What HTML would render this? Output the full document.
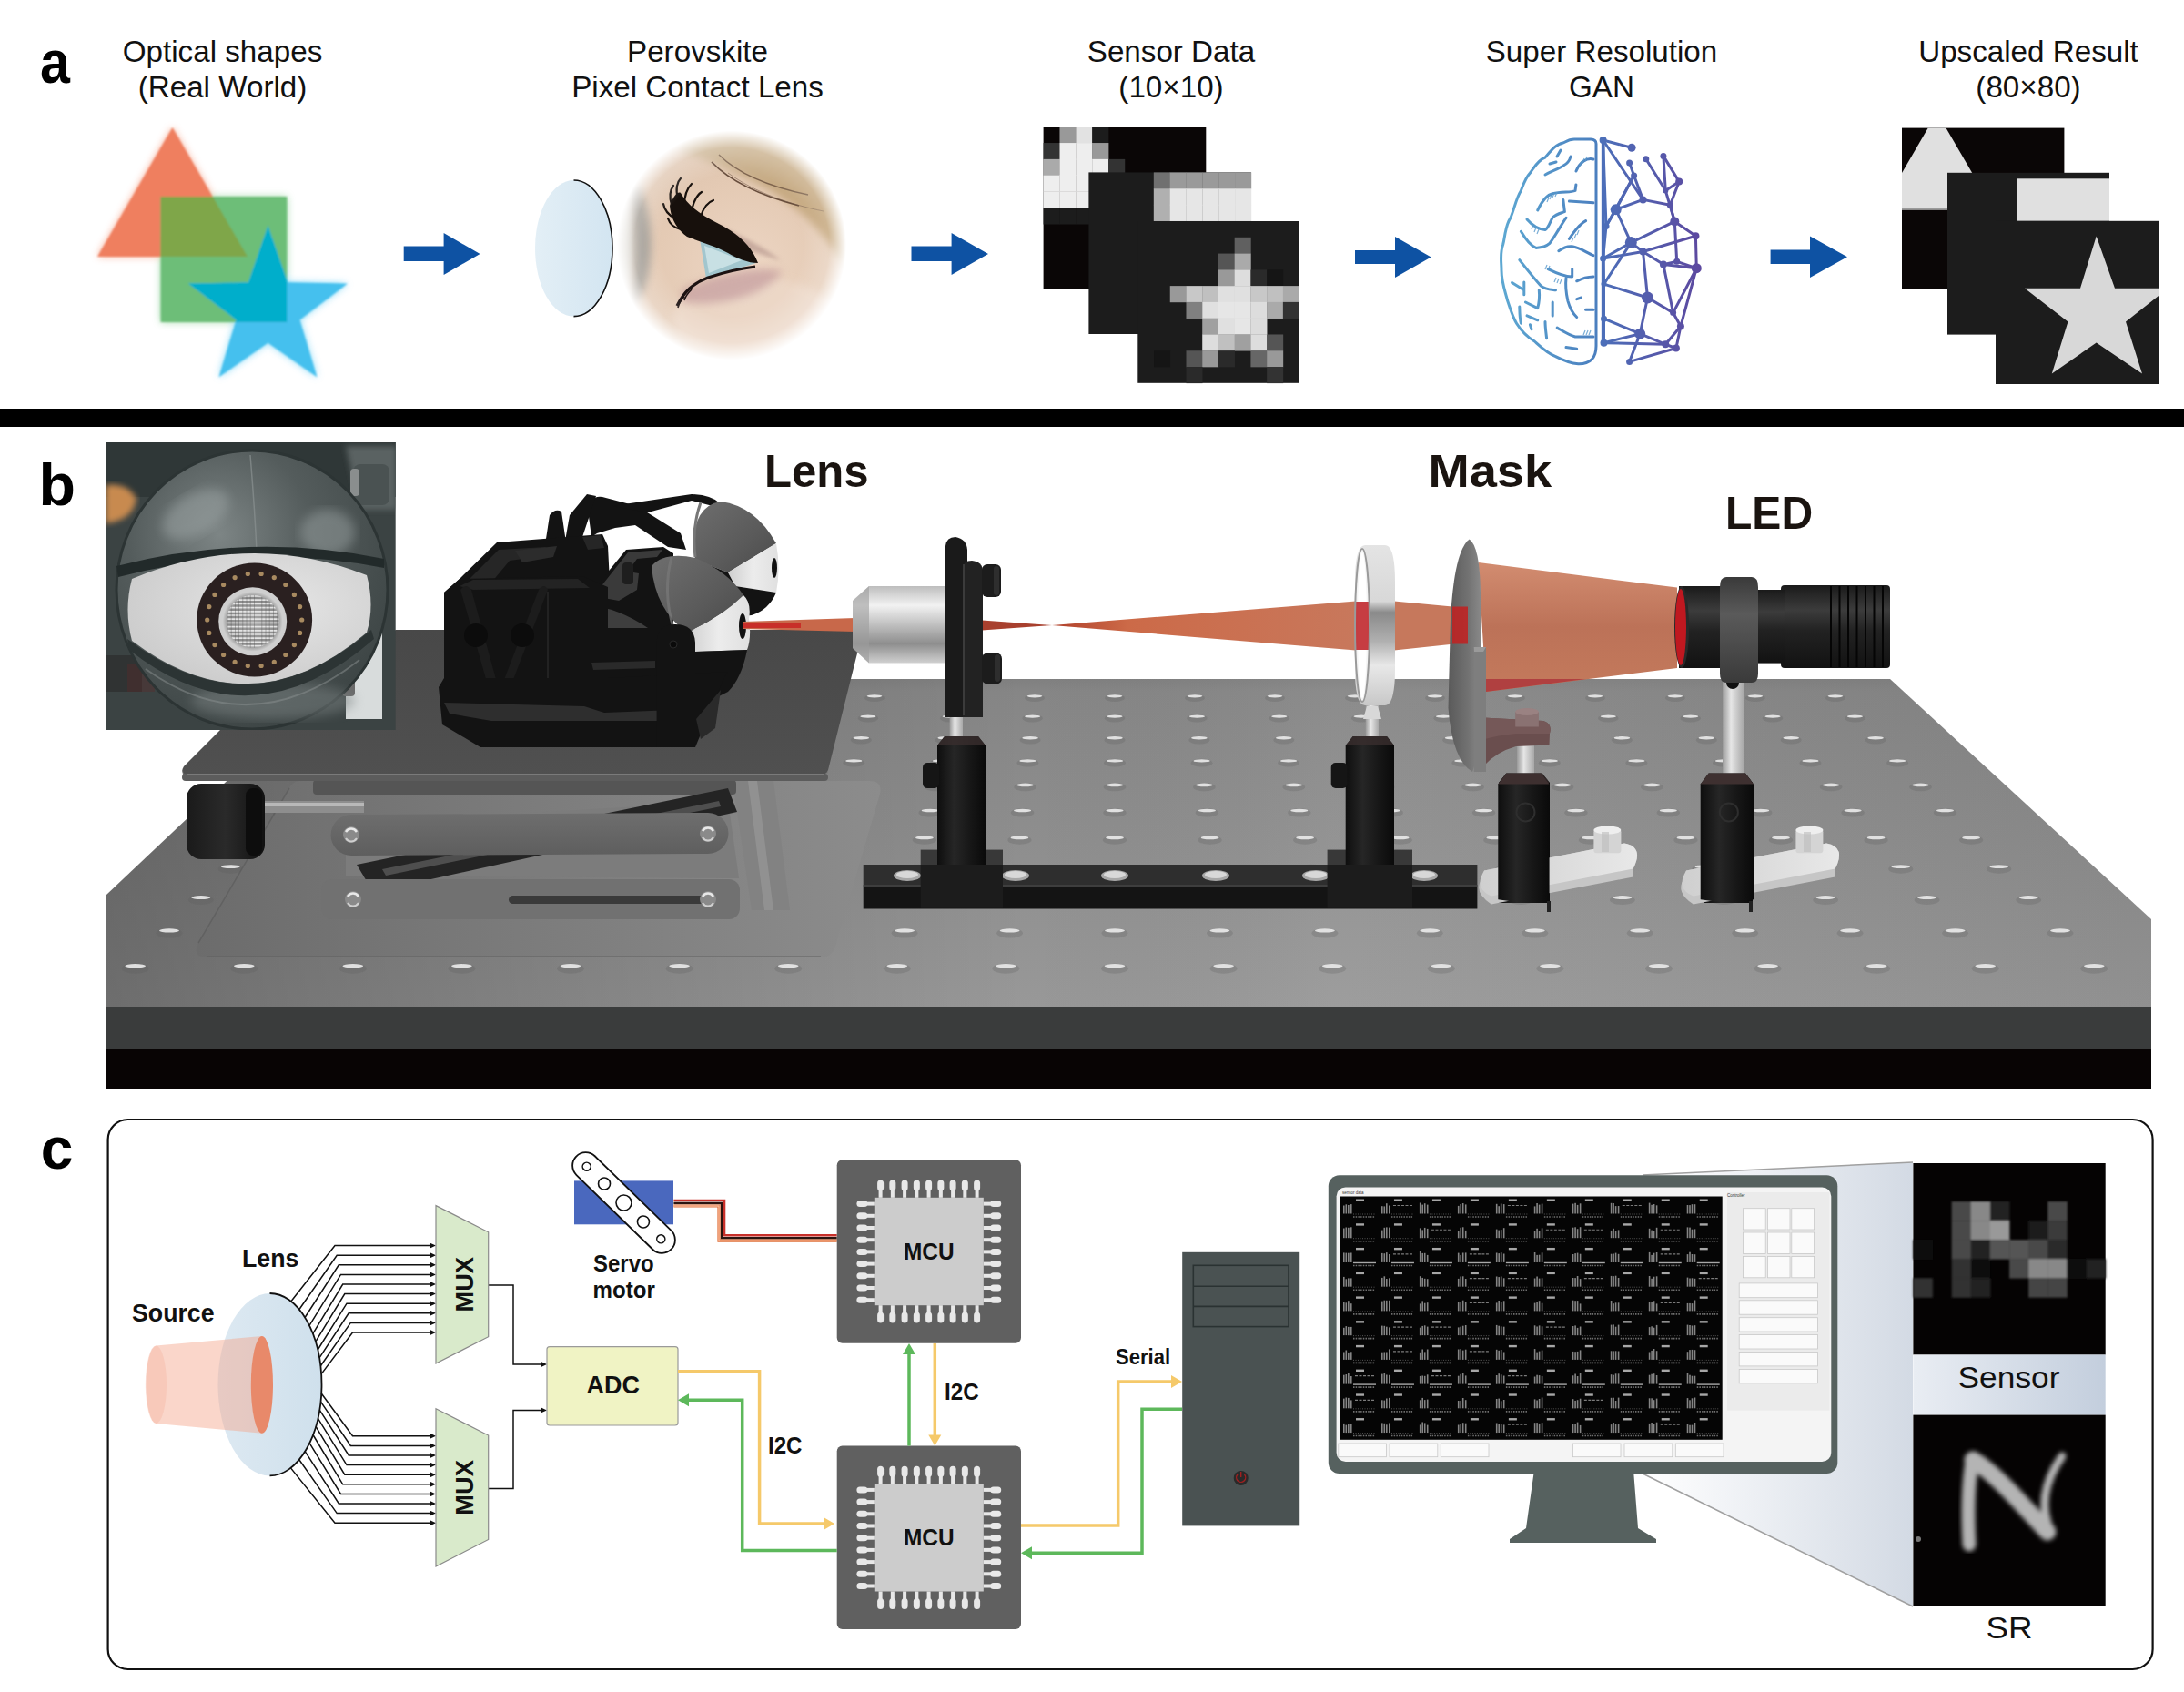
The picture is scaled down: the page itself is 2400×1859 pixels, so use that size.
<!DOCTYPE html>
<html><head><meta charset="utf-8"><title>Figure</title>
<style>
html,body{margin:0;padding:0;background:#ffffff;}
body{width:2400px;height:1859px;overflow:hidden;}
svg{display:block;}
text{font-family:"Liberation Sans",sans-serif;}
</style></head><body>
<svg width="2400" height="1859" viewBox="0 0 2400 1859">
<rect x="0" y="0" width="2400" height="1859" fill="#ffffff"/>
<text x="44" y="90.8" font-size="66.5" font-weight="bold" transform="translate(44,0) scale(0.89,1) translate(-44,0)" fill="#000">a</text>
<text x="244.5" y="67.8" font-size="33.2" text-anchor="middle" fill="#111">Optical shapes</text>
<text x="244.5" y="106.9" font-size="33.2" text-anchor="middle" fill="#111">(Real World)</text>
<text x="766.5" y="67.8" font-size="33.2" text-anchor="middle" fill="#111">Perovskite</text>
<text x="766.5" y="106.9" font-size="33.2" text-anchor="middle" fill="#111">Pixel Contact Lens</text>
<text x="1287" y="67.8" font-size="33.2" text-anchor="middle" fill="#111">Sensor Data</text>
<text x="1287" y="106.9" font-size="33.2" text-anchor="middle" fill="#111">(10×10)</text>
<text x="1760" y="67.8" font-size="33.2" text-anchor="middle" fill="#111">Super Resolution</text>
<text x="1760" y="106.9" font-size="33.2" text-anchor="middle" fill="#111">GAN</text>
<text x="2229" y="67.8" font-size="33.2" text-anchor="middle" fill="#111">Upscaled Result</text>
<text x="2229" y="106.9" font-size="33.2" text-anchor="middle" fill="#111">(80×80)</text>
<polygon points="443.7,270.6 487.6,270.6 487.6,256 527.5,279.0 487.6,302 487.6,287 443.7,287" fill="#0E52A3"/>
<polygon points="1001.5,270.6 1045.6,270.6 1045.6,256 1086,279.0 1045.6,302 1045.6,287 1001.5,287" fill="#0E52A3"/>
<polygon points="1489,275 1533,275 1533,260 1572.6,282.5 1533,305 1533,290 1489,290" fill="#0E52A3"/>
<polygon points="1945.6,274.5 1989,274.5 1989,259.6 2030,282.3 1989,305 1989,290 1945.6,290" fill="#0E52A3"/>
<defs><filter id="soft" x="-20%" y="-20%" width="140%" height="140%"><feGaussianBlur stdDeviation="4"/></filter><filter id="soft2" x="-20%" y="-20%" width="140%" height="140%"><feGaussianBlur stdDeviation="0.9"/></filter></defs>
<defs><clipPath id="sqclip"><rect x="176.6" y="216" width="138.8" height="138"/></clipPath></defs>
<g filter="url(#soft)" opacity="0.7">
<polygon points="189.5,140 107,282 272,282" fill="#F49070"/>
<rect x="176.6" y="216" width="138.8" height="138" fill="#80CC8A"/>
<polygon points="294.5,248.0 316.1,310.2 382.0,311.6 329.5,351.4 348.6,414.4 294.5,376.8 240.4,414.4 259.5,351.4 207.0,311.6 272.9,310.2" fill="#60CCF4"/>
</g>
<g filter="url(#soft2)">
<polygon points="189.5,140 107,282 272,282" fill="#EF7F5F"/>
<rect x="176.6" y="216" width="138.8" height="138" fill="#6DBE78"/>
<polygon points="176.6,216 233.7,216 272,282 176.6,282" fill="#7FA64A"/>
<polygon points="294.5,248.0 316.1,310.2 382.0,311.6 329.5,351.4 348.6,414.4 294.5,376.8 240.4,414.4 259.5,351.4 207.0,311.6 272.9,310.2" fill="#45C0EE"/>
<g clip-path="url(#sqclip)"><polygon points="294.5,248.0 316.1,310.2 382.0,311.6 329.5,351.4 348.6,414.4 294.5,376.8 240.4,414.4 259.5,351.4 207.0,311.6 272.9,310.2" fill="#00AECB"/></g>
</g>
<defs><linearGradient id="lensg" x1="0" x2="1"><stop offset="0" stop-color="#E3EFF6"/><stop offset="1" stop-color="#D3E5F1"/></linearGradient></defs>
<ellipse cx="630.5" cy="272.8" rx="42.5" ry="74.8" fill="url(#lensg)"/>
<path d="M630.5,198 A42.5,74.8 0 0 1 630.5,347.6" fill="none" stroke="#111" stroke-width="1.6"/>
<defs>
<radialGradient id="eyefade" cx="0.5" cy="0.5" r="0.5"><stop offset="0.62" stop-color="#fff" stop-opacity="1"/><stop offset="0.85" stop-color="#fff" stop-opacity="0.75"/><stop offset="1" stop-color="#fff" stop-opacity="0"/></radialGradient>
<mask id="eyemask"><circle cx="804" cy="269.5" r="126" fill="url(#eyefade)"/></mask>
<radialGradient id="skin" cx="0.55" cy="0.6" r="0.6"><stop offset="0" stop-color="#EDD6C4"/><stop offset="0.6" stop-color="#E4CAB4"/><stop offset="1" stop-color="#DCC2AC"/></radialGradient>
<linearGradient id="hair" x1="0" y1="0" x2="1" y2="1"><stop offset="0" stop-color="#CDB89A"/><stop offset="1" stop-color="#B9935E"/></linearGradient>
<filter id="blur2" x="-50%" y="-50%" width="200%" height="200%"><feGaussianBlur stdDeviation="2"/></filter>
<filter id="blur5" x="-60%" y="-60%" width="220%" height="220%"><feGaussianBlur stdDeviation="5"/></filter>
</defs>
<g mask="url(#eyemask)">
<rect x="670" y="140" width="270" height="260" fill="url(#skin)"/>
<ellipse cx="830" cy="350" rx="90" ry="45" fill="#EEDACB" opacity="0.7" filter="url(#blur5)"/>
<path d="M670,180 C690,200 700,240 698,275 C696,305 688,330 670,350 Z" fill="#D8D4CC" filter="url(#blur5)"/>
<path d="M700,200 C716,232 718,270 712,302 C708,320 700,334 690,342 C698,300 700,250 688,206 Z" fill="#96938C" opacity="0.9" filter="url(#blur5)"/>
<path d="M740,140 L940,140 L940,310 C920,275 892,238 855,214 C822,194 790,180 748,166 Z" fill="url(#hair)" filter="url(#blur5)"/>
<path d="M782,178 C805,202 840,216 878,226" fill="none" stroke="#4a3020" stroke-width="1.8" opacity="0.8"/>
<path d="M790,170 C812,192 845,205 888,214" fill="none" stroke="#5a4030" stroke-width="1.4" opacity="0.7"/>
<path d="M800,190 C830,212 870,225 905,232" fill="none" stroke="#6a5040" stroke-width="1" opacity="0.5"/>
<path d="M750,318 C790,300 830,292 860,298 C840,325 790,338 750,332 Z" fill="#B88A92" opacity="0.55" filter="url(#blur5)"/>
<path d="M755,236 C795,248 835,268 858,286 C835,280 790,262 758,250 Z" fill="#B09088" opacity="0.6" filter="url(#blur2)"/>
<polygon points="769,262 831,289 776,306" fill="#A2C6CE"/>
<polygon points="774,270 815,286 779,300" fill="#C8E0E4"/>
<path d="M736,226 C740,215 745,210 748,212 C756,226 770,236 790,246 C810,256 826,270 833,289 C822,289 810,284 800,278 C786,270 770,266 755,260 C744,252 737,240 736,226 Z" fill="#17100c"/>
<path d="M738,225 C735,215 737,208 740,204" fill="none" stroke="#17100c" stroke-width="2.2" stroke-linecap="round"/>
<path d="M745,218 C742,208 744,200 748,196" fill="none" stroke="#17100c" stroke-width="2.2" stroke-linecap="round"/>
<path d="M752,226 C752,214 756,206 760,202" fill="none" stroke="#17100c" stroke-width="2.2" stroke-linecap="round"/>
<path d="M760,232 C762,222 766,214 771,211" fill="none" stroke="#17100c" stroke-width="2.2" stroke-linecap="round"/>
<path d="M770,238 C773,228 778,222 784,220" fill="none" stroke="#17100c" stroke-width="2.2" stroke-linecap="round"/>
<path d="M742,240 C734,236 730,230 729,224" fill="none" stroke="#17100c" stroke-width="2.2" stroke-linecap="round"/>
<path d="M748,252 C740,250 736,246 734,240" fill="none" stroke="#17100c" stroke-width="2.2" stroke-linecap="round"/>
<path d="M744,336 C752,320 762,311 778,305 C796,299 814,295 830,293" fill="none" stroke="#1c1212" stroke-width="3.2"/>
<path d="M752,326 C748,330 746,334 745,338 M760,318 C756,322 753,326 752,330" fill="none" stroke="#1c1212" stroke-width="1.6"/>
</g>
<rect x="1146.6" y="139.2" width="178.70" height="178.40" fill="#0a0606"/>
<rect x="1164.47" y="139.20" width="18.17" height="18.14" fill="#999"/>
<rect x="1182.34" y="139.20" width="18.17" height="18.14" fill="#e2e2e2"/>
<rect x="1200.21" y="139.20" width="18.17" height="18.14" fill="#1c1c1c"/>
<rect x="1146.60" y="157.04" width="18.17" height="18.14" fill="#333"/>
<rect x="1164.47" y="157.04" width="18.17" height="18.14" fill="#eee"/>
<rect x="1182.34" y="157.04" width="18.17" height="18.14" fill="#eee"/>
<rect x="1200.21" y="157.04" width="18.17" height="18.14" fill="#999"/>
<rect x="1146.60" y="174.88" width="18.17" height="18.14" fill="#aaa"/>
<rect x="1164.47" y="174.88" width="18.17" height="18.14" fill="#eee"/>
<rect x="1182.34" y="174.88" width="18.17" height="18.14" fill="#eee"/>
<rect x="1200.21" y="174.88" width="18.17" height="18.14" fill="#eee"/>
<rect x="1218.08" y="174.88" width="18.17" height="18.14" fill="#333"/>
<rect x="1146.60" y="192.72" width="18.17" height="18.14" fill="#eee"/>
<rect x="1164.47" y="192.72" width="18.17" height="18.14" fill="#eee"/>
<rect x="1182.34" y="192.72" width="18.17" height="18.14" fill="#eee"/>
<rect x="1146.60" y="210.56" width="18.17" height="18.14" fill="#eee"/>
<rect x="1164.47" y="210.56" width="18.17" height="18.14" fill="#eee"/>
<rect x="1182.34" y="210.56" width="18.17" height="18.14" fill="#eee"/>
<rect x="1146.60" y="228.40" width="18.17" height="18.14" fill="#1c1c1c"/>
<rect x="1164.47" y="228.40" width="18.17" height="18.14" fill="#1c1c1c"/>
<rect x="1182.34" y="228.40" width="18.17" height="18.14" fill="#1c1c1c"/>
<rect x="1196.4" y="189.4" width="178.50" height="177.60" fill="#1c1c1c"/>
<rect x="1267.80" y="189.40" width="18.15" height="18.06" fill="#707070"/>
<rect x="1285.65" y="189.40" width="18.15" height="18.06" fill="#9a9a9a"/>
<rect x="1303.50" y="189.40" width="18.15" height="18.06" fill="#9a9a9a"/>
<rect x="1321.35" y="189.40" width="18.15" height="18.06" fill="#9a9a9a"/>
<rect x="1339.20" y="189.40" width="18.15" height="18.06" fill="#9a9a9a"/>
<rect x="1357.05" y="189.40" width="18.15" height="18.06" fill="#9a9a9a"/>
<rect x="1267.80" y="207.16" width="18.15" height="18.06" fill="#b0b0b0"/>
<rect x="1267.80" y="224.92" width="18.15" height="18.06" fill="#b0b0b0"/>
<rect x="1285.65" y="207.16" width="18.15" height="18.06" fill="#e6e6e6"/>
<rect x="1303.50" y="207.16" width="18.15" height="18.06" fill="#e6e6e6"/>
<rect x="1321.35" y="207.16" width="18.15" height="18.06" fill="#e6e6e6"/>
<rect x="1339.20" y="207.16" width="18.15" height="18.06" fill="#e6e6e6"/>
<rect x="1357.05" y="207.16" width="18.15" height="18.06" fill="#e6e6e6"/>
<rect x="1285.65" y="224.92" width="18.15" height="18.06" fill="#e6e6e6"/>
<rect x="1303.50" y="224.92" width="18.15" height="18.06" fill="#e6e6e6"/>
<rect x="1321.35" y="224.92" width="18.15" height="18.06" fill="#e6e6e6"/>
<rect x="1339.20" y="224.92" width="18.15" height="18.06" fill="#e6e6e6"/>
<rect x="1357.05" y="224.92" width="18.15" height="18.06" fill="#e6e6e6"/>
<rect x="1250.3" y="243" width="177.30" height="177.80" fill="#1c1c1c"/>
<rect x="1356.68" y="260.78" width="18.03" height="18.08" fill="#606060"/>
<rect x="1338.95" y="278.56" width="18.03" height="18.08" fill="#555"/>
<rect x="1356.68" y="278.56" width="18.03" height="18.08" fill="#aaa"/>
<rect x="1338.95" y="296.34" width="18.03" height="18.08" fill="#999"/>
<rect x="1356.68" y="296.34" width="18.03" height="18.08" fill="#ddd"/>
<rect x="1374.41" y="296.34" width="18.03" height="18.08" fill="#2a2a2a"/>
<rect x="1392.14" y="296.34" width="18.03" height="18.08" fill="#151515"/>
<rect x="1285.76" y="314.12" width="18.03" height="18.08" fill="#999"/>
<rect x="1303.49" y="314.12" width="18.03" height="18.08" fill="#c8c8c8"/>
<rect x="1321.22" y="314.12" width="18.03" height="18.08" fill="#c0c0c0"/>
<rect x="1338.95" y="314.12" width="18.03" height="18.08" fill="#e0e0e0"/>
<rect x="1356.68" y="314.12" width="18.03" height="18.08" fill="#e0e0e0"/>
<rect x="1374.41" y="314.12" width="18.03" height="18.08" fill="#c8c8c8"/>
<rect x="1392.14" y="314.12" width="18.03" height="18.08" fill="#c0c0c0"/>
<rect x="1409.87" y="314.12" width="18.03" height="18.08" fill="#aaa"/>
<rect x="1303.49" y="331.90" width="18.03" height="18.08" fill="#808080"/>
<rect x="1321.22" y="331.90" width="18.03" height="18.08" fill="#e0e0e0"/>
<rect x="1338.95" y="331.90" width="18.03" height="18.08" fill="#e6e6e6"/>
<rect x="1356.68" y="331.90" width="18.03" height="18.08" fill="#e6e6e6"/>
<rect x="1374.41" y="331.90" width="18.03" height="18.08" fill="#ddd"/>
<rect x="1392.14" y="331.90" width="18.03" height="18.08" fill="#aaa"/>
<rect x="1409.87" y="331.90" width="18.03" height="18.08" fill="#333"/>
<rect x="1321.22" y="349.68" width="18.03" height="18.08" fill="#a0a0a0"/>
<rect x="1338.95" y="349.68" width="18.03" height="18.08" fill="#e0e0e0"/>
<rect x="1356.68" y="349.68" width="18.03" height="18.08" fill="#e6e6e6"/>
<rect x="1374.41" y="349.68" width="18.03" height="18.08" fill="#dcdcdc"/>
<rect x="1321.22" y="367.46" width="18.03" height="18.08" fill="#ddd"/>
<rect x="1338.95" y="367.46" width="18.03" height="18.08" fill="#c0c0c0"/>
<rect x="1356.68" y="367.46" width="18.03" height="18.08" fill="#a0a0a0"/>
<rect x="1374.41" y="367.46" width="18.03" height="18.08" fill="#ddd"/>
<rect x="1392.14" y="367.46" width="18.03" height="18.08" fill="#555"/>
<rect x="1268.03" y="385.24" width="18.03" height="18.08" fill="#151515"/>
<rect x="1303.49" y="385.24" width="18.03" height="18.08" fill="#555"/>
<rect x="1321.22" y="385.24" width="18.03" height="18.08" fill="#999"/>
<rect x="1338.95" y="385.24" width="18.03" height="18.08" fill="#2a2a2a"/>
<rect x="1374.41" y="385.24" width="18.03" height="18.08" fill="#666"/>
<rect x="1392.14" y="385.24" width="18.03" height="18.08" fill="#999"/>
<rect x="1303.49" y="403.02" width="18.03" height="18.08" fill="#2a2a2a"/>
<rect x="1392.14" y="403.02" width="18.03" height="18.08" fill="#333"/>
<defs><clipPath id="up1"><rect x="2090" y="140.6" width="178.4" height="177"/></clipPath><clipPath id="up3"><rect x="2193" y="242.8" width="179" height="179.2"/></clipPath></defs>
<rect x="2090" y="140.6" width="178.4" height="177" fill="#0a0606"/>
<g clip-path="url(#up1)"><polygon points="2118.8,140.6 2138.4,140.6 2189.6,228.4 2090,228.4 2090,190" fill="#e0e0e0"/><rect x="2090" y="228.4" width="60" height="2.5" fill="#9a9a9a"/></g>
<rect x="2140" y="189.8" width="178" height="177.8" fill="#1c1c1c"/>
<rect x="2216" y="196.3" width="102" height="46.5" fill="#e0e0e0"/>
<rect x="2193" y="242.8" width="179" height="179.2" fill="#1c1c1c"/>
<g clip-path="url(#up3)"><polygon points="2303.7,259.6 2324,316.7 2382.4,316.7 2336,353.5 2354,410.5 2303.7,376.6 2254.8,410.5 2272.5,353.5 2225,316.7 2286,316.7" fill="#d8d8d8"/></g>
<defs><linearGradient id="brainL" x1="1650" x2="1760" y1="0" y2="0" gradientUnits="userSpaceOnUse"><stop offset="0" stop-color="#5DA8D2"/><stop offset="1" stop-color="#4A7DBE"/></linearGradient><linearGradient id="brainR" x1="1760" x2="1870" y1="0" y2="0" gradientUnits="userSpaceOnUse"><stop offset="0" stop-color="#4C6FB9"/><stop offset="1" stop-color="#5D489F"/></linearGradient></defs>
<g fill="none" stroke="url(#brainL)" stroke-width="3" stroke-linecap="round" stroke-linejoin="round">
<path d="M1754,158 Q1754,153 1748,153 L1730,153 C1724,153 1720,156 1717.8,157 C1710,158 1704,166 1698,173 C1690,176 1686,184 1681.4,190 C1676,196 1674,203 1671.4,209.5 C1666,218 1664,230 1659.9,239.3 C1654,248 1654,260 1651.6,269 C1648,278 1650,288 1650,297.2 C1650,310 1654,320 1656.6,330.3 C1660,340 1662,348 1666.5,355.2 C1672,364 1678,370 1686.3,375 C1694,382 1700,388 1709.5,391.6 C1718,396 1726,399 1734.3,399.8 C1742,400 1746,398 1749.2,394.9 Q1754,390 1754,380 Z"/>
<path d="M1732,188 C1736,178 1744,173 1751,175"/>
<path d="M1703,180 L1710,178"/>
<path d="M1711,172 L1715,165"/>
<path d="M1698,192 C1705,188 1712,186 1718,182 C1722,180 1725,176 1726,172"/>
<path d="M1689.7,231 C1694,222 1700,214 1706.2,212.8 C1716,210 1726,212 1731,209.5 L1731.9,202.9"/>
<path d="M1678,241 C1684,248 1692,252 1698,252.5 C1702,250 1704,242 1706,239.3 C1710,235 1716,234 1719.4,232.7 L1717.8,219.4"/>
<path d="M1724.4,221 L1751,222.8"/>
<path d="M1671.4,254.2 C1676,262 1682,270 1688,272.4 C1694,272 1700,270 1702.9,267.4 C1710,258 1716,246 1721,239.3"/>
<path d="M1724.4,262.5 C1730,254 1736,246 1742.6,242.6"/>
<path d="M1712.8,275.7 C1718,272 1722,270 1727.7,270.8 C1736,272 1744,278 1751,280.7"/>
<path d="M1669.8,285.6 C1678,296 1686,306 1693,313.8 C1698,318 1704,318 1709.5,318.7"/>
<path d="M1701.2,295.6 C1710,300 1720,304 1727.7,303.9 L1727.7,295.6"/>
<path d="M1721,305.5 C1720,314 1721,322 1722.8,330.3 C1725,338 1728,344 1732.7,348.5"/>
<path d="M1732.7,308.8 C1738,306 1746,304 1751,303.9"/>
<path d="M1661.5,310.5 L1674.8,318.7 M1674.8,310 L1674.8,323.7"/>
<path d="M1691.3,318.7 C1692,326 1691,334 1689.7,338.6 L1676.4,332"/>
<path d="M1669.8,337 C1670,344 1670,350 1671.4,355.2"/>
<path d="M1706.2,332 L1706.2,346.9"/>
<path d="M1732.7,328.7 L1737.6,327"/>
<path d="M1742.6,340.3 L1751,340.3"/>
<path d="M1678,346.9 L1689.7,351.8"/>
<path d="M1698,353.5 C1698,360 1699,366 1699.6,371.7"/>
<path d="M1711.2,360.1 C1718,364 1724,368 1731,370 L1751,370"/>
<path d="M1681.4,356.8 L1683,361.8"/>
<path d="M1721,381.6 L1732.7,383.3"/>
</g>
<g stroke="#5A9ACB" stroke-width="1.2" opacity="0.8">
<line x1="1700" y1="222" x2="1702" y2="217"/>
<line x1="1703" y1="219" x2="1705" y2="214"/>
<line x1="1706" y1="217" x2="1708" y2="212"/>
<line x1="1709" y1="216" x2="1711" y2="211"/>
<line x1="1736" y1="182" x2="1738" y2="177"/>
<line x1="1739" y1="179" x2="1741" y2="174"/>
<line x1="1742" y1="177" x2="1744" y2="172"/>
<line x1="1683" y1="252" x2="1685" y2="247"/>
<line x1="1686" y1="255" x2="1688" y2="250"/>
<line x1="1689" y1="257" x2="1691" y2="252"/>
<line x1="1727" y1="266" x2="1729" y2="261"/>
<line x1="1730" y1="262" x2="1732" y2="257"/>
<line x1="1733" y1="258" x2="1735" y2="253"/>
<line x1="1708" y1="310" x2="1710" y2="305"/>
<line x1="1711" y1="311" x2="1713" y2="306"/>
<line x1="1714" y1="312" x2="1716" y2="307"/>
<line x1="1740" y1="368" x2="1742" y2="363"/>
<line x1="1743" y1="368" x2="1745" y2="363"/>
<line x1="1746" y1="368" x2="1748" y2="363"/>
<line x1="1698" y1="296" x2="1700" y2="291"/>
<line x1="1701" y1="297" x2="1703" y2="292"/>
</g>
<g stroke="url(#brainR)" stroke-width="3" stroke-linecap="round">
<line x1="1761.6" y1="154" x2="1761.6" y2="378" stroke-width="3.5"/>
<line x1="1761.6" y1="154" x2="1793.1" y2="162.3"/>
<line x1="1761.6" y1="154" x2="1805.5" y2="219.4"/>
<line x1="1761.6" y1="154" x2="1765" y2="248.4"/>
<line x1="1790.6" y1="178.9" x2="1795.6" y2="193"/>
<line x1="1808.8" y1="174.8" x2="1830.3" y2="209.5"/>
<line x1="1827.9" y1="171.4" x2="1830.3" y2="209.5"/>
<line x1="1827.9" y1="171.4" x2="1845.2" y2="199.6"/>
<line x1="1795.6" y1="193" x2="1805.5" y2="219.4"/>
<line x1="1805.5" y1="219.4" x2="1835.3" y2="225.2"/>
<line x1="1830.3" y1="209.5" x2="1845.2" y2="199.6"/>
<line x1="1845.2" y1="199.6" x2="1835.3" y2="225.2"/>
<line x1="1835.3" y1="225.2" x2="1840.3" y2="243.4"/>
<line x1="1775.7" y1="230.2" x2="1795.6" y2="193"/>
<line x1="1775.7" y1="230.2" x2="1805.5" y2="219.4"/>
<line x1="1775.7" y1="230.2" x2="1792.3" y2="266.6"/>
<line x1="1765" y1="248.4" x2="1775.7" y2="230.2"/>
<line x1="1840.3" y1="243.4" x2="1863.4" y2="259.2"/>
<line x1="1840.3" y1="243.4" x2="1792.3" y2="266.6"/>
<line x1="1792.3" y1="266.6" x2="1805.5" y2="276.5"/>
<line x1="1805.5" y1="276.5" x2="1827.9" y2="290.6"/>
<line x1="1827.9" y1="290.6" x2="1864.3" y2="294.7"/>
<line x1="1863.4" y1="259.2" x2="1864.3" y2="294.7"/>
<line x1="1863.4" y1="259.2" x2="1805.5" y2="276.5"/>
<line x1="1761.6" y1="284" x2="1792.3" y2="266.6"/>
<line x1="1761.6" y1="284" x2="1805.5" y2="276.5"/>
<line x1="1842.7" y1="287.3" x2="1864.3" y2="294.7"/>
<line x1="1842.7" y1="287.3" x2="1827.9" y2="290.6"/>
<line x1="1792.3" y1="266.6" x2="1762.5" y2="312.1"/>
<line x1="1805.5" y1="276.5" x2="1810.5" y2="327"/>
<line x1="1762.5" y1="312.1" x2="1810.5" y2="327"/>
<line x1="1810.5" y1="327" x2="1838.6" y2="343.6"/>
<line x1="1838.6" y1="343.6" x2="1846.9" y2="358.5"/>
<line x1="1846.9" y1="358.5" x2="1864.3" y2="294.7"/>
<line x1="1827.9" y1="290.6" x2="1838.6" y2="343.6"/>
<line x1="1762.5" y1="312.1" x2="1762.5" y2="350.2"/>
<line x1="1762.5" y1="350.2" x2="1802.2" y2="366.7"/>
<line x1="1810.5" y1="327" x2="1802.2" y2="366.7"/>
<line x1="1802.2" y1="366.7" x2="1830.3" y2="378.3"/>
<line x1="1846.9" y1="358.5" x2="1830.3" y2="378.3"/>
<line x1="1762.5" y1="376.7" x2="1802.2" y2="366.7"/>
<line x1="1762.5" y1="376.7" x2="1830.3" y2="378.3"/>
<line x1="1830.3" y1="378.3" x2="1841.9" y2="382.5"/>
<line x1="1841.9" y1="382.5" x2="1846.9" y2="358.5"/>
<line x1="1802.2" y1="366.7" x2="1790.6" y2="397.4"/>
<line x1="1790.6" y1="397.4" x2="1841.9" y2="382.5"/>
<line x1="1765" y1="248.4" x2="1761.6" y2="284"/>
<line x1="1761.6" y1="284" x2="1762.5" y2="312.1"/>
<line x1="1840.3" y1="243.4" x2="1842.7" y2="287.3"/>
<line x1="1762.5" y1="350.2" x2="1762.5" y2="376.7"/>
<line x1="1830.3" y1="209.5" x2="1840.3" y2="243.4"/>
<line x1="1761.6" y1="154" x2="1762.5" y2="376.7"/>
<line x1="1795.6" y1="193" x2="1765" y2="248.4"/>
<line x1="1864.3" y1="294.7" x2="1838.6" y2="343.6"/>
</g><g fill="url(#brainR)">
<circle cx="1761.6" cy="154" r="4"/>
<circle cx="1793.1" cy="162.3" r="4.5"/>
<circle cx="1790.6" cy="178.9" r="3.5"/>
<circle cx="1808.8" cy="174.8" r="3.5"/>
<circle cx="1827.9" cy="171.4" r="3.5"/>
<circle cx="1845.2" cy="199.6" r="4"/>
<circle cx="1795.6" cy="193" r="3.5"/>
<circle cx="1830.3" cy="209.5" r="3"/>
<circle cx="1805.5" cy="219.4" r="4"/>
<circle cx="1835.3" cy="225.2" r="3.5"/>
<circle cx="1775.7" cy="230.2" r="6"/>
<circle cx="1840.3" cy="243.4" r="5"/>
<circle cx="1863.4" cy="259.2" r="4"/>
<circle cx="1765" cy="248.4" r="3.5"/>
<circle cx="1792.3" cy="266.6" r="6.5"/>
<circle cx="1805.5" cy="276.5" r="4"/>
<circle cx="1761.6" cy="284" r="3.5"/>
<circle cx="1827.9" cy="290.6" r="4"/>
<circle cx="1842.7" cy="287.3" r="3.5"/>
<circle cx="1864.3" cy="294.7" r="5.5"/>
<circle cx="1762.5" cy="312.1" r="3"/>
<circle cx="1810.5" cy="327" r="6.5"/>
<circle cx="1838.6" cy="343.6" r="3.5"/>
<circle cx="1846.9" cy="358.5" r="4"/>
<circle cx="1762.5" cy="350.2" r="3.5"/>
<circle cx="1802.2" cy="366.7" r="6"/>
<circle cx="1762.5" cy="376.7" r="4"/>
<circle cx="1830.3" cy="378.3" r="4"/>
<circle cx="1841.9" cy="382.5" r="4"/>
<circle cx="1790.6" cy="397.4" r="3.5"/>
</g>
<rect x="0" y="449" width="2400" height="20" fill="#000"/>

<defs>
<linearGradient id="tsurf" x1="0" y1="746" x2="0" y2="1106" gradientUnits="userSpaceOnUse">
<stop offset="0" stop-color="#808080"/><stop offset="0.04" stop-color="#868686"/><stop offset="0.5" stop-color="#8e8e8e"/><stop offset="1" stop-color="#989898"/></linearGradient>
<linearGradient id="tsurfx" x1="116" y1="0" x2="2364" y2="0" gradientUnits="userSpaceOnUse">
<stop offset="0" stop-color="#000" stop-opacity="0.28"/><stop offset="0.2" stop-color="#000" stop-opacity="0.15"/><stop offset="0.45" stop-color="#000" stop-opacity="0.0"/><stop offset="0.6" stop-color="#fff" stop-opacity="0.05"/><stop offset="1" stop-color="#000" stop-opacity="0.05"/></linearGradient>
</defs>
<polygon points="368,746 2077,746 2364,1010 2364,1106 116,1106 116,984" fill="url(#tsurf)"/>
<polygon points="368,746 2077,746 2364,1010 2364,1106 116,1106 116,984" fill="url(#tsurfx)"/>
<rect x="116" y="1106" width="2248" height="47" fill="#3a3c3c"/>
<rect x="116" y="1153" width="2248" height="43" fill="#080404"/>
<g>
<ellipse cx="433.1" cy="766.9" rx="11.0" ry="4.0" fill="#5a5a5a" opacity="0.25"/>
<ellipse cx="433.1" cy="764.8" rx="8.4" ry="1.6" fill="#e6e6e6" opacity="0.95"/>
<ellipse cx="521.1" cy="766.9" rx="11.0" ry="4.0" fill="#5a5a5a" opacity="0.25"/>
<ellipse cx="521.1" cy="764.8" rx="8.4" ry="1.6" fill="#e6e6e6" opacity="0.95"/>
<ellipse cx="609.1" cy="766.9" rx="11.0" ry="4.0" fill="#5a5a5a" opacity="0.25"/>
<ellipse cx="609.1" cy="764.8" rx="8.4" ry="1.6" fill="#e6e6e6" opacity="0.95"/>
<ellipse cx="697.0" cy="766.9" rx="11.0" ry="4.0" fill="#5a5a5a" opacity="0.25"/>
<ellipse cx="697.0" cy="764.8" rx="8.4" ry="1.6" fill="#e6e6e6" opacity="0.95"/>
<ellipse cx="785.0" cy="766.9" rx="11.0" ry="4.0" fill="#5a5a5a" opacity="0.25"/>
<ellipse cx="785.0" cy="764.8" rx="8.4" ry="1.6" fill="#e6e6e6" opacity="0.95"/>
<ellipse cx="873.0" cy="766.9" rx="11.0" ry="4.0" fill="#5a5a5a" opacity="0.25"/>
<ellipse cx="873.0" cy="764.8" rx="8.4" ry="1.6" fill="#e6e6e6" opacity="0.95"/>
<ellipse cx="961.0" cy="766.9" rx="11.0" ry="4.0" fill="#5a5a5a" opacity="0.25"/>
<ellipse cx="961.0" cy="764.8" rx="8.4" ry="1.6" fill="#e6e6e6" opacity="0.95"/>
<ellipse cx="1049.0" cy="766.9" rx="11.0" ry="4.0" fill="#5a5a5a" opacity="0.25"/>
<ellipse cx="1049.0" cy="764.8" rx="8.4" ry="1.6" fill="#e6e6e6" opacity="0.95"/>
<ellipse cx="1137.0" cy="766.9" rx="11.0" ry="4.0" fill="#5a5a5a" opacity="0.25"/>
<ellipse cx="1137.0" cy="764.8" rx="8.4" ry="1.6" fill="#e6e6e6" opacity="0.95"/>
<ellipse cx="1225.0" cy="766.9" rx="11.0" ry="4.0" fill="#5a5a5a" opacity="0.25"/>
<ellipse cx="1225.0" cy="764.8" rx="8.4" ry="1.6" fill="#e6e6e6" opacity="0.95"/>
<ellipse cx="1313.0" cy="766.9" rx="11.0" ry="4.0" fill="#5a5a5a" opacity="0.25"/>
<ellipse cx="1313.0" cy="764.8" rx="8.4" ry="1.6" fill="#e6e6e6" opacity="0.95"/>
<ellipse cx="1401.0" cy="766.9" rx="11.0" ry="4.0" fill="#5a5a5a" opacity="0.25"/>
<ellipse cx="1401.0" cy="764.8" rx="8.4" ry="1.6" fill="#e6e6e6" opacity="0.95"/>
<ellipse cx="1489.0" cy="766.9" rx="11.0" ry="4.0" fill="#5a5a5a" opacity="0.25"/>
<ellipse cx="1489.0" cy="764.8" rx="8.4" ry="1.6" fill="#e6e6e6" opacity="0.95"/>
<ellipse cx="1577.0" cy="766.9" rx="11.0" ry="4.0" fill="#5a5a5a" opacity="0.25"/>
<ellipse cx="1577.0" cy="764.8" rx="8.4" ry="1.6" fill="#e6e6e6" opacity="0.95"/>
<ellipse cx="1665.0" cy="766.9" rx="11.0" ry="4.0" fill="#5a5a5a" opacity="0.25"/>
<ellipse cx="1665.0" cy="764.8" rx="8.4" ry="1.6" fill="#e6e6e6" opacity="0.95"/>
<ellipse cx="1753.0" cy="766.9" rx="11.0" ry="4.0" fill="#5a5a5a" opacity="0.25"/>
<ellipse cx="1753.0" cy="764.8" rx="8.4" ry="1.6" fill="#e6e6e6" opacity="0.95"/>
<ellipse cx="1840.9" cy="766.9" rx="11.0" ry="4.0" fill="#5a5a5a" opacity="0.25"/>
<ellipse cx="1840.9" cy="764.8" rx="8.4" ry="1.6" fill="#e6e6e6" opacity="0.95"/>
<ellipse cx="1928.9" cy="766.9" rx="11.0" ry="4.0" fill="#5a5a5a" opacity="0.25"/>
<ellipse cx="1928.9" cy="764.8" rx="8.4" ry="1.6" fill="#e6e6e6" opacity="0.95"/>
<ellipse cx="2016.9" cy="766.9" rx="11.0" ry="4.0" fill="#5a5a5a" opacity="0.25"/>
<ellipse cx="2016.9" cy="764.8" rx="8.4" ry="1.6" fill="#e6e6e6" opacity="0.95"/>
<ellipse cx="411.6" cy="789.3" rx="11.3" ry="4.2" fill="#5a5a5a" opacity="0.25"/>
<ellipse cx="411.6" cy="787.2" rx="8.6" ry="1.6" fill="#e6e6e6" opacity="0.95"/>
<ellipse cx="502.0" cy="789.3" rx="11.3" ry="4.2" fill="#5a5a5a" opacity="0.25"/>
<ellipse cx="502.0" cy="787.2" rx="8.6" ry="1.6" fill="#e6e6e6" opacity="0.95"/>
<ellipse cx="592.3" cy="789.3" rx="11.3" ry="4.2" fill="#5a5a5a" opacity="0.25"/>
<ellipse cx="592.3" cy="787.2" rx="8.6" ry="1.6" fill="#e6e6e6" opacity="0.95"/>
<ellipse cx="682.7" cy="789.3" rx="11.3" ry="4.2" fill="#5a5a5a" opacity="0.25"/>
<ellipse cx="682.7" cy="787.2" rx="8.6" ry="1.6" fill="#e6e6e6" opacity="0.95"/>
<ellipse cx="773.1" cy="789.3" rx="11.3" ry="4.2" fill="#5a5a5a" opacity="0.25"/>
<ellipse cx="773.1" cy="787.2" rx="8.6" ry="1.6" fill="#e6e6e6" opacity="0.95"/>
<ellipse cx="863.5" cy="789.3" rx="11.3" ry="4.2" fill="#5a5a5a" opacity="0.25"/>
<ellipse cx="863.5" cy="787.2" rx="8.6" ry="1.6" fill="#e6e6e6" opacity="0.95"/>
<ellipse cx="953.9" cy="789.3" rx="11.3" ry="4.2" fill="#5a5a5a" opacity="0.25"/>
<ellipse cx="953.9" cy="787.2" rx="8.6" ry="1.6" fill="#e6e6e6" opacity="0.95"/>
<ellipse cx="1044.2" cy="789.3" rx="11.3" ry="4.2" fill="#5a5a5a" opacity="0.25"/>
<ellipse cx="1044.2" cy="787.2" rx="8.6" ry="1.6" fill="#e6e6e6" opacity="0.95"/>
<ellipse cx="1134.6" cy="789.3" rx="11.3" ry="4.2" fill="#5a5a5a" opacity="0.25"/>
<ellipse cx="1134.6" cy="787.2" rx="8.6" ry="1.6" fill="#e6e6e6" opacity="0.95"/>
<ellipse cx="1225.0" cy="789.3" rx="11.3" ry="4.2" fill="#5a5a5a" opacity="0.25"/>
<ellipse cx="1225.0" cy="787.2" rx="8.6" ry="1.6" fill="#e6e6e6" opacity="0.95"/>
<ellipse cx="1315.4" cy="789.3" rx="11.3" ry="4.2" fill="#5a5a5a" opacity="0.25"/>
<ellipse cx="1315.4" cy="787.2" rx="8.6" ry="1.6" fill="#e6e6e6" opacity="0.95"/>
<ellipse cx="1405.8" cy="789.3" rx="11.3" ry="4.2" fill="#5a5a5a" opacity="0.25"/>
<ellipse cx="1405.8" cy="787.2" rx="8.6" ry="1.6" fill="#e6e6e6" opacity="0.95"/>
<ellipse cx="1496.1" cy="789.3" rx="11.3" ry="4.2" fill="#5a5a5a" opacity="0.25"/>
<ellipse cx="1496.1" cy="787.2" rx="8.6" ry="1.6" fill="#e6e6e6" opacity="0.95"/>
<ellipse cx="1586.5" cy="789.3" rx="11.3" ry="4.2" fill="#5a5a5a" opacity="0.25"/>
<ellipse cx="1586.5" cy="787.2" rx="8.6" ry="1.6" fill="#e6e6e6" opacity="0.95"/>
<ellipse cx="1676.9" cy="789.3" rx="11.3" ry="4.2" fill="#5a5a5a" opacity="0.25"/>
<ellipse cx="1676.9" cy="787.2" rx="8.6" ry="1.6" fill="#e6e6e6" opacity="0.95"/>
<ellipse cx="1767.3" cy="789.3" rx="11.3" ry="4.2" fill="#5a5a5a" opacity="0.25"/>
<ellipse cx="1767.3" cy="787.2" rx="8.6" ry="1.6" fill="#e6e6e6" opacity="0.95"/>
<ellipse cx="1857.7" cy="789.3" rx="11.3" ry="4.2" fill="#5a5a5a" opacity="0.25"/>
<ellipse cx="1857.7" cy="787.2" rx="8.6" ry="1.6" fill="#e6e6e6" opacity="0.95"/>
<ellipse cx="1948.0" cy="789.3" rx="11.3" ry="4.2" fill="#5a5a5a" opacity="0.25"/>
<ellipse cx="1948.0" cy="787.2" rx="8.6" ry="1.6" fill="#e6e6e6" opacity="0.95"/>
<ellipse cx="2038.4" cy="789.3" rx="11.3" ry="4.2" fill="#5a5a5a" opacity="0.25"/>
<ellipse cx="2038.4" cy="787.2" rx="8.6" ry="1.6" fill="#e6e6e6" opacity="0.95"/>
<ellipse cx="388.9" cy="813.1" rx="11.6" ry="4.3" fill="#5a5a5a" opacity="0.25"/>
<ellipse cx="388.9" cy="810.8" rx="8.8" ry="1.7" fill="#e6e6e6" opacity="0.95"/>
<ellipse cx="481.8" cy="813.1" rx="11.6" ry="4.3" fill="#5a5a5a" opacity="0.25"/>
<ellipse cx="481.8" cy="810.8" rx="8.8" ry="1.7" fill="#e6e6e6" opacity="0.95"/>
<ellipse cx="574.7" cy="813.1" rx="11.6" ry="4.3" fill="#5a5a5a" opacity="0.25"/>
<ellipse cx="574.7" cy="810.8" rx="8.8" ry="1.7" fill="#e6e6e6" opacity="0.95"/>
<ellipse cx="667.6" cy="813.1" rx="11.6" ry="4.3" fill="#5a5a5a" opacity="0.25"/>
<ellipse cx="667.6" cy="810.8" rx="8.8" ry="1.7" fill="#e6e6e6" opacity="0.95"/>
<ellipse cx="760.5" cy="813.1" rx="11.6" ry="4.3" fill="#5a5a5a" opacity="0.25"/>
<ellipse cx="760.5" cy="810.8" rx="8.8" ry="1.7" fill="#e6e6e6" opacity="0.95"/>
<ellipse cx="853.4" cy="813.1" rx="11.6" ry="4.3" fill="#5a5a5a" opacity="0.25"/>
<ellipse cx="853.4" cy="810.8" rx="8.8" ry="1.7" fill="#e6e6e6" opacity="0.95"/>
<ellipse cx="946.3" cy="813.1" rx="11.6" ry="4.3" fill="#5a5a5a" opacity="0.25"/>
<ellipse cx="946.3" cy="810.8" rx="8.8" ry="1.7" fill="#e6e6e6" opacity="0.95"/>
<ellipse cx="1039.2" cy="813.1" rx="11.6" ry="4.3" fill="#5a5a5a" opacity="0.25"/>
<ellipse cx="1039.2" cy="810.8" rx="8.8" ry="1.7" fill="#e6e6e6" opacity="0.95"/>
<ellipse cx="1132.1" cy="813.1" rx="11.6" ry="4.3" fill="#5a5a5a" opacity="0.25"/>
<ellipse cx="1132.1" cy="810.8" rx="8.8" ry="1.7" fill="#e6e6e6" opacity="0.95"/>
<ellipse cx="1225.0" cy="813.1" rx="11.6" ry="4.3" fill="#5a5a5a" opacity="0.25"/>
<ellipse cx="1225.0" cy="810.8" rx="8.8" ry="1.7" fill="#e6e6e6" opacity="0.95"/>
<ellipse cx="1317.9" cy="813.1" rx="11.6" ry="4.3" fill="#5a5a5a" opacity="0.25"/>
<ellipse cx="1317.9" cy="810.8" rx="8.8" ry="1.7" fill="#e6e6e6" opacity="0.95"/>
<ellipse cx="1410.8" cy="813.1" rx="11.6" ry="4.3" fill="#5a5a5a" opacity="0.25"/>
<ellipse cx="1410.8" cy="810.8" rx="8.8" ry="1.7" fill="#e6e6e6" opacity="0.95"/>
<ellipse cx="1503.7" cy="813.1" rx="11.6" ry="4.3" fill="#5a5a5a" opacity="0.25"/>
<ellipse cx="1503.7" cy="810.8" rx="8.8" ry="1.7" fill="#e6e6e6" opacity="0.95"/>
<ellipse cx="1596.6" cy="813.1" rx="11.6" ry="4.3" fill="#5a5a5a" opacity="0.25"/>
<ellipse cx="1596.6" cy="810.8" rx="8.8" ry="1.7" fill="#e6e6e6" opacity="0.95"/>
<ellipse cx="1689.5" cy="813.1" rx="11.6" ry="4.3" fill="#5a5a5a" opacity="0.25"/>
<ellipse cx="1689.5" cy="810.8" rx="8.8" ry="1.7" fill="#e6e6e6" opacity="0.95"/>
<ellipse cx="1782.4" cy="813.1" rx="11.6" ry="4.3" fill="#5a5a5a" opacity="0.25"/>
<ellipse cx="1782.4" cy="810.8" rx="8.8" ry="1.7" fill="#e6e6e6" opacity="0.95"/>
<ellipse cx="1875.3" cy="813.1" rx="11.6" ry="4.3" fill="#5a5a5a" opacity="0.25"/>
<ellipse cx="1875.3" cy="810.8" rx="8.8" ry="1.7" fill="#e6e6e6" opacity="0.95"/>
<ellipse cx="1968.2" cy="813.1" rx="11.6" ry="4.3" fill="#5a5a5a" opacity="0.25"/>
<ellipse cx="1968.2" cy="810.8" rx="8.8" ry="1.7" fill="#e6e6e6" opacity="0.95"/>
<ellipse cx="2061.1" cy="813.1" rx="11.6" ry="4.3" fill="#5a5a5a" opacity="0.25"/>
<ellipse cx="2061.1" cy="810.8" rx="8.8" ry="1.7" fill="#e6e6e6" opacity="0.95"/>
<ellipse cx="364.9" cy="838.2" rx="11.9" ry="4.4" fill="#5a5a5a" opacity="0.25"/>
<ellipse cx="364.9" cy="835.9" rx="9.1" ry="1.7" fill="#e6e6e6" opacity="0.95"/>
<ellipse cx="460.5" cy="838.2" rx="11.9" ry="4.4" fill="#5a5a5a" opacity="0.25"/>
<ellipse cx="460.5" cy="835.9" rx="9.1" ry="1.7" fill="#e6e6e6" opacity="0.95"/>
<ellipse cx="556.0" cy="838.2" rx="11.9" ry="4.4" fill="#5a5a5a" opacity="0.25"/>
<ellipse cx="556.0" cy="835.9" rx="9.1" ry="1.7" fill="#e6e6e6" opacity="0.95"/>
<ellipse cx="651.6" cy="838.2" rx="11.9" ry="4.4" fill="#5a5a5a" opacity="0.25"/>
<ellipse cx="651.6" cy="835.9" rx="9.1" ry="1.7" fill="#e6e6e6" opacity="0.95"/>
<ellipse cx="747.2" cy="838.2" rx="11.9" ry="4.4" fill="#5a5a5a" opacity="0.25"/>
<ellipse cx="747.2" cy="835.9" rx="9.1" ry="1.7" fill="#e6e6e6" opacity="0.95"/>
<ellipse cx="842.7" cy="838.2" rx="11.9" ry="4.4" fill="#5a5a5a" opacity="0.25"/>
<ellipse cx="842.7" cy="835.9" rx="9.1" ry="1.7" fill="#e6e6e6" opacity="0.95"/>
<ellipse cx="938.3" cy="838.2" rx="11.9" ry="4.4" fill="#5a5a5a" opacity="0.25"/>
<ellipse cx="938.3" cy="835.9" rx="9.1" ry="1.7" fill="#e6e6e6" opacity="0.95"/>
<ellipse cx="1033.9" cy="838.2" rx="11.9" ry="4.4" fill="#5a5a5a" opacity="0.25"/>
<ellipse cx="1033.9" cy="835.9" rx="9.1" ry="1.7" fill="#e6e6e6" opacity="0.95"/>
<ellipse cx="1129.4" cy="838.2" rx="11.9" ry="4.4" fill="#5a5a5a" opacity="0.25"/>
<ellipse cx="1129.4" cy="835.9" rx="9.1" ry="1.7" fill="#e6e6e6" opacity="0.95"/>
<ellipse cx="1225.0" cy="838.2" rx="11.9" ry="4.4" fill="#5a5a5a" opacity="0.25"/>
<ellipse cx="1225.0" cy="835.9" rx="9.1" ry="1.7" fill="#e6e6e6" opacity="0.95"/>
<ellipse cx="1320.6" cy="838.2" rx="11.9" ry="4.4" fill="#5a5a5a" opacity="0.25"/>
<ellipse cx="1320.6" cy="835.9" rx="9.1" ry="1.7" fill="#e6e6e6" opacity="0.95"/>
<ellipse cx="1416.1" cy="838.2" rx="11.9" ry="4.4" fill="#5a5a5a" opacity="0.25"/>
<ellipse cx="1416.1" cy="835.9" rx="9.1" ry="1.7" fill="#e6e6e6" opacity="0.95"/>
<ellipse cx="1511.7" cy="838.2" rx="11.9" ry="4.4" fill="#5a5a5a" opacity="0.25"/>
<ellipse cx="1511.7" cy="835.9" rx="9.1" ry="1.7" fill="#e6e6e6" opacity="0.95"/>
<ellipse cx="1607.3" cy="838.2" rx="11.9" ry="4.4" fill="#5a5a5a" opacity="0.25"/>
<ellipse cx="1607.3" cy="835.9" rx="9.1" ry="1.7" fill="#e6e6e6" opacity="0.95"/>
<ellipse cx="1702.8" cy="838.2" rx="11.9" ry="4.4" fill="#5a5a5a" opacity="0.25"/>
<ellipse cx="1702.8" cy="835.9" rx="9.1" ry="1.7" fill="#e6e6e6" opacity="0.95"/>
<ellipse cx="1798.4" cy="838.2" rx="11.9" ry="4.4" fill="#5a5a5a" opacity="0.25"/>
<ellipse cx="1798.4" cy="835.9" rx="9.1" ry="1.7" fill="#e6e6e6" opacity="0.95"/>
<ellipse cx="1894.0" cy="838.2" rx="11.9" ry="4.4" fill="#5a5a5a" opacity="0.25"/>
<ellipse cx="1894.0" cy="835.9" rx="9.1" ry="1.7" fill="#e6e6e6" opacity="0.95"/>
<ellipse cx="1989.5" cy="838.2" rx="11.9" ry="4.4" fill="#5a5a5a" opacity="0.25"/>
<ellipse cx="1989.5" cy="835.9" rx="9.1" ry="1.7" fill="#e6e6e6" opacity="0.95"/>
<ellipse cx="2085.1" cy="838.2" rx="11.9" ry="4.4" fill="#5a5a5a" opacity="0.25"/>
<ellipse cx="2085.1" cy="835.9" rx="9.1" ry="1.7" fill="#e6e6e6" opacity="0.95"/>
<ellipse cx="339.5" cy="864.7" rx="12.3" ry="4.5" fill="#5a5a5a" opacity="0.25"/>
<ellipse cx="339.5" cy="862.4" rx="9.3" ry="1.8" fill="#e6e6e6" opacity="0.95"/>
<ellipse cx="437.9" cy="864.7" rx="12.3" ry="4.5" fill="#5a5a5a" opacity="0.25"/>
<ellipse cx="437.9" cy="862.4" rx="9.3" ry="1.8" fill="#e6e6e6" opacity="0.95"/>
<ellipse cx="536.3" cy="864.7" rx="12.3" ry="4.5" fill="#5a5a5a" opacity="0.25"/>
<ellipse cx="536.3" cy="862.4" rx="9.3" ry="1.8" fill="#e6e6e6" opacity="0.95"/>
<ellipse cx="634.6" cy="864.7" rx="12.3" ry="4.5" fill="#5a5a5a" opacity="0.25"/>
<ellipse cx="634.6" cy="862.4" rx="9.3" ry="1.8" fill="#e6e6e6" opacity="0.95"/>
<ellipse cx="733.0" cy="864.7" rx="12.3" ry="4.5" fill="#5a5a5a" opacity="0.25"/>
<ellipse cx="733.0" cy="862.4" rx="9.3" ry="1.8" fill="#e6e6e6" opacity="0.95"/>
<ellipse cx="831.4" cy="864.7" rx="12.3" ry="4.5" fill="#5a5a5a" opacity="0.25"/>
<ellipse cx="831.4" cy="862.4" rx="9.3" ry="1.8" fill="#e6e6e6" opacity="0.95"/>
<ellipse cx="929.8" cy="864.7" rx="12.3" ry="4.5" fill="#5a5a5a" opacity="0.25"/>
<ellipse cx="929.8" cy="862.4" rx="9.3" ry="1.8" fill="#e6e6e6" opacity="0.95"/>
<ellipse cx="1028.2" cy="864.7" rx="12.3" ry="4.5" fill="#5a5a5a" opacity="0.25"/>
<ellipse cx="1028.2" cy="862.4" rx="9.3" ry="1.8" fill="#e6e6e6" opacity="0.95"/>
<ellipse cx="1126.6" cy="864.7" rx="12.3" ry="4.5" fill="#5a5a5a" opacity="0.25"/>
<ellipse cx="1126.6" cy="862.4" rx="9.3" ry="1.8" fill="#e6e6e6" opacity="0.95"/>
<ellipse cx="1225.0" cy="864.7" rx="12.3" ry="4.5" fill="#5a5a5a" opacity="0.25"/>
<ellipse cx="1225.0" cy="862.4" rx="9.3" ry="1.8" fill="#e6e6e6" opacity="0.95"/>
<ellipse cx="1323.4" cy="864.7" rx="12.3" ry="4.5" fill="#5a5a5a" opacity="0.25"/>
<ellipse cx="1323.4" cy="862.4" rx="9.3" ry="1.8" fill="#e6e6e6" opacity="0.95"/>
<ellipse cx="1421.8" cy="864.7" rx="12.3" ry="4.5" fill="#5a5a5a" opacity="0.25"/>
<ellipse cx="1421.8" cy="862.4" rx="9.3" ry="1.8" fill="#e6e6e6" opacity="0.95"/>
<ellipse cx="1520.2" cy="864.7" rx="12.3" ry="4.5" fill="#5a5a5a" opacity="0.25"/>
<ellipse cx="1520.2" cy="862.4" rx="9.3" ry="1.8" fill="#e6e6e6" opacity="0.95"/>
<ellipse cx="1618.6" cy="864.7" rx="12.3" ry="4.5" fill="#5a5a5a" opacity="0.25"/>
<ellipse cx="1618.6" cy="862.4" rx="9.3" ry="1.8" fill="#e6e6e6" opacity="0.95"/>
<ellipse cx="1717.0" cy="864.7" rx="12.3" ry="4.5" fill="#5a5a5a" opacity="0.25"/>
<ellipse cx="1717.0" cy="862.4" rx="9.3" ry="1.8" fill="#e6e6e6" opacity="0.95"/>
<ellipse cx="1815.4" cy="864.7" rx="12.3" ry="4.5" fill="#5a5a5a" opacity="0.25"/>
<ellipse cx="1815.4" cy="862.4" rx="9.3" ry="1.8" fill="#e6e6e6" opacity="0.95"/>
<ellipse cx="1913.7" cy="864.7" rx="12.3" ry="4.5" fill="#5a5a5a" opacity="0.25"/>
<ellipse cx="1913.7" cy="862.4" rx="9.3" ry="1.8" fill="#e6e6e6" opacity="0.95"/>
<ellipse cx="2012.1" cy="864.7" rx="12.3" ry="4.5" fill="#5a5a5a" opacity="0.25"/>
<ellipse cx="2012.1" cy="862.4" rx="9.3" ry="1.8" fill="#e6e6e6" opacity="0.95"/>
<ellipse cx="2110.5" cy="864.7" rx="12.3" ry="4.5" fill="#5a5a5a" opacity="0.25"/>
<ellipse cx="2110.5" cy="862.4" rx="9.3" ry="1.8" fill="#e6e6e6" opacity="0.95"/>
<ellipse cx="312.5" cy="892.9" rx="12.7" ry="4.7" fill="#5a5a5a" opacity="0.25"/>
<ellipse cx="312.5" cy="890.5" rx="9.6" ry="1.8" fill="#e6e6e6" opacity="0.95"/>
<ellipse cx="413.9" cy="892.9" rx="12.7" ry="4.7" fill="#5a5a5a" opacity="0.25"/>
<ellipse cx="413.9" cy="890.5" rx="9.6" ry="1.8" fill="#e6e6e6" opacity="0.95"/>
<ellipse cx="515.3" cy="892.9" rx="12.7" ry="4.7" fill="#5a5a5a" opacity="0.25"/>
<ellipse cx="515.3" cy="890.5" rx="9.6" ry="1.8" fill="#e6e6e6" opacity="0.95"/>
<ellipse cx="616.7" cy="892.9" rx="12.7" ry="4.7" fill="#5a5a5a" opacity="0.25"/>
<ellipse cx="616.7" cy="890.5" rx="9.6" ry="1.8" fill="#e6e6e6" opacity="0.95"/>
<ellipse cx="718.1" cy="892.9" rx="12.7" ry="4.7" fill="#5a5a5a" opacity="0.25"/>
<ellipse cx="718.1" cy="890.5" rx="9.6" ry="1.8" fill="#e6e6e6" opacity="0.95"/>
<ellipse cx="819.4" cy="892.9" rx="12.7" ry="4.7" fill="#5a5a5a" opacity="0.25"/>
<ellipse cx="819.4" cy="890.5" rx="9.6" ry="1.8" fill="#e6e6e6" opacity="0.95"/>
<ellipse cx="920.8" cy="892.9" rx="12.7" ry="4.7" fill="#5a5a5a" opacity="0.25"/>
<ellipse cx="920.8" cy="890.5" rx="9.6" ry="1.8" fill="#e6e6e6" opacity="0.95"/>
<ellipse cx="1022.2" cy="892.9" rx="12.7" ry="4.7" fill="#5a5a5a" opacity="0.25"/>
<ellipse cx="1022.2" cy="890.5" rx="9.6" ry="1.8" fill="#e6e6e6" opacity="0.95"/>
<ellipse cx="1123.6" cy="892.9" rx="12.7" ry="4.7" fill="#5a5a5a" opacity="0.25"/>
<ellipse cx="1123.6" cy="890.5" rx="9.6" ry="1.8" fill="#e6e6e6" opacity="0.95"/>
<ellipse cx="1225.0" cy="892.9" rx="12.7" ry="4.7" fill="#5a5a5a" opacity="0.25"/>
<ellipse cx="1225.0" cy="890.5" rx="9.6" ry="1.8" fill="#e6e6e6" opacity="0.95"/>
<ellipse cx="1326.4" cy="892.9" rx="12.7" ry="4.7" fill="#5a5a5a" opacity="0.25"/>
<ellipse cx="1326.4" cy="890.5" rx="9.6" ry="1.8" fill="#e6e6e6" opacity="0.95"/>
<ellipse cx="1427.8" cy="892.9" rx="12.7" ry="4.7" fill="#5a5a5a" opacity="0.25"/>
<ellipse cx="1427.8" cy="890.5" rx="9.6" ry="1.8" fill="#e6e6e6" opacity="0.95"/>
<ellipse cx="1529.2" cy="892.9" rx="12.7" ry="4.7" fill="#5a5a5a" opacity="0.25"/>
<ellipse cx="1529.2" cy="890.5" rx="9.6" ry="1.8" fill="#e6e6e6" opacity="0.95"/>
<ellipse cx="1630.6" cy="892.9" rx="12.7" ry="4.7" fill="#5a5a5a" opacity="0.25"/>
<ellipse cx="1630.6" cy="890.5" rx="9.6" ry="1.8" fill="#e6e6e6" opacity="0.95"/>
<ellipse cx="1731.9" cy="892.9" rx="12.7" ry="4.7" fill="#5a5a5a" opacity="0.25"/>
<ellipse cx="1731.9" cy="890.5" rx="9.6" ry="1.8" fill="#e6e6e6" opacity="0.95"/>
<ellipse cx="1833.3" cy="892.9" rx="12.7" ry="4.7" fill="#5a5a5a" opacity="0.25"/>
<ellipse cx="1833.3" cy="890.5" rx="9.6" ry="1.8" fill="#e6e6e6" opacity="0.95"/>
<ellipse cx="1934.7" cy="892.9" rx="12.7" ry="4.7" fill="#5a5a5a" opacity="0.25"/>
<ellipse cx="1934.7" cy="890.5" rx="9.6" ry="1.8" fill="#e6e6e6" opacity="0.95"/>
<ellipse cx="2036.1" cy="892.9" rx="12.7" ry="4.7" fill="#5a5a5a" opacity="0.25"/>
<ellipse cx="2036.1" cy="890.5" rx="9.6" ry="1.8" fill="#e6e6e6" opacity="0.95"/>
<ellipse cx="2137.5" cy="892.9" rx="12.7" ry="4.7" fill="#5a5a5a" opacity="0.25"/>
<ellipse cx="2137.5" cy="890.5" rx="9.6" ry="1.8" fill="#e6e6e6" opacity="0.95"/>
<ellipse cx="283.9" cy="922.9" rx="13.1" ry="4.8" fill="#5a5a5a" opacity="0.25"/>
<ellipse cx="283.9" cy="920.4" rx="9.9" ry="1.9" fill="#e6e6e6" opacity="0.95"/>
<ellipse cx="388.4" cy="922.9" rx="13.1" ry="4.8" fill="#5a5a5a" opacity="0.25"/>
<ellipse cx="388.4" cy="920.4" rx="9.9" ry="1.9" fill="#e6e6e6" opacity="0.95"/>
<ellipse cx="493.0" cy="922.9" rx="13.1" ry="4.8" fill="#5a5a5a" opacity="0.25"/>
<ellipse cx="493.0" cy="920.4" rx="9.9" ry="1.9" fill="#e6e6e6" opacity="0.95"/>
<ellipse cx="597.6" cy="922.9" rx="13.1" ry="4.8" fill="#5a5a5a" opacity="0.25"/>
<ellipse cx="597.6" cy="920.4" rx="9.9" ry="1.9" fill="#e6e6e6" opacity="0.95"/>
<ellipse cx="702.1" cy="922.9" rx="13.1" ry="4.8" fill="#5a5a5a" opacity="0.25"/>
<ellipse cx="702.1" cy="920.4" rx="9.9" ry="1.9" fill="#e6e6e6" opacity="0.95"/>
<ellipse cx="806.7" cy="922.9" rx="13.1" ry="4.8" fill="#5a5a5a" opacity="0.25"/>
<ellipse cx="806.7" cy="920.4" rx="9.9" ry="1.9" fill="#e6e6e6" opacity="0.95"/>
<ellipse cx="911.3" cy="922.9" rx="13.1" ry="4.8" fill="#5a5a5a" opacity="0.25"/>
<ellipse cx="911.3" cy="920.4" rx="9.9" ry="1.9" fill="#e6e6e6" opacity="0.95"/>
<ellipse cx="1015.9" cy="922.9" rx="13.1" ry="4.8" fill="#5a5a5a" opacity="0.25"/>
<ellipse cx="1015.9" cy="920.4" rx="9.9" ry="1.9" fill="#e6e6e6" opacity="0.95"/>
<ellipse cx="1120.4" cy="922.9" rx="13.1" ry="4.8" fill="#5a5a5a" opacity="0.25"/>
<ellipse cx="1120.4" cy="920.4" rx="9.9" ry="1.9" fill="#e6e6e6" opacity="0.95"/>
<ellipse cx="1225.0" cy="922.9" rx="13.1" ry="4.8" fill="#5a5a5a" opacity="0.25"/>
<ellipse cx="1225.0" cy="920.4" rx="9.9" ry="1.9" fill="#e6e6e6" opacity="0.95"/>
<ellipse cx="1329.6" cy="922.9" rx="13.1" ry="4.8" fill="#5a5a5a" opacity="0.25"/>
<ellipse cx="1329.6" cy="920.4" rx="9.9" ry="1.9" fill="#e6e6e6" opacity="0.95"/>
<ellipse cx="1434.1" cy="922.9" rx="13.1" ry="4.8" fill="#5a5a5a" opacity="0.25"/>
<ellipse cx="1434.1" cy="920.4" rx="9.9" ry="1.9" fill="#e6e6e6" opacity="0.95"/>
<ellipse cx="1538.7" cy="922.9" rx="13.1" ry="4.8" fill="#5a5a5a" opacity="0.25"/>
<ellipse cx="1538.7" cy="920.4" rx="9.9" ry="1.9" fill="#e6e6e6" opacity="0.95"/>
<ellipse cx="1643.3" cy="922.9" rx="13.1" ry="4.8" fill="#5a5a5a" opacity="0.25"/>
<ellipse cx="1643.3" cy="920.4" rx="9.9" ry="1.9" fill="#e6e6e6" opacity="0.95"/>
<ellipse cx="1747.9" cy="922.9" rx="13.1" ry="4.8" fill="#5a5a5a" opacity="0.25"/>
<ellipse cx="1747.9" cy="920.4" rx="9.9" ry="1.9" fill="#e6e6e6" opacity="0.95"/>
<ellipse cx="1852.4" cy="922.9" rx="13.1" ry="4.8" fill="#5a5a5a" opacity="0.25"/>
<ellipse cx="1852.4" cy="920.4" rx="9.9" ry="1.9" fill="#e6e6e6" opacity="0.95"/>
<ellipse cx="1957.0" cy="922.9" rx="13.1" ry="4.8" fill="#5a5a5a" opacity="0.25"/>
<ellipse cx="1957.0" cy="920.4" rx="9.9" ry="1.9" fill="#e6e6e6" opacity="0.95"/>
<ellipse cx="2061.6" cy="922.9" rx="13.1" ry="4.8" fill="#5a5a5a" opacity="0.25"/>
<ellipse cx="2061.6" cy="920.4" rx="9.9" ry="1.9" fill="#e6e6e6" opacity="0.95"/>
<ellipse cx="2166.1" cy="922.9" rx="13.1" ry="4.8" fill="#5a5a5a" opacity="0.25"/>
<ellipse cx="2166.1" cy="920.4" rx="9.9" ry="1.9" fill="#e6e6e6" opacity="0.95"/>
<ellipse cx="253.3" cy="954.8" rx="13.5" ry="5.0" fill="#5a5a5a" opacity="0.25"/>
<ellipse cx="253.3" cy="952.2" rx="10.3" ry="1.9" fill="#e6e6e6" opacity="0.95"/>
<ellipse cx="361.3" cy="954.8" rx="13.5" ry="5.0" fill="#5a5a5a" opacity="0.25"/>
<ellipse cx="361.3" cy="952.2" rx="10.3" ry="1.9" fill="#e6e6e6" opacity="0.95"/>
<ellipse cx="469.3" cy="954.8" rx="13.5" ry="5.0" fill="#5a5a5a" opacity="0.25"/>
<ellipse cx="469.3" cy="952.2" rx="10.3" ry="1.9" fill="#e6e6e6" opacity="0.95"/>
<ellipse cx="577.2" cy="954.8" rx="13.5" ry="5.0" fill="#5a5a5a" opacity="0.25"/>
<ellipse cx="577.2" cy="952.2" rx="10.3" ry="1.9" fill="#e6e6e6" opacity="0.95"/>
<ellipse cx="685.2" cy="954.8" rx="13.5" ry="5.0" fill="#5a5a5a" opacity="0.25"/>
<ellipse cx="685.2" cy="952.2" rx="10.3" ry="1.9" fill="#e6e6e6" opacity="0.95"/>
<ellipse cx="793.2" cy="954.8" rx="13.5" ry="5.0" fill="#5a5a5a" opacity="0.25"/>
<ellipse cx="793.2" cy="952.2" rx="10.3" ry="1.9" fill="#e6e6e6" opacity="0.95"/>
<ellipse cx="901.1" cy="954.8" rx="13.5" ry="5.0" fill="#5a5a5a" opacity="0.25"/>
<ellipse cx="901.1" cy="952.2" rx="10.3" ry="1.9" fill="#e6e6e6" opacity="0.95"/>
<ellipse cx="1009.1" cy="954.8" rx="13.5" ry="5.0" fill="#5a5a5a" opacity="0.25"/>
<ellipse cx="1009.1" cy="952.2" rx="10.3" ry="1.9" fill="#e6e6e6" opacity="0.95"/>
<ellipse cx="1117.0" cy="954.8" rx="13.5" ry="5.0" fill="#5a5a5a" opacity="0.25"/>
<ellipse cx="1117.0" cy="952.2" rx="10.3" ry="1.9" fill="#e6e6e6" opacity="0.95"/>
<ellipse cx="1225.0" cy="954.8" rx="13.5" ry="5.0" fill="#5a5a5a" opacity="0.25"/>
<ellipse cx="1225.0" cy="952.2" rx="10.3" ry="1.9" fill="#e6e6e6" opacity="0.95"/>
<ellipse cx="1333.0" cy="954.8" rx="13.5" ry="5.0" fill="#5a5a5a" opacity="0.25"/>
<ellipse cx="1333.0" cy="952.2" rx="10.3" ry="1.9" fill="#e6e6e6" opacity="0.95"/>
<ellipse cx="1440.9" cy="954.8" rx="13.5" ry="5.0" fill="#5a5a5a" opacity="0.25"/>
<ellipse cx="1440.9" cy="952.2" rx="10.3" ry="1.9" fill="#e6e6e6" opacity="0.95"/>
<ellipse cx="1548.9" cy="954.8" rx="13.5" ry="5.0" fill="#5a5a5a" opacity="0.25"/>
<ellipse cx="1548.9" cy="952.2" rx="10.3" ry="1.9" fill="#e6e6e6" opacity="0.95"/>
<ellipse cx="1656.8" cy="954.8" rx="13.5" ry="5.0" fill="#5a5a5a" opacity="0.25"/>
<ellipse cx="1656.8" cy="952.2" rx="10.3" ry="1.9" fill="#e6e6e6" opacity="0.95"/>
<ellipse cx="1764.8" cy="954.8" rx="13.5" ry="5.0" fill="#5a5a5a" opacity="0.25"/>
<ellipse cx="1764.8" cy="952.2" rx="10.3" ry="1.9" fill="#e6e6e6" opacity="0.95"/>
<ellipse cx="1872.8" cy="954.8" rx="13.5" ry="5.0" fill="#5a5a5a" opacity="0.25"/>
<ellipse cx="1872.8" cy="952.2" rx="10.3" ry="1.9" fill="#e6e6e6" opacity="0.95"/>
<ellipse cx="1980.7" cy="954.8" rx="13.5" ry="5.0" fill="#5a5a5a" opacity="0.25"/>
<ellipse cx="1980.7" cy="952.2" rx="10.3" ry="1.9" fill="#e6e6e6" opacity="0.95"/>
<ellipse cx="2088.7" cy="954.8" rx="13.5" ry="5.0" fill="#5a5a5a" opacity="0.25"/>
<ellipse cx="2088.7" cy="952.2" rx="10.3" ry="1.9" fill="#e6e6e6" opacity="0.95"/>
<ellipse cx="2196.7" cy="954.8" rx="13.5" ry="5.0" fill="#5a5a5a" opacity="0.25"/>
<ellipse cx="2196.7" cy="952.2" rx="10.3" ry="1.9" fill="#e6e6e6" opacity="0.95"/>
<ellipse cx="220.8" cy="988.8" rx="13.9" ry="5.1" fill="#5a5a5a" opacity="0.25"/>
<ellipse cx="220.8" cy="986.1" rx="10.6" ry="2.0" fill="#e6e6e6" opacity="0.95"/>
<ellipse cx="332.4" cy="988.8" rx="13.9" ry="5.1" fill="#5a5a5a" opacity="0.25"/>
<ellipse cx="332.4" cy="986.1" rx="10.6" ry="2.0" fill="#e6e6e6" opacity="0.95"/>
<ellipse cx="443.9" cy="988.8" rx="13.9" ry="5.1" fill="#5a5a5a" opacity="0.25"/>
<ellipse cx="443.9" cy="986.1" rx="10.6" ry="2.0" fill="#e6e6e6" opacity="0.95"/>
<ellipse cx="555.5" cy="988.8" rx="13.9" ry="5.1" fill="#5a5a5a" opacity="0.25"/>
<ellipse cx="555.5" cy="986.1" rx="10.6" ry="2.0" fill="#e6e6e6" opacity="0.95"/>
<ellipse cx="667.1" cy="988.8" rx="13.9" ry="5.1" fill="#5a5a5a" opacity="0.25"/>
<ellipse cx="667.1" cy="986.1" rx="10.6" ry="2.0" fill="#e6e6e6" opacity="0.95"/>
<ellipse cx="778.7" cy="988.8" rx="13.9" ry="5.1" fill="#5a5a5a" opacity="0.25"/>
<ellipse cx="778.7" cy="986.1" rx="10.6" ry="2.0" fill="#e6e6e6" opacity="0.95"/>
<ellipse cx="890.3" cy="988.8" rx="13.9" ry="5.1" fill="#5a5a5a" opacity="0.25"/>
<ellipse cx="890.3" cy="986.1" rx="10.6" ry="2.0" fill="#e6e6e6" opacity="0.95"/>
<ellipse cx="1001.8" cy="988.8" rx="13.9" ry="5.1" fill="#5a5a5a" opacity="0.25"/>
<ellipse cx="1001.8" cy="986.1" rx="10.6" ry="2.0" fill="#e6e6e6" opacity="0.95"/>
<ellipse cx="1113.4" cy="988.8" rx="13.9" ry="5.1" fill="#5a5a5a" opacity="0.25"/>
<ellipse cx="1113.4" cy="986.1" rx="10.6" ry="2.0" fill="#e6e6e6" opacity="0.95"/>
<ellipse cx="1225.0" cy="988.8" rx="13.9" ry="5.1" fill="#5a5a5a" opacity="0.25"/>
<ellipse cx="1225.0" cy="986.1" rx="10.6" ry="2.0" fill="#e6e6e6" opacity="0.95"/>
<ellipse cx="1336.6" cy="988.8" rx="13.9" ry="5.1" fill="#5a5a5a" opacity="0.25"/>
<ellipse cx="1336.6" cy="986.1" rx="10.6" ry="2.0" fill="#e6e6e6" opacity="0.95"/>
<ellipse cx="1448.2" cy="988.8" rx="13.9" ry="5.1" fill="#5a5a5a" opacity="0.25"/>
<ellipse cx="1448.2" cy="986.1" rx="10.6" ry="2.0" fill="#e6e6e6" opacity="0.95"/>
<ellipse cx="1559.7" cy="988.8" rx="13.9" ry="5.1" fill="#5a5a5a" opacity="0.25"/>
<ellipse cx="1559.7" cy="986.1" rx="10.6" ry="2.0" fill="#e6e6e6" opacity="0.95"/>
<ellipse cx="1671.3" cy="988.8" rx="13.9" ry="5.1" fill="#5a5a5a" opacity="0.25"/>
<ellipse cx="1671.3" cy="986.1" rx="10.6" ry="2.0" fill="#e6e6e6" opacity="0.95"/>
<ellipse cx="1782.9" cy="988.8" rx="13.9" ry="5.1" fill="#5a5a5a" opacity="0.25"/>
<ellipse cx="1782.9" cy="986.1" rx="10.6" ry="2.0" fill="#e6e6e6" opacity="0.95"/>
<ellipse cx="1894.5" cy="988.8" rx="13.9" ry="5.1" fill="#5a5a5a" opacity="0.25"/>
<ellipse cx="1894.5" cy="986.1" rx="10.6" ry="2.0" fill="#e6e6e6" opacity="0.95"/>
<ellipse cx="2006.1" cy="988.8" rx="13.9" ry="5.1" fill="#5a5a5a" opacity="0.25"/>
<ellipse cx="2006.1" cy="986.1" rx="10.6" ry="2.0" fill="#e6e6e6" opacity="0.95"/>
<ellipse cx="2117.6" cy="988.8" rx="13.9" ry="5.1" fill="#5a5a5a" opacity="0.25"/>
<ellipse cx="2117.6" cy="986.1" rx="10.6" ry="2.0" fill="#e6e6e6" opacity="0.95"/>
<ellipse cx="2229.2" cy="988.8" rx="13.9" ry="5.1" fill="#5a5a5a" opacity="0.25"/>
<ellipse cx="2229.2" cy="986.1" rx="10.6" ry="2.0" fill="#e6e6e6" opacity="0.95"/>
<ellipse cx="186.0" cy="1025.2" rx="14.4" ry="5.3" fill="#5a5a5a" opacity="0.25"/>
<ellipse cx="186.0" cy="1022.4" rx="11.0" ry="2.1" fill="#e6e6e6" opacity="0.95"/>
<ellipse cx="301.4" cy="1025.2" rx="14.4" ry="5.3" fill="#5a5a5a" opacity="0.25"/>
<ellipse cx="301.4" cy="1022.4" rx="11.0" ry="2.1" fill="#e6e6e6" opacity="0.95"/>
<ellipse cx="416.9" cy="1025.2" rx="14.4" ry="5.3" fill="#5a5a5a" opacity="0.25"/>
<ellipse cx="416.9" cy="1022.4" rx="11.0" ry="2.1" fill="#e6e6e6" opacity="0.95"/>
<ellipse cx="532.3" cy="1025.2" rx="14.4" ry="5.3" fill="#5a5a5a" opacity="0.25"/>
<ellipse cx="532.3" cy="1022.4" rx="11.0" ry="2.1" fill="#e6e6e6" opacity="0.95"/>
<ellipse cx="647.8" cy="1025.2" rx="14.4" ry="5.3" fill="#5a5a5a" opacity="0.25"/>
<ellipse cx="647.8" cy="1022.4" rx="11.0" ry="2.1" fill="#e6e6e6" opacity="0.95"/>
<ellipse cx="763.2" cy="1025.2" rx="14.4" ry="5.3" fill="#5a5a5a" opacity="0.25"/>
<ellipse cx="763.2" cy="1022.4" rx="11.0" ry="2.1" fill="#e6e6e6" opacity="0.95"/>
<ellipse cx="878.7" cy="1025.2" rx="14.4" ry="5.3" fill="#5a5a5a" opacity="0.25"/>
<ellipse cx="878.7" cy="1022.4" rx="11.0" ry="2.1" fill="#e6e6e6" opacity="0.95"/>
<ellipse cx="994.1" cy="1025.2" rx="14.4" ry="5.3" fill="#5a5a5a" opacity="0.25"/>
<ellipse cx="994.1" cy="1022.4" rx="11.0" ry="2.1" fill="#e6e6e6" opacity="0.95"/>
<ellipse cx="1109.6" cy="1025.2" rx="14.4" ry="5.3" fill="#5a5a5a" opacity="0.25"/>
<ellipse cx="1109.6" cy="1022.4" rx="11.0" ry="2.1" fill="#e6e6e6" opacity="0.95"/>
<ellipse cx="1225.0" cy="1025.2" rx="14.4" ry="5.3" fill="#5a5a5a" opacity="0.25"/>
<ellipse cx="1225.0" cy="1022.4" rx="11.0" ry="2.1" fill="#e6e6e6" opacity="0.95"/>
<ellipse cx="1340.4" cy="1025.2" rx="14.4" ry="5.3" fill="#5a5a5a" opacity="0.25"/>
<ellipse cx="1340.4" cy="1022.4" rx="11.0" ry="2.1" fill="#e6e6e6" opacity="0.95"/>
<ellipse cx="1455.9" cy="1025.2" rx="14.4" ry="5.3" fill="#5a5a5a" opacity="0.25"/>
<ellipse cx="1455.9" cy="1022.4" rx="11.0" ry="2.1" fill="#e6e6e6" opacity="0.95"/>
<ellipse cx="1571.3" cy="1025.2" rx="14.4" ry="5.3" fill="#5a5a5a" opacity="0.25"/>
<ellipse cx="1571.3" cy="1022.4" rx="11.0" ry="2.1" fill="#e6e6e6" opacity="0.95"/>
<ellipse cx="1686.8" cy="1025.2" rx="14.4" ry="5.3" fill="#5a5a5a" opacity="0.25"/>
<ellipse cx="1686.8" cy="1022.4" rx="11.0" ry="2.1" fill="#e6e6e6" opacity="0.95"/>
<ellipse cx="1802.2" cy="1025.2" rx="14.4" ry="5.3" fill="#5a5a5a" opacity="0.25"/>
<ellipse cx="1802.2" cy="1022.4" rx="11.0" ry="2.1" fill="#e6e6e6" opacity="0.95"/>
<ellipse cx="1917.7" cy="1025.2" rx="14.4" ry="5.3" fill="#5a5a5a" opacity="0.25"/>
<ellipse cx="1917.7" cy="1022.4" rx="11.0" ry="2.1" fill="#e6e6e6" opacity="0.95"/>
<ellipse cx="2033.1" cy="1025.2" rx="14.4" ry="5.3" fill="#5a5a5a" opacity="0.25"/>
<ellipse cx="2033.1" cy="1022.4" rx="11.0" ry="2.1" fill="#e6e6e6" opacity="0.95"/>
<ellipse cx="2148.6" cy="1025.2" rx="14.4" ry="5.3" fill="#5a5a5a" opacity="0.25"/>
<ellipse cx="2148.6" cy="1022.4" rx="11.0" ry="2.1" fill="#e6e6e6" opacity="0.95"/>
<ellipse cx="2264.0" cy="1025.2" rx="14.4" ry="5.3" fill="#5a5a5a" opacity="0.25"/>
<ellipse cx="2264.0" cy="1022.4" rx="11.0" ry="2.1" fill="#e6e6e6" opacity="0.95"/>
<ellipse cx="148.7" cy="1064.2" rx="14.9" ry="5.5" fill="#5a5a5a" opacity="0.25"/>
<ellipse cx="148.7" cy="1061.3" rx="11.4" ry="2.2" fill="#e6e6e6" opacity="0.95"/>
<ellipse cx="268.3" cy="1064.2" rx="14.9" ry="5.5" fill="#5a5a5a" opacity="0.25"/>
<ellipse cx="268.3" cy="1061.3" rx="11.4" ry="2.2" fill="#e6e6e6" opacity="0.95"/>
<ellipse cx="387.8" cy="1064.2" rx="14.9" ry="5.5" fill="#5a5a5a" opacity="0.25"/>
<ellipse cx="387.8" cy="1061.3" rx="11.4" ry="2.2" fill="#e6e6e6" opacity="0.95"/>
<ellipse cx="507.4" cy="1064.2" rx="14.9" ry="5.5" fill="#5a5a5a" opacity="0.25"/>
<ellipse cx="507.4" cy="1061.3" rx="11.4" ry="2.2" fill="#e6e6e6" opacity="0.95"/>
<ellipse cx="627.0" cy="1064.2" rx="14.9" ry="5.5" fill="#5a5a5a" opacity="0.25"/>
<ellipse cx="627.0" cy="1061.3" rx="11.4" ry="2.2" fill="#e6e6e6" opacity="0.95"/>
<ellipse cx="746.6" cy="1064.2" rx="14.9" ry="5.5" fill="#5a5a5a" opacity="0.25"/>
<ellipse cx="746.6" cy="1061.3" rx="11.4" ry="2.2" fill="#e6e6e6" opacity="0.95"/>
<ellipse cx="866.2" cy="1064.2" rx="14.9" ry="5.5" fill="#5a5a5a" opacity="0.25"/>
<ellipse cx="866.2" cy="1061.3" rx="11.4" ry="2.2" fill="#e6e6e6" opacity="0.95"/>
<ellipse cx="985.8" cy="1064.2" rx="14.9" ry="5.5" fill="#5a5a5a" opacity="0.25"/>
<ellipse cx="985.8" cy="1061.3" rx="11.4" ry="2.2" fill="#e6e6e6" opacity="0.95"/>
<ellipse cx="1105.4" cy="1064.2" rx="14.9" ry="5.5" fill="#5a5a5a" opacity="0.25"/>
<ellipse cx="1105.4" cy="1061.3" rx="11.4" ry="2.2" fill="#e6e6e6" opacity="0.95"/>
<ellipse cx="1225.0" cy="1064.2" rx="14.9" ry="5.5" fill="#5a5a5a" opacity="0.25"/>
<ellipse cx="1225.0" cy="1061.3" rx="11.4" ry="2.2" fill="#e6e6e6" opacity="0.95"/>
<ellipse cx="1344.6" cy="1064.2" rx="14.9" ry="5.5" fill="#5a5a5a" opacity="0.25"/>
<ellipse cx="1344.6" cy="1061.3" rx="11.4" ry="2.2" fill="#e6e6e6" opacity="0.95"/>
<ellipse cx="1464.2" cy="1064.2" rx="14.9" ry="5.5" fill="#5a5a5a" opacity="0.25"/>
<ellipse cx="1464.2" cy="1061.3" rx="11.4" ry="2.2" fill="#e6e6e6" opacity="0.95"/>
<ellipse cx="1583.8" cy="1064.2" rx="14.9" ry="5.5" fill="#5a5a5a" opacity="0.25"/>
<ellipse cx="1583.8" cy="1061.3" rx="11.4" ry="2.2" fill="#e6e6e6" opacity="0.95"/>
<ellipse cx="1703.4" cy="1064.2" rx="14.9" ry="5.5" fill="#5a5a5a" opacity="0.25"/>
<ellipse cx="1703.4" cy="1061.3" rx="11.4" ry="2.2" fill="#e6e6e6" opacity="0.95"/>
<ellipse cx="1823.0" cy="1064.2" rx="14.9" ry="5.5" fill="#5a5a5a" opacity="0.25"/>
<ellipse cx="1823.0" cy="1061.3" rx="11.4" ry="2.2" fill="#e6e6e6" opacity="0.95"/>
<ellipse cx="1942.6" cy="1064.2" rx="14.9" ry="5.5" fill="#5a5a5a" opacity="0.25"/>
<ellipse cx="1942.6" cy="1061.3" rx="11.4" ry="2.2" fill="#e6e6e6" opacity="0.95"/>
<ellipse cx="2062.2" cy="1064.2" rx="14.9" ry="5.5" fill="#5a5a5a" opacity="0.25"/>
<ellipse cx="2062.2" cy="1061.3" rx="11.4" ry="2.2" fill="#e6e6e6" opacity="0.95"/>
<ellipse cx="2181.7" cy="1064.2" rx="14.9" ry="5.5" fill="#5a5a5a" opacity="0.25"/>
<ellipse cx="2181.7" cy="1061.3" rx="11.4" ry="2.2" fill="#e6e6e6" opacity="0.95"/>
<ellipse cx="2301.3" cy="1064.2" rx="14.9" ry="5.5" fill="#5a5a5a" opacity="0.25"/>
<ellipse cx="2301.3" cy="1061.3" rx="11.4" ry="2.2" fill="#e6e6e6" opacity="0.95"/>
</g>
<defs>
<linearGradient id="baseplate" x1="0" x2="1"><stop offset="0" stop-color="#6c6c6c"/><stop offset="1" stop-color="#8c8c8c"/></linearGradient>
<linearGradient id="plateTop" x1="0" y1="0" x2="0" y2="1"><stop offset="0" stop-color="#484848"/><stop offset="1" stop-color="#505050"/></linearGradient>
<linearGradient id="linkg" x1="0" y1="0" x2="0" y2="1"><stop offset="0" stop-color="#6e6e6e"/><stop offset="1" stop-color="#5e5e5e"/></linearGradient>
<linearGradient id="wheelg" x1="0" x2="1"><stop offset="0" stop-color="#1a1a1a"/><stop offset="0.5" stop-color="#2a2a2a"/><stop offset="1" stop-color="#111"/></linearGradient>
</defs>
<path d="M330,858 L955,858 Q970,858 967,872 L918,1040 Q914,1052 902,1052 L228,1052 Q210,1052 218,1036 L318,866 Q322,858 330,858 Z" fill="url(#baseplate)"/>
<path d="M228,1051 L902,1051" stroke="#5e5e5e" stroke-width="1.5" opacity="0.6"/><path d="M218,1036 L318,866" stroke="#555" stroke-width="1.5" opacity="0.5"/>

<polygon points="380,905 800,880 812,965 380,962" fill="#7c7c7c"/>
<polygon points="805,858 850,858 868,1000 826,1000" fill="#828282"/>
<polygon points="822,858 832,858 850,1000 840,1000" fill="#a0a0a0" opacity="0.5"/>
<rect x="344" y="857" width="465" height="16" rx="4" fill="#555"/>
<rect x="285" y="880" width="115" height="13" fill="#8e8e8e"/>
<rect x="285" y="882" width="115" height="4" fill="#b8b8b8"/>
<polygon points="392,950 800,866 810,892 410,980" fill="#242424"/>
<polygon points="420,955 790,880 792,886 424,962" fill="#6a6a6a" opacity="0.6"/>
<path d="M386,895 L778,893 A22,22 0 0 1 778,938 L386,940 A22.5,22.5 0 0 1 386,895 Z" fill="url(#linkg)"/>
<rect x="353" y="966" width="460" height="44" rx="12" fill="#717171"/>
<rect x="559" y="984" width="215" height="9" rx="4.5" fill="#3a3a3a"/>
<circle cx="386" cy="917" r="9" fill="#8a8a8a"/><path d="M380,914 A7,7 0 0 1 392,914" stroke="#e8e8e8" stroke-width="2.5" fill="none"/><path d="M380,921 A7,7 0 0 0 392,921" stroke="#d0d0d0" stroke-width="2" fill="none"/>
<circle cx="778" cy="916" r="9" fill="#8a8a8a"/><path d="M772,913 A7,7 0 0 1 784,913" stroke="#e8e8e8" stroke-width="2.5" fill="none"/><path d="M772,920 A7,7 0 0 0 784,920" stroke="#d0d0d0" stroke-width="2" fill="none"/>
<circle cx="388" cy="988" r="9" fill="#8a8a8a"/><path d="M382,985 A7,7 0 0 1 394,985" stroke="#e8e8e8" stroke-width="2.5" fill="none"/><path d="M382,992 A7,7 0 0 0 394,992" stroke="#d0d0d0" stroke-width="2" fill="none"/>
<circle cx="778" cy="988" r="9" fill="#8a8a8a"/><path d="M772,985 A7,7 0 0 1 784,985" stroke="#e8e8e8" stroke-width="2.5" fill="none"/><path d="M772,992 A7,7 0 0 0 784,992" stroke="#d0d0d0" stroke-width="2" fill="none"/>
<rect x="205" y="861" width="86" height="83" rx="16" fill="url(#wheelg)"/>
<rect x="270" y="866" width="18" height="74" rx="8" fill="#0d0d0d"/>
<path d="M435,692 L938,692 Q948,692 946,702 L910,846 Q908,852 898,852 L210,852 Q196,852 202,842 L300,744 L435,692 Z" fill="url(#plateTop)"/>
<path d="M202,842 Q197,858 212,858 L898,858 Q908,858 910,846 L908,852 Q906,852 898,852 L210,852 Q198,852 202,842 Z" fill="#6a6a6a"/>
<rect x="200" y="850" width="710" height="8" rx="4" fill="#5c5c5c"/>
<rect x="205" y="850" width="700" height="2" fill="#7a7a7a"/>
<defs>
<linearGradient id="domeg" x1="0" y1="0" x2="1" y2="1"><stop offset="0" stop-color="#6e6e6e"/><stop offset="0.6" stop-color="#5a5a5a"/><stop offset="1" stop-color="#4a4a4a"/></linearGradient>
<linearGradient id="whiteg" x1="0" y1="0" x2="1" y2="0"><stop offset="0" stop-color="#cfcfcf"/><stop offset="0.5" stop-color="#ececec"/><stop offset="1" stop-color="#e0e0e0"/></linearGradient>
</defs>
<path d="M650,590 L646,560 Q648,544 662,546 L700,556 L748,586 L754,604 L734,601 L698,577 L676,580 L656,586 Z" fill="#131313"/>
<path d="M672,556 L760,543 Q782,544 791,553 L787,557 L760,550 L712,563 Z" fill="#131313"/>
<path d="M626,566 L645,543 L655,545 L640,590 L620,600 Z" fill="#131313"/>
<path d="M600,592 L604,566 Q610,558 617,562 L622,596 Z" fill="#131313"/>
<path d="M762,600 Q762,556 792,551 Q830,556 853,597 L800,629 L764,615 Z" fill="url(#domeg)"/>
<path d="M800,629 L853,597 Q858,625 853,651 L808,644 Z" fill="url(#whiteg)"/>
<path d="M764,615 L800,629 L808,644 L853,651 Q845,670 826,676 Q790,680 770,660 Z" fill="#131313"/>
<ellipse cx="851" cy="624" rx="3" ry="11" fill="#111"/>
<path d="M770,552 Q760,580 764,612" stroke="#777" stroke-width="3" fill="none"/>
<polygon points="488,651 505,636 546,596 662,587 668,600 670,640 640,652" fill="#131313"/>
<polygon points="512,640 548,604 600,601 590,612 560,616 540,640" fill="#262626"/>
<polygon points="566,605 612,600 608,612 574,618" fill="#2c2c2c"/>
<polygon points="640,590 660,588 664,602 646,604" fill="#262626"/>
<polygon points="647,654 688,604 729,601 740,608 740,700 650,700" fill="#131313"/>
<polygon points="652,655 690,607 728,604 722,612 700,614 690,628 702,630 700,648 680,660" fill="#3a3a3a"/>
<path d="M644,664 Q680,668 712,690 L712,700 L644,700 Z" fill="#3e3e3e"/>
<rect x="684" y="618" width="12" height="24" rx="4" fill="#1e1e1e"/>
<polygon points="488,651 505,636 640,633 668,645 668,748 488,748" fill="#131313"/>
<polygon points="505,644 520,637 635,636 648,646 520,648" fill="#232323"/>
<path d="M506,648 Q512,640 518,648 L548,757 L538,760 Z" fill="#1c1c1c"/>
<path d="M592,648 Q598,640 602,648 L560,757 L550,757 Z" fill="#1c1c1c"/>
<circle cx="523" cy="698" r="13" fill="#0c0c0c"/><circle cx="574" cy="698" r="13" fill="#0c0c0c"/>
<line x1="602" y1="650" x2="602" y2="745" stroke="#222" stroke-width="2"/>
<rect x="660" y="690" width="70" height="70" fill="#131313"/>
<polygon points="650,728 720,726 720,734 652,736" fill="#2a2a2a"/>
<path d="M716,622 Q730,606 764,613 Q800,628 817,654 Q790,680 755,695 Q720,670 716,622 Z" fill="url(#domeg)"/>
<path d="M755,695 Q790,680 817,654 Q826,662 823,680 Q826,700 821,714 L764,716 Z" fill="url(#whiteg)"/>
<path d="M764,716 L821,714 Q815,745 800,760 L764,778 Z" fill="#131313"/>
<ellipse cx="816" cy="688" rx="4" ry="14" fill="#111"/>
<path d="M738,612 Q728,650 740,690" stroke="#777" stroke-width="3" fill="none" opacity="0.8"/>
<polygon points="482,755 488,745 668,745 800,738 796,744 764,821 528,821 486,796" fill="#131313"/>
<polygon points="488,772 642,776 664,783 740,780 740,792 540,792 494,784" fill="#2e2e2e"/>
<polygon points="765,790 792,758 786,800 770,812" fill="#2a2a2a"/>
<path d="M721.6,706 Q722,686 742,686 Q763,686 764,706 L764,821 L721.6,821 Z" fill="#131313"/>
<circle cx="740" cy="708" r="4" fill="#0a0a0a" stroke="#2a2a2a" stroke-width="1"/>
<defs>
<linearGradient id="silverV" x1="0" y1="0" x2="0" y2="1">
<stop offset="0" stop-color="#bdbdbd"/><stop offset="0.25" stop-color="#f2f2f2"/><stop offset="0.5" stop-color="#c0c0c0"/><stop offset="0.75" stop-color="#8e8e8e"/><stop offset="1" stop-color="#d0d0d0"/></linearGradient>
<linearGradient id="silverH" x1="0" y1="0" x2="1" y2="0">
<stop offset="0" stop-color="#9a9a9a"/><stop offset="0.4" stop-color="#e6e6e6"/><stop offset="1" stop-color="#a8a8a8"/></linearGradient>
<linearGradient id="ringg" x1="0" y1="0" x2="0" y2="1">
<stop offset="0" stop-color="#e4e4e4"/><stop offset="0.35" stop-color="#d8d8d8"/><stop offset="0.42" stop-color="#8a8a8a"/><stop offset="0.6" stop-color="#b0b0b0"/><stop offset="0.75" stop-color="#e8e8e8"/><stop offset="1" stop-color="#c8c8c8"/></linearGradient>
<linearGradient id="blackcyl" x1="0" y1="0" x2="1" y2="0">
<stop offset="0" stop-color="#0e0e0e"/><stop offset="0.35" stop-color="#262626"/><stop offset="0.7" stop-color="#161616"/><stop offset="1" stop-color="#0a0a0a"/></linearGradient>
<linearGradient id="ledbody" x1="0" y1="0" x2="0" y2="1">
<stop offset="0" stop-color="#1a1a1a"/><stop offset="0.3" stop-color="#3c3c3c"/><stop offset="0.55" stop-color="#222"/><stop offset="1" stop-color="#121212"/></linearGradient>
<linearGradient id="collarg" x1="0" y1="0" x2="0" y2="1">
<stop offset="0" stop-color="#3a3a3a"/><stop offset="0.35" stop-color="#5a5a5a"/><stop offset="1" stop-color="#3a3a3a"/></linearGradient>
<linearGradient id="beamg" x1="0" y1="0" x2="1" y2="0">
<stop offset="0" stop-color="#B0402A"/><stop offset="0.25" stop-color="#CC6A48"/><stop offset="1" stop-color="#C8785C"/></linearGradient>
<linearGradient id="beamD" x1="0" y1="0" x2="0" y2="1">
<stop offset="0" stop-color="#D28C70"/><stop offset="0.5" stop-color="#BC7258"/><stop offset="1" stop-color="#C47A5C"/></linearGradient>
<linearGradient id="clampg" x1="0" y1="0" x2="1" y2="0">
<stop offset="0" stop-color="#cfcfcf"/><stop offset="1" stop-color="#e8e8e8"/></linearGradient>
<linearGradient id="maskg" x1="0" y1="0" x2="1" y2="0">
<stop offset="0" stop-color="#5a5a5a"/><stop offset="0.6" stop-color="#727272"/><stop offset="1" stop-color="#8a8a8a"/></linearGradient>
</defs>
<polygon points="817,683 940,679 940,694 817,691" fill="#C8684A"/>
<polygon points="817,685 880,684 880,690 817,690" fill="#C82020" opacity="0.8"/>
<polygon points="955,644 1041,644 1041,728.5 955,728.5 937,712 937,660" fill="url(#silverV)"/>
<polygon points="937,660 955,644 955,728.5 937,712" fill="#9c9c9c" opacity="0.6"/>
<polygon points="1079,681.6 1156,687 1079,692.6" fill="#A8402E"/>
<polygon points="1156,687 1490,660.5 1490,714.6" fill="url(#beamg)"/>
<polygon points="1532,660.5 1596,666.5 1596,707.7 1532,714.6" fill="#C6785C"/>
<polygon points="1624.6,618 1843,645.6 1843,734 1633,760" fill="url(#beamD)"/>
<polygon points="1633,746 1743,746 1633,760" fill="#B04040"/>
<rect x="948.7" y="950" width="674.7" height="25" fill="#2e2e2e"/>
<rect x="948.7" y="975" width="674.7" height="23.5" fill="#141414"/>
<rect x="948.7" y="972" width="674.7" height="3" fill="#3e3e3e"/>
<ellipse cx="997" cy="962" rx="15" ry="6" fill="#a8a8a8"/><ellipse cx="997" cy="961" rx="12" ry="4" fill="#d8d8d8"/>
<ellipse cx="1116" cy="962" rx="15" ry="6" fill="#a8a8a8"/><ellipse cx="1116" cy="961" rx="12" ry="4" fill="#d8d8d8"/>
<ellipse cx="1225" cy="962" rx="15" ry="6" fill="#a8a8a8"/><ellipse cx="1225" cy="961" rx="12" ry="4" fill="#d8d8d8"/>
<ellipse cx="1336" cy="962" rx="15" ry="6" fill="#a8a8a8"/><ellipse cx="1336" cy="961" rx="12" ry="4" fill="#d8d8d8"/>
<ellipse cx="1446" cy="962" rx="15" ry="6" fill="#a8a8a8"/><ellipse cx="1446" cy="961" rx="12" ry="4" fill="#d8d8d8"/>
<ellipse cx="1565" cy="962" rx="15" ry="6" fill="#a8a8a8"/><ellipse cx="1565" cy="961" rx="12" ry="4" fill="#d8d8d8"/>
<rect x="1011.7" y="933.6" width="90.29999999999995" height="17" fill="#383838"/>
<rect x="1011.7" y="950" width="90.29999999999995" height="47.7" fill="#1c1c1c"/>
<rect x="1043.6" y="786" width="14.400000000000091" height="27" fill="url(#silverH)"/>
<path d="M1030,819 L1038,809 L1075,809 L1083,819 L1083,950 L1030,950 Z" fill="url(#blackcyl)"/>
<polygon points="1030,819 1038,809 1075,809 1083,819" fill="#3a2e2e" opacity="0.8"/>
<rect x="1014" y="838" width="18" height="28" rx="5" fill="#151515"/>
<rect x="1458.6" y="933.6" width="93.40000000000009" height="17" fill="#383838"/>
<rect x="1458.6" y="950" width="93.40000000000009" height="47.7" fill="#1c1c1c"/>
<rect x="1500.7" y="772" width="14.299999999999955" height="41" fill="url(#silverH)"/>
<path d="M1478.7,819 L1486.7,809 L1524,809 L1532,819 L1532,950 L1478.7,950 Z" fill="url(#blackcyl)"/>
<polygon points="1478.7,819 1486.7,809 1524,809 1532,819" fill="#3a2e2e" opacity="0.8"/>
<rect x="1462.7" y="838" width="18" height="28" rx="5" fill="#151515"/>
<polygon points="1498,790 1518,790 1514,776 1502,776" fill="#d8d8d8"/>
<path d="M1039,600 Q1040,590 1050,590 Q1062,592 1063,604 L1063,788 L1039,788 Z" fill="#1a1a1a"/>
<path d="M1058,625 Q1058,616 1068,616 Q1080,617 1080,628 L1080,788 L1058,788 Z" fill="#222"/>
<line x1="1059" y1="620" x2="1059" y2="786" stroke="#555" stroke-width="1"/>
<rect x="1079" y="620" width="21" height="36" rx="6" fill="#1c1c1c"/><rect x="1092" y="622" width="6" height="32" rx="3" fill="#2e2e2e"/>
<rect x="1079" y="717.5" width="22" height="34" rx="6" fill="#1c1c1c"/><rect x="1093" y="719" width="6" height="30" rx="3" fill="#2e2e2e"/>
<path d="M1500,599 L1522,599 Q1533,599 1533,640 L1533,735 Q1533,775 1522,775 L1500,775 Q1489,775 1489,735 L1489,640 Q1489,599 1500,599 Z" fill="url(#ringg)"/>
<ellipse cx="1497" cy="687" rx="8" ry="84" fill="#f4f4f4"/>
<ellipse cx="1497" cy="687" rx="5" ry="80" fill="#ffffff"/>
<path d="M1490,661 L1504,661 L1504,714 L1490,714 Z" fill="#C0282E" opacity="0.9"/>
<ellipse cx="1497" cy="687" rx="8" ry="84" fill="none" stroke="#9a9a9a" stroke-width="2"/>
<rect x="1667" y="806" width="19" height="48" fill="url(#silverH)"/>
<path d="M1647,860 L1655,850 L1695,850 L1703,860 L1703,992 L1647,992 Z" fill="url(#blackcyl)"/>
<polygon points="1647,860 1655,850 1695,850 1703,860" fill="#3a2e2e" opacity="0.8"/>
<path d="M1630,788.6 L1696,792 Q1706,795 1703,806 L1702.5,818.4 L1666,820 Q1645,826 1632,840 Z" fill="#6a4e4e"/>
<path d="M1630,788.6 L1696,792 Q1706,795 1703,806 L1666,806 Q1645,808 1632,812 Z" fill="#755858"/>
<rect x="1665.2" y="782" width="25.7" height="16.5" fill="#8a7272"/><ellipse cx="1678" cy="782" rx="12.8" ry="4" fill="#9a8282"/>
<path d="M1614.7,592.4 Q1626,600 1627,650 L1628,760 Q1626,830 1618,848 Q1596,835 1591.5,778 L1594,680 Q1598,605 1614.7,592.4 Z" fill="url(#maskg)"/>
<polygon points="1619.7,711 1633,711 1633,848 1619.7,848" fill="#7e7e7e"/><polygon points="1619.7,711 1633,711 1630,716 1620,716" fill="#9a9a9a"/>
<rect x="1596" y="666.5" width="17" height="41" fill="#BE2424" opacity="0.9"/>
<rect x="1893" y="748" width="23" height="106" fill="url(#silverH)"/>
<path d="M1873,860 L1881,850 L1918,850 L1926,860 L1926,992 L1873,992 Z" fill="url(#blackcyl)"/>
<polygon points="1873,860 1881,850 1918,850 1926,860" fill="#3a2e2e" opacity="0.8"/>
<circle cx="1904" cy="750" r="7" fill="#111"/>
<rect x="1957" y="643" width="120" height="91" rx="4" fill="url(#ledbody)"/>
<line x1="2012.0" y1="644" x2="2012.0" y2="733" stroke="#050505" stroke-width="2"/>
<line x1="2021.5" y1="644" x2="2021.5" y2="733" stroke="#050505" stroke-width="2"/>
<line x1="2031.0" y1="644" x2="2031.0" y2="733" stroke="#050505" stroke-width="2"/>
<line x1="2040.5" y1="644" x2="2040.5" y2="733" stroke="#050505" stroke-width="2"/>
<line x1="2050.0" y1="644" x2="2050.0" y2="733" stroke="#050505" stroke-width="2"/>
<line x1="2059.5" y1="644" x2="2059.5" y2="733" stroke="#050505" stroke-width="2"/>
<line x1="2069.0" y1="644" x2="2069.0" y2="733" stroke="#050505" stroke-width="2"/>
<rect x="1929" y="648" width="32" height="80.6" fill="url(#ledbody)"/>
<rect x="1845" y="644" width="52" height="90" fill="url(#ledbody)"/>
<path d="M1897,634 L1925,634 Q1932,634 1932,645 L1932,740 Q1932,750 1925,750 L1897,750 Q1890,750 1890,740 L1890,645 Q1890,634 1897,634 Z" fill="url(#collarg)"/>
<ellipse cx="1848" cy="689" rx="8" ry="45" fill="#2a2a2a"/>
<ellipse cx="1847" cy="689" rx="6" ry="42" fill="#C01820"/>
<path d="M1631,956.4 L1785,926.4 Q1807,930.4 1794.6,954.5 L1794.6,963.5 L1638.8,993.5 Q1619,980.4 1628,966.4 Z" fill="#c6c6c6"/>
<path d="M1631,956.4 L1785,926.4 Q1807,930.4 1794.6,954.5 L1638.8,984.5 Q1619,976.4 1631,956.4 Z" fill="url(#clampg)"/>
<rect x="1751.4" y="911.3" width="30" height="26" rx="3" fill="#d4d4d4"/><ellipse cx="1766.4" cy="912" rx="15" ry="4.5" fill="#eeeeee"/><rect x="1760" y="914" width="8" height="22" fill="#bcbcbc" opacity="0.6"/>
<rect x="1700" y="990" width="4" height="12" fill="#222"/>
<path d="M1853,956.4 L2007,926.4 Q2029,930.4 2016.6,954.5 L2016.6,963.5 L1860.8,993.5 Q1841,980.4 1850,966.4 Z" fill="#c6c6c6"/>
<path d="M1853,956.4 L2007,926.4 Q2029,930.4 2016.6,954.5 L1860.8,984.5 Q1841,976.4 1853,956.4 Z" fill="url(#clampg)"/>
<rect x="1973.4" y="911.3" width="30" height="26" rx="3" fill="#d4d4d4"/><ellipse cx="1988.4" cy="912" rx="15" ry="4.5" fill="#eeeeee"/><rect x="1982" y="914" width="8" height="22" fill="#bcbcbc" opacity="0.6"/>
<rect x="1922" y="990" width="4" height="12" fill="#222"/>
<path d="M1646.3,861.4 L1655.3,849.4 L1693.6,849.4 L1702.6,861.4 L1702.6,988.3 Q1674.4499999999998,993.3 1646.3,988.3 Z" fill="url(#blackcyl)"/>
<polygon points="1646.3,861.4 1655.3,849.4 1693.6,849.4 1702.6,861.4" fill="#3e3030"/>
<circle cx="1676.4499999999998" cy="892.4" r="10" fill="none" stroke="#2e2e2e" stroke-width="2"/>
<path d="M1868.7,861.4 L1877.7,849.4 L1918,849.4 L1927,861.4 L1927,988.3 Q1897.85,993.3 1868.7,988.3 Z" fill="url(#blackcyl)"/>
<polygon points="1868.7,861.4 1877.7,849.4 1918,849.4 1927,861.4" fill="#3e3030"/>
<circle cx="1899.85" cy="892.4" r="10" fill="none" stroke="#2e2e2e" stroke-width="2"/>
<defs>
<clipPath id="insetclip"><rect x="116.4" y="486" width="318.3" height="316"/></clipPath>
<radialGradient id="shellg" cx="0.38" cy="0.3" r="0.75"><stop offset="0" stop-color="#7d8585"/><stop offset="0.45" stop-color="#545c5c"/><stop offset="1" stop-color="#3c4444"/></radialGradient>
<radialGradient id="eyewhite" cx="0.6" cy="0.4" r="0.7"><stop offset="0" stop-color="#e6e6e6"/><stop offset="1" stop-color="#cacaca"/></radialGradient>
<radialGradient id="sensorg" cx="0.5" cy="0.5" r="0.5"><stop offset="0" stop-color="#a8a8a8"/><stop offset="0.8" stop-color="#8c8c8c"/><stop offset="1" stop-color="#d0d0d0"/></radialGradient>
<filter id="blur3"><feGaussianBlur stdDeviation="3"/></filter>
<filter id="blur6"><feGaussianBlur stdDeviation="6"/></filter>
</defs>
<g clip-path="url(#insetclip)">
<rect x="116" y="486" width="320" height="317" fill="#3b4343"/>
<rect x="116" y="486" width="320" height="60" fill="#2f3737"/>
<polygon points="380,490 436,490 436,560 395,560" fill="#5a6262" filter="url(#blur3)"/>
<rect x="388" y="510" width="40" height="45" rx="8" fill="#4a5252"/><rect x="385" y="515" width="10" height="30" rx="4" fill="#8a8e8e"/>
<path d="M116,533 Q140,530 150,548 Q146,572 116,575 Z" fill="#C88A50" filter="url(#blur3)"/>
<rect x="380" y="690" width="40" height="100" fill="#d8dcdc"/>
<rect x="376" y="745" width="14" height="20" rx="4" fill="#6a6a6a"/>
<rect x="116" y="720" width="40" height="40" fill="#2a2a2a" opacity="0.6"/>
<rect x="140" y="730" width="30" height="30" fill="#5a2a2a" opacity="0.4"/>
<ellipse cx="277" cy="648" rx="149" ry="153" fill="url(#shellg)"/>
<ellipse cx="277" cy="648" rx="149" ry="153" fill="none" stroke="#2c3434" stroke-width="3"/>
<ellipse cx="215" cy="565" rx="40" ry="22" fill="#9aa2a2" opacity="0.55" filter="url(#blur6)" transform="rotate(-30 215 565)"/>
<ellipse cx="360" cy="585" rx="30" ry="25" fill="#9aa2a2" opacity="0.5" filter="url(#blur6)"/>
<ellipse cx="300" cy="770" rx="90" ry="20" fill="#7a8282" opacity="0.5" filter="url(#blur6)"/>
<path d="M275,500 Q280,560 282,606" stroke="#8a9292" stroke-width="1.5" fill="none" opacity="0.7"/>
<path d="M128,622 Q276,584 422,614 L422,624 Q276,596 130,634 Z" fill="#222a2a"/>
<path d="M145,636 Q276,582 403,632 Q412,665 403,695 Q276,803 145,704 Q136,670 145,636 Z" fill="url(#eyewhite)"/>
<path d="M140,702 Q276,806 408,692 L411,702 Q276,820 142,714 Z" fill="#2c3434"/>
<path d="M160,735 Q276,818 395,725" stroke="#8a9090" stroke-width="2" fill="none" opacity="0.5"/>
<ellipse cx="279.7" cy="681" rx="63.4" ry="62.4" fill="#2a2020"/>
<circle cx="331.7" cy="681.0" r="2.6" fill="#a88a60"/>
<circle cx="329.6" cy="695.4" r="2.6" fill="#a88a60"/>
<circle cx="323.4" cy="708.6" r="2.6" fill="#a88a60"/>
<circle cx="313.8" cy="719.5" r="2.6" fill="#a88a60"/>
<circle cx="301.3" cy="727.4" r="2.6" fill="#a88a60"/>
<circle cx="287.1" cy="731.5" r="2.6" fill="#a88a60"/>
<circle cx="272.3" cy="731.5" r="2.6" fill="#a88a60"/>
<circle cx="258.1" cy="727.4" r="2.6" fill="#a88a60"/>
<circle cx="245.6" cy="719.5" r="2.6" fill="#a88a60"/>
<circle cx="236.0" cy="708.6" r="2.6" fill="#a88a60"/>
<circle cx="229.8" cy="695.4" r="2.6" fill="#a88a60"/>
<circle cx="227.7" cy="681.0" r="2.6" fill="#a88a60"/>
<circle cx="229.8" cy="666.6" r="2.6" fill="#a88a60"/>
<circle cx="236.0" cy="653.4" r="2.6" fill="#a88a60"/>
<circle cx="245.6" cy="642.5" r="2.6" fill="#a88a60"/>
<circle cx="258.1" cy="634.6" r="2.6" fill="#a88a60"/>
<circle cx="272.3" cy="630.5" r="2.6" fill="#a88a60"/>
<circle cx="287.1" cy="630.5" r="2.6" fill="#a88a60"/>
<circle cx="301.3" cy="634.6" r="2.6" fill="#a88a60"/>
<circle cx="313.8" cy="642.5" r="2.6" fill="#a88a60"/>
<circle cx="323.4" cy="653.4" r="2.6" fill="#a88a60"/>
<circle cx="329.6" cy="666.6" r="2.6" fill="#a88a60"/>
<circle cx="277.7" cy="682.8" r="37.5" fill="#cfcfcf"/>
<circle cx="277.7" cy="682.8" r="33" fill="url(#sensorg)"/>
<defs><clipPath id="sensclip"><circle cx="277.7" cy="682.8" r="29"/></clipPath></defs><g clip-path="url(#sensclip)">
<line x1="245" y1="655.0" x2="310" y2="655.0" stroke="#e4e4e4" stroke-width="1.7"/>
<line x1="245" y1="659.2" x2="310" y2="659.2" stroke="#e4e4e4" stroke-width="1.7"/>
<line x1="245" y1="663.4" x2="310" y2="663.4" stroke="#e4e4e4" stroke-width="1.7"/>
<line x1="245" y1="667.6" x2="310" y2="667.6" stroke="#e4e4e4" stroke-width="1.7"/>
<line x1="245" y1="671.8" x2="310" y2="671.8" stroke="#e4e4e4" stroke-width="1.7"/>
<line x1="245" y1="676.0" x2="310" y2="676.0" stroke="#e4e4e4" stroke-width="1.7"/>
<line x1="245" y1="680.2" x2="310" y2="680.2" stroke="#e4e4e4" stroke-width="1.7"/>
<line x1="245" y1="684.4" x2="310" y2="684.4" stroke="#e4e4e4" stroke-width="1.7"/>
<line x1="245" y1="688.6" x2="310" y2="688.6" stroke="#e4e4e4" stroke-width="1.7"/>
<line x1="245" y1="692.8" x2="310" y2="692.8" stroke="#e4e4e4" stroke-width="1.7"/>
<line x1="245" y1="697.0" x2="310" y2="697.0" stroke="#e4e4e4" stroke-width="1.7"/>
<line x1="245" y1="701.2" x2="310" y2="701.2" stroke="#e4e4e4" stroke-width="1.7"/>
<line x1="245" y1="705.4" x2="310" y2="705.4" stroke="#e4e4e4" stroke-width="1.7"/>
<line x1="245" y1="709.6" x2="310" y2="709.6" stroke="#e4e4e4" stroke-width="1.7"/>
<line x1="250.0" y1="650" x2="250.0" y2="715" stroke="#555" stroke-width="0.8" opacity="0.5"/>
<line x1="254.2" y1="650" x2="254.2" y2="715" stroke="#555" stroke-width="0.8" opacity="0.5"/>
<line x1="258.4" y1="650" x2="258.4" y2="715" stroke="#555" stroke-width="0.8" opacity="0.5"/>
<line x1="262.6" y1="650" x2="262.6" y2="715" stroke="#555" stroke-width="0.8" opacity="0.5"/>
<line x1="266.8" y1="650" x2="266.8" y2="715" stroke="#555" stroke-width="0.8" opacity="0.5"/>
<line x1="271.0" y1="650" x2="271.0" y2="715" stroke="#555" stroke-width="0.8" opacity="0.5"/>
<line x1="275.2" y1="650" x2="275.2" y2="715" stroke="#555" stroke-width="0.8" opacity="0.5"/>
<line x1="279.4" y1="650" x2="279.4" y2="715" stroke="#555" stroke-width="0.8" opacity="0.5"/>
<line x1="283.6" y1="650" x2="283.6" y2="715" stroke="#555" stroke-width="0.8" opacity="0.5"/>
<line x1="287.8" y1="650" x2="287.8" y2="715" stroke="#555" stroke-width="0.8" opacity="0.5"/>
<line x1="292.0" y1="650" x2="292.0" y2="715" stroke="#555" stroke-width="0.8" opacity="0.5"/>
<line x1="296.2" y1="650" x2="296.2" y2="715" stroke="#555" stroke-width="0.8" opacity="0.5"/>
<line x1="300.4" y1="650" x2="300.4" y2="715" stroke="#555" stroke-width="0.8" opacity="0.5"/>
<line x1="304.6" y1="650" x2="304.6" y2="715" stroke="#555" stroke-width="0.8" opacity="0.5"/>
</g>
</g>
<text x="42.5" y="555.3" font-size="65" font-weight="bold" fill="#000" transform="translate(42.5,0) scale(1.02,1) translate(-42.5,0)">b</text>
<text x="840" y="535" font-size="50" font-weight="bold" fill="#1a1410" textLength="114.5" lengthAdjust="spacingAndGlyphs">Lens</text>
<text x="1569.5" y="535" font-size="50" font-weight="bold" fill="#1a1410" textLength="135.70000000000005" lengthAdjust="spacingAndGlyphs">Mask</text>
<text x="1896" y="581" font-size="50" font-weight="bold" fill="#1a1410" textLength="96.09999999999991" lengthAdjust="spacingAndGlyphs">LED</text>
<text x="44.7" y="1283.5" font-size="64" font-weight="bold" fill="#000">c</text>
<rect x="118.6" y="1230" width="2247" height="604" rx="22" fill="none" stroke="#111" stroke-width="2.2"/>
<defs><linearGradient id="lensc" x1="0" x2="1"><stop offset="0" stop-color="#dde9f2"/><stop offset="1" stop-color="#cfe0ec"/></linearGradient></defs>
<ellipse cx="296.5" cy="1521.2" rx="57" ry="100.2" fill="url(#lensc)"/>
<path d="M296.5,1421 A57,100.2 0 0 1 296.5,1621.4" fill="none" stroke="#111" stroke-width="1.8"/>
<path d="M171.4,1478.5 L287.9,1468 L287.9,1574.7 L171.4,1564 A11.6,42.8 0 0 1 171.4,1478.5 Z" fill="#F4A58A" fill-opacity="0.45"/>
<ellipse cx="171.4" cy="1521.2" rx="11.6" ry="42.8" fill="#F4A58A" fill-opacity="0.25"/>
<ellipse cx="287.9" cy="1521.4" rx="12.1" ry="53.3" fill="#E8896A"/>
<g fill="none" stroke="#111" stroke-width="1.5">
<polyline points="319.9,1429.8 368.0,1368.6 473,1368.6"/>
<polyline points="328.8,1438.7 370.2,1379.2 473,1379.2"/>
<polyline points="335.1,1447.5 372.3,1389.8 473,1389.8"/>
<polyline points="340.0,1456.4 374.5,1400.4 473,1400.4"/>
<polyline points="343.8,1465.3 376.7,1411.0 473,1411.0"/>
<polyline points="346.8,1474.1 378.8,1421.6 473,1421.6"/>
<polyline points="349.2,1483.0 381.0,1432.2 473,1432.2"/>
<polyline points="351.0,1491.9 383.2,1442.8 473,1442.8"/>
<polyline points="352.3,1500.7 385.3,1453.4 473,1453.4"/>
<polyline points="353.1,1509.6 387.5,1464.0 473,1464.0"/>
<polyline points="353.2,1531.0 387.5,1577.8 473,1577.8"/>
<polyline points="352.5,1540.1 385.3,1588.4 473,1588.4"/>
<polyline points="351.2,1549.2 383.2,1599.0 473,1599.0"/>
<polyline points="349.4,1558.3 381.0,1609.6 473,1609.6"/>
<polyline points="347.1,1567.4 378.8,1620.2 473,1620.2"/>
<polyline points="344.0,1576.5 376.7,1630.8 473,1630.8"/>
<polyline points="340.2,1585.6 374.5,1641.4 473,1641.4"/>
<polyline points="335.2,1594.7 372.3,1652.0 473,1652.0"/>
<polyline points="328.8,1603.8 370.2,1662.6 473,1662.6"/>
<polyline points="319.5,1612.9 368.0,1673.2 473,1673.2"/>
<polyline points="536.7,1412 564,1412 564,1499 595,1499"/>
<polyline points="536.7,1635.4 564,1635.4 564,1549.4 595,1549.4"/>
</g>
<polygon points="472,1365.3999999999999 479,1368.6 472,1371.8" fill="#111"/>
<polygon points="472,1574.6 479,1577.8 472,1581.0" fill="#111"/>
<polygon points="472,1375.9999999999998 479,1379.1999999999998 472,1382.3999999999999" fill="#111"/>
<polygon points="472,1585.1999999999998 479,1588.3999999999999 472,1591.6" fill="#111"/>
<polygon points="472,1386.6 479,1389.8 472,1393.0" fill="#111"/>
<polygon points="472,1595.8 479,1599.0 472,1602.2" fill="#111"/>
<polygon points="472,1397.1999999999998 479,1400.3999999999999 472,1403.6" fill="#111"/>
<polygon points="472,1606.3999999999999 479,1609.6 472,1612.8" fill="#111"/>
<polygon points="472,1407.8 479,1411.0 472,1414.2" fill="#111"/>
<polygon points="472,1617.0 479,1620.2 472,1623.4" fill="#111"/>
<polygon points="472,1418.3999999999999 479,1421.6 472,1424.8" fill="#111"/>
<polygon points="472,1627.6 479,1630.8 472,1634.0" fill="#111"/>
<polygon points="472,1428.9999999999998 479,1432.1999999999998 472,1435.3999999999999" fill="#111"/>
<polygon points="472,1638.1999999999998 479,1641.3999999999999 472,1644.6" fill="#111"/>
<polygon points="472,1439.6 479,1442.8 472,1446.0" fill="#111"/>
<polygon points="472,1648.8 479,1652.0 472,1655.2" fill="#111"/>
<polygon points="472,1450.1999999999998 479,1453.3999999999999 472,1456.6" fill="#111"/>
<polygon points="472,1659.3999999999999 479,1662.6 472,1665.8" fill="#111"/>
<polygon points="472,1460.8 479,1464.0 472,1467.2" fill="#111"/>
<polygon points="472,1670.0 479,1673.2 472,1676.4" fill="#111"/>
<polygon points="594,1495.8 601,1499 594,1502.2" fill="#111"/>
<polygon points="594,1546.2 601,1549.4 594,1552.6000000000001" fill="#111"/>
<polygon points="479,1324.6 536.7,1353.8 536.7,1468.7 479,1498" fill="#D9EACB" stroke="#8a8a8a" stroke-width="1.2"/>
<polygon points="479,1547.8 536.7,1577 536.7,1691.5 479,1721" fill="#D9EACB" stroke="#8a8a8a" stroke-width="1.2"/>
<text x="0" y="0" font-size="27" font-weight="bold" text-anchor="middle" fill="#111" transform="translate(519.5,1411.3) rotate(-90)" textLength="60.5" lengthAdjust="spacingAndGlyphs">MUX</text>
<text x="0" y="0" font-size="27" font-weight="bold" text-anchor="middle" fill="#111" transform="translate(519.5,1634.4) rotate(-90)" textLength="60.5" lengthAdjust="spacingAndGlyphs">MUX</text>
<rect x="601" y="1479.6" width="144" height="86.4" rx="3" fill="#F0F3C4" stroke="#9a9a9a" stroke-width="1.2"/>
<text x="673.7" y="1531" font-size="27" font-weight="bold" text-anchor="middle" fill="#111" textLength="58.4" lengthAdjust="spacingAndGlyphs">ADC</text>
<text x="145" y="1452.4" font-size="28" font-weight="bold" fill="#111" textLength="90.6" lengthAdjust="spacingAndGlyphs">Source</text>
<text x="266" y="1391.6" font-size="28" font-weight="bold" fill="#111" textLength="62.30000000000001" lengthAdjust="spacingAndGlyphs">Lens</text>
<text x="652" y="1396.7" font-size="25" font-weight="bold" fill="#111" textLength="66.60000000000002" lengthAdjust="spacingAndGlyphs">Servo</text>
<text x="651.6" y="1426" font-size="25" font-weight="bold" fill="#111" textLength="68.19999999999993" lengthAdjust="spacingAndGlyphs">motor</text>
<text x="844" y="1596.6" font-size="25" font-weight="bold" fill="#111" textLength="37.39999999999998" lengthAdjust="spacingAndGlyphs">I2C</text>
<text x="1038" y="1538.2" font-size="25" font-weight="bold" fill="#111" textLength="37.59999999999991" lengthAdjust="spacingAndGlyphs">I2C</text>
<text x="1226" y="1498.7" font-size="23" font-weight="bold" fill="#111" textLength="60" lengthAdjust="spacingAndGlyphs">Serial</text>
<rect x="631" y="1297.4" width="109" height="47.9" fill="#4A68BE"/>
<g transform="translate(685.5,1321.5) rotate(44.3)">
<rect x="-73" y="-14.5" width="146" height="29" rx="14.5" fill="#fff" stroke="#111" stroke-width="1.8"/>
<circle cx="-57" cy="0" r="4.5" fill="#fff" stroke="#111" stroke-width="1.6"/>
<circle cx="-30" cy="0" r="6.5" fill="#fff" stroke="#111" stroke-width="1.6"/>
<circle cx="0" cy="0" r="8.5" fill="#fff" stroke="#111" stroke-width="1.6"/>
<circle cx="30" cy="0" r="6.5" fill="#fff" stroke="#111" stroke-width="1.6"/>
<circle cx="57" cy="0" r="4.5" fill="#fff" stroke="#111" stroke-width="1.6"/>
</g>
<polyline points="740.4,1319 796,1319 796,1357.2 919.7,1357.2" fill="none" stroke="#C8302A" stroke-width="2.6"/>
<polyline points="740.4,1322 793,1322 793,1360.2 919.7,1360.2" fill="none" stroke="#2a1410" stroke-width="2.4"/>
<polyline points="740.4,1325 790,1325 790,1363.2 919.7,1363.2" fill="none" stroke="#E0703A" stroke-width="3.2"/>
<polyline points="740.4,1325 790,1325 790,1363.2 919.7,1363.2" fill="none" stroke="#F8B898" stroke-width="1.4"/>
<rect x="919.7" y="1274.2" width="202.3" height="201.5" rx="6" fill="#606060"/>
<rect x="960.8" y="1315.8" width="120" height="118.4" fill="#cccccc"/>
<rect x="964.1" y="1296.3999999999999" width="7" height="12" rx="3.5" fill="#e8e8e8"/><rect x="965.6" y="1305.8" width="4" height="10" fill="#e8e8e8"/>
<rect x="964.1" y="1441.6000000000001" width="7" height="12" rx="3.5" fill="#e8e8e8"/><rect x="965.6" y="1434.2" width="4" height="10" fill="#e8e8e8"/>
<rect x="941.4" y="1319.1" width="12" height="7" rx="3.5" fill="#e8e8e8"/><rect x="950.8" y="1320.6" width="10" height="4" fill="#e8e8e8"/>
<rect x="1088.2" y="1319.1" width="12" height="7" rx="3.5" fill="#e8e8e8"/><rect x="1080.8" y="1320.6" width="10" height="4" fill="#e8e8e8"/>
<rect x="977.35" y="1296.3999999999999" width="7" height="12" rx="3.5" fill="#e8e8e8"/><rect x="978.85" y="1305.8" width="4" height="10" fill="#e8e8e8"/>
<rect x="977.35" y="1441.6000000000001" width="7" height="12" rx="3.5" fill="#e8e8e8"/><rect x="978.85" y="1434.2" width="4" height="10" fill="#e8e8e8"/>
<rect x="941.4" y="1332.3" width="12" height="7" rx="3.5" fill="#e8e8e8"/><rect x="950.8" y="1333.8" width="10" height="4" fill="#e8e8e8"/>
<rect x="1088.2" y="1332.3" width="12" height="7" rx="3.5" fill="#e8e8e8"/><rect x="1080.8" y="1333.8" width="10" height="4" fill="#e8e8e8"/>
<rect x="990.6" y="1296.3999999999999" width="7" height="12" rx="3.5" fill="#e8e8e8"/><rect x="992.1" y="1305.8" width="4" height="10" fill="#e8e8e8"/>
<rect x="990.6" y="1441.6000000000001" width="7" height="12" rx="3.5" fill="#e8e8e8"/><rect x="992.1" y="1434.2" width="4" height="10" fill="#e8e8e8"/>
<rect x="941.4" y="1345.5" width="12" height="7" rx="3.5" fill="#e8e8e8"/><rect x="950.8" y="1347.0" width="10" height="4" fill="#e8e8e8"/>
<rect x="1088.2" y="1345.5" width="12" height="7" rx="3.5" fill="#e8e8e8"/><rect x="1080.8" y="1347.0" width="10" height="4" fill="#e8e8e8"/>
<rect x="1003.85" y="1296.3999999999999" width="7" height="12" rx="3.5" fill="#e8e8e8"/><rect x="1005.35" y="1305.8" width="4" height="10" fill="#e8e8e8"/>
<rect x="1003.85" y="1441.6000000000001" width="7" height="12" rx="3.5" fill="#e8e8e8"/><rect x="1005.35" y="1434.2" width="4" height="10" fill="#e8e8e8"/>
<rect x="941.4" y="1358.6999999999998" width="12" height="7" rx="3.5" fill="#e8e8e8"/><rect x="950.8" y="1360.1999999999998" width="10" height="4" fill="#e8e8e8"/>
<rect x="1088.2" y="1358.6999999999998" width="12" height="7" rx="3.5" fill="#e8e8e8"/><rect x="1080.8" y="1360.1999999999998" width="10" height="4" fill="#e8e8e8"/>
<rect x="1017.1" y="1296.3999999999999" width="7" height="12" rx="3.5" fill="#e8e8e8"/><rect x="1018.6" y="1305.8" width="4" height="10" fill="#e8e8e8"/>
<rect x="1017.1" y="1441.6000000000001" width="7" height="12" rx="3.5" fill="#e8e8e8"/><rect x="1018.6" y="1434.2" width="4" height="10" fill="#e8e8e8"/>
<rect x="941.4" y="1371.8999999999999" width="12" height="7" rx="3.5" fill="#e8e8e8"/><rect x="950.8" y="1373.3999999999999" width="10" height="4" fill="#e8e8e8"/>
<rect x="1088.2" y="1371.8999999999999" width="12" height="7" rx="3.5" fill="#e8e8e8"/><rect x="1080.8" y="1373.3999999999999" width="10" height="4" fill="#e8e8e8"/>
<rect x="1030.35" y="1296.3999999999999" width="7" height="12" rx="3.5" fill="#e8e8e8"/><rect x="1031.85" y="1305.8" width="4" height="10" fill="#e8e8e8"/>
<rect x="1030.35" y="1441.6000000000001" width="7" height="12" rx="3.5" fill="#e8e8e8"/><rect x="1031.85" y="1434.2" width="4" height="10" fill="#e8e8e8"/>
<rect x="941.4" y="1385.1" width="12" height="7" rx="3.5" fill="#e8e8e8"/><rect x="950.8" y="1386.6" width="10" height="4" fill="#e8e8e8"/>
<rect x="1088.2" y="1385.1" width="12" height="7" rx="3.5" fill="#e8e8e8"/><rect x="1080.8" y="1386.6" width="10" height="4" fill="#e8e8e8"/>
<rect x="1043.6" y="1296.3999999999999" width="7" height="12" rx="3.5" fill="#e8e8e8"/><rect x="1045.1" y="1305.8" width="4" height="10" fill="#e8e8e8"/>
<rect x="1043.6" y="1441.6000000000001" width="7" height="12" rx="3.5" fill="#e8e8e8"/><rect x="1045.1" y="1434.2" width="4" height="10" fill="#e8e8e8"/>
<rect x="941.4" y="1398.3" width="12" height="7" rx="3.5" fill="#e8e8e8"/><rect x="950.8" y="1399.8" width="10" height="4" fill="#e8e8e8"/>
<rect x="1088.2" y="1398.3" width="12" height="7" rx="3.5" fill="#e8e8e8"/><rect x="1080.8" y="1399.8" width="10" height="4" fill="#e8e8e8"/>
<rect x="1056.85" y="1296.3999999999999" width="7" height="12" rx="3.5" fill="#e8e8e8"/><rect x="1058.35" y="1305.8" width="4" height="10" fill="#e8e8e8"/>
<rect x="1056.85" y="1441.6000000000001" width="7" height="12" rx="3.5" fill="#e8e8e8"/><rect x="1058.35" y="1434.2" width="4" height="10" fill="#e8e8e8"/>
<rect x="941.4" y="1411.5" width="12" height="7" rx="3.5" fill="#e8e8e8"/><rect x="950.8" y="1413.0" width="10" height="4" fill="#e8e8e8"/>
<rect x="1088.2" y="1411.5" width="12" height="7" rx="3.5" fill="#e8e8e8"/><rect x="1080.8" y="1413.0" width="10" height="4" fill="#e8e8e8"/>
<rect x="1070.1" y="1296.3999999999999" width="7" height="12" rx="3.5" fill="#e8e8e8"/><rect x="1071.6" y="1305.8" width="4" height="10" fill="#e8e8e8"/>
<rect x="1070.1" y="1441.6000000000001" width="7" height="12" rx="3.5" fill="#e8e8e8"/><rect x="1071.6" y="1434.2" width="4" height="10" fill="#e8e8e8"/>
<rect x="941.4" y="1424.6999999999998" width="12" height="7" rx="3.5" fill="#e8e8e8"/><rect x="950.8" y="1426.1999999999998" width="10" height="4" fill="#e8e8e8"/>
<rect x="1088.2" y="1424.6999999999998" width="12" height="7" rx="3.5" fill="#e8e8e8"/><rect x="1080.8" y="1426.1999999999998" width="10" height="4" fill="#e8e8e8"/>
<text x="1020.8" y="1383.8" font-size="25" font-weight="bold" text-anchor="middle" fill="#111" textLength="55.6" lengthAdjust="spacingAndGlyphs">MCU</text>
<rect x="919.7" y="1588.5" width="202.3" height="201.5" rx="6" fill="#606060"/>
<rect x="960.8" y="1630.1" width="120" height="118.4" fill="#cccccc"/>
<rect x="964.1" y="1610.6999999999998" width="7" height="12" rx="3.5" fill="#e8e8e8"/><rect x="965.6" y="1620.1" width="4" height="10" fill="#e8e8e8"/>
<rect x="964.1" y="1755.9" width="7" height="12" rx="3.5" fill="#e8e8e8"/><rect x="965.6" y="1748.5" width="4" height="10" fill="#e8e8e8"/>
<rect x="941.4" y="1633.3999999999999" width="12" height="7" rx="3.5" fill="#e8e8e8"/><rect x="950.8" y="1634.8999999999999" width="10" height="4" fill="#e8e8e8"/>
<rect x="1088.2" y="1633.3999999999999" width="12" height="7" rx="3.5" fill="#e8e8e8"/><rect x="1080.8" y="1634.8999999999999" width="10" height="4" fill="#e8e8e8"/>
<rect x="977.35" y="1610.6999999999998" width="7" height="12" rx="3.5" fill="#e8e8e8"/><rect x="978.85" y="1620.1" width="4" height="10" fill="#e8e8e8"/>
<rect x="977.35" y="1755.9" width="7" height="12" rx="3.5" fill="#e8e8e8"/><rect x="978.85" y="1748.5" width="4" height="10" fill="#e8e8e8"/>
<rect x="941.4" y="1646.6" width="12" height="7" rx="3.5" fill="#e8e8e8"/><rect x="950.8" y="1648.1" width="10" height="4" fill="#e8e8e8"/>
<rect x="1088.2" y="1646.6" width="12" height="7" rx="3.5" fill="#e8e8e8"/><rect x="1080.8" y="1648.1" width="10" height="4" fill="#e8e8e8"/>
<rect x="990.6" y="1610.6999999999998" width="7" height="12" rx="3.5" fill="#e8e8e8"/><rect x="992.1" y="1620.1" width="4" height="10" fill="#e8e8e8"/>
<rect x="990.6" y="1755.9" width="7" height="12" rx="3.5" fill="#e8e8e8"/><rect x="992.1" y="1748.5" width="4" height="10" fill="#e8e8e8"/>
<rect x="941.4" y="1659.8" width="12" height="7" rx="3.5" fill="#e8e8e8"/><rect x="950.8" y="1661.3" width="10" height="4" fill="#e8e8e8"/>
<rect x="1088.2" y="1659.8" width="12" height="7" rx="3.5" fill="#e8e8e8"/><rect x="1080.8" y="1661.3" width="10" height="4" fill="#e8e8e8"/>
<rect x="1003.85" y="1610.6999999999998" width="7" height="12" rx="3.5" fill="#e8e8e8"/><rect x="1005.35" y="1620.1" width="4" height="10" fill="#e8e8e8"/>
<rect x="1003.85" y="1755.9" width="7" height="12" rx="3.5" fill="#e8e8e8"/><rect x="1005.35" y="1748.5" width="4" height="10" fill="#e8e8e8"/>
<rect x="941.4" y="1672.9999999999998" width="12" height="7" rx="3.5" fill="#e8e8e8"/><rect x="950.8" y="1674.4999999999998" width="10" height="4" fill="#e8e8e8"/>
<rect x="1088.2" y="1672.9999999999998" width="12" height="7" rx="3.5" fill="#e8e8e8"/><rect x="1080.8" y="1674.4999999999998" width="10" height="4" fill="#e8e8e8"/>
<rect x="1017.1" y="1610.6999999999998" width="7" height="12" rx="3.5" fill="#e8e8e8"/><rect x="1018.6" y="1620.1" width="4" height="10" fill="#e8e8e8"/>
<rect x="1017.1" y="1755.9" width="7" height="12" rx="3.5" fill="#e8e8e8"/><rect x="1018.6" y="1748.5" width="4" height="10" fill="#e8e8e8"/>
<rect x="941.4" y="1686.1999999999998" width="12" height="7" rx="3.5" fill="#e8e8e8"/><rect x="950.8" y="1687.6999999999998" width="10" height="4" fill="#e8e8e8"/>
<rect x="1088.2" y="1686.1999999999998" width="12" height="7" rx="3.5" fill="#e8e8e8"/><rect x="1080.8" y="1687.6999999999998" width="10" height="4" fill="#e8e8e8"/>
<rect x="1030.35" y="1610.6999999999998" width="7" height="12" rx="3.5" fill="#e8e8e8"/><rect x="1031.85" y="1620.1" width="4" height="10" fill="#e8e8e8"/>
<rect x="1030.35" y="1755.9" width="7" height="12" rx="3.5" fill="#e8e8e8"/><rect x="1031.85" y="1748.5" width="4" height="10" fill="#e8e8e8"/>
<rect x="941.4" y="1699.3999999999999" width="12" height="7" rx="3.5" fill="#e8e8e8"/><rect x="950.8" y="1700.8999999999999" width="10" height="4" fill="#e8e8e8"/>
<rect x="1088.2" y="1699.3999999999999" width="12" height="7" rx="3.5" fill="#e8e8e8"/><rect x="1080.8" y="1700.8999999999999" width="10" height="4" fill="#e8e8e8"/>
<rect x="1043.6" y="1610.6999999999998" width="7" height="12" rx="3.5" fill="#e8e8e8"/><rect x="1045.1" y="1620.1" width="4" height="10" fill="#e8e8e8"/>
<rect x="1043.6" y="1755.9" width="7" height="12" rx="3.5" fill="#e8e8e8"/><rect x="1045.1" y="1748.5" width="4" height="10" fill="#e8e8e8"/>
<rect x="941.4" y="1712.6" width="12" height="7" rx="3.5" fill="#e8e8e8"/><rect x="950.8" y="1714.1" width="10" height="4" fill="#e8e8e8"/>
<rect x="1088.2" y="1712.6" width="12" height="7" rx="3.5" fill="#e8e8e8"/><rect x="1080.8" y="1714.1" width="10" height="4" fill="#e8e8e8"/>
<rect x="1056.85" y="1610.6999999999998" width="7" height="12" rx="3.5" fill="#e8e8e8"/><rect x="1058.35" y="1620.1" width="4" height="10" fill="#e8e8e8"/>
<rect x="1056.85" y="1755.9" width="7" height="12" rx="3.5" fill="#e8e8e8"/><rect x="1058.35" y="1748.5" width="4" height="10" fill="#e8e8e8"/>
<rect x="941.4" y="1725.8" width="12" height="7" rx="3.5" fill="#e8e8e8"/><rect x="950.8" y="1727.3" width="10" height="4" fill="#e8e8e8"/>
<rect x="1088.2" y="1725.8" width="12" height="7" rx="3.5" fill="#e8e8e8"/><rect x="1080.8" y="1727.3" width="10" height="4" fill="#e8e8e8"/>
<rect x="1070.1" y="1610.6999999999998" width="7" height="12" rx="3.5" fill="#e8e8e8"/><rect x="1071.6" y="1620.1" width="4" height="10" fill="#e8e8e8"/>
<rect x="1070.1" y="1755.9" width="7" height="12" rx="3.5" fill="#e8e8e8"/><rect x="1071.6" y="1748.5" width="4" height="10" fill="#e8e8e8"/>
<rect x="941.4" y="1738.9999999999998" width="12" height="7" rx="3.5" fill="#e8e8e8"/><rect x="950.8" y="1740.4999999999998" width="10" height="4" fill="#e8e8e8"/>
<rect x="1088.2" y="1738.9999999999998" width="12" height="7" rx="3.5" fill="#e8e8e8"/><rect x="1080.8" y="1740.4999999999998" width="10" height="4" fill="#e8e8e8"/>
<text x="1020.8" y="1698.1" font-size="25" font-weight="bold" text-anchor="middle" fill="#111" textLength="55.6" lengthAdjust="spacingAndGlyphs">MCU</text>
<g fill="none" stroke-width="3.5">
<polyline points="745,1506.7 834.6,1506.7 834.6,1674 906,1674" stroke="#F5C96A"/>
<polyline points="919.7,1703.4 815.7,1703.4 815.7,1538.2 756,1538.2" stroke="#5DB85B"/>
<polyline points="999,1588.5 999,1487" stroke="#5DB85B"/>
<polyline points="1027.3,1476 1027.3,1578" stroke="#F5C96A"/>
<polyline points="1122,1676 1228.7,1676 1228.7,1518 1288,1518" stroke="#F5C96A"/>
<polyline points="1299,1548.2 1255,1548.2 1255,1706.2 1133,1706.2" stroke="#5DB85B"/>
</g>
<polygon points="905,1667 917,1674 905,1681" fill="#F5C96A"/>
<polygon points="757,1531.2 745,1538.2 757,1545.2" fill="#5DB85B"/>
<polygon points="992,1488 999,1476 1006,1488" fill="#5DB85B"/>
<polygon points="1020.3,1576.5 1027.3,1588.5 1034.3,1576.5" fill="#F5C96A"/>
<polygon points="1287,1511 1299,1518 1287,1525" fill="#F5C96A"/>
<polygon points="1134,1699.2 1122,1706.2 1134,1713.2" fill="#5DB85B"/>
<rect x="1299.2" y="1375.8" width="129" height="300.6" fill="#4A5252"/>
<rect x="1311.3" y="1390.3" width="104.7" height="67.3" fill="none" stroke="#2a3232" stroke-width="1.6"/>
<line x1="1311.3" y1="1413.3" x2="1416" y2="1413.3" stroke="#2a3232" stroke-width="1.6"/><line x1="1311.3" y1="1435.4" x2="1416" y2="1435.4" stroke="#2a3232" stroke-width="1.6"/>
<circle cx="1363.7" cy="1624" r="8" fill="#2a2a2a"/><path d="M1360,1620 A5,5 0 1 0 1367.4,1620" fill="none" stroke="#a02020" stroke-width="1.4"/><line x1="1363.7" y1="1617" x2="1363.7" y2="1623" stroke="#a02020" stroke-width="1.4"/>
<defs><linearGradient id="conez" x1="1805" y1="0" x2="2102" y2="0" gradientUnits="userSpaceOnUse"><stop offset="0" stop-color="#ffffff"/><stop offset="1" stop-color="#d3dae4"/></linearGradient>
<linearGradient id="bandg" x1="0" x2="1"><stop offset="0" stop-color="#e9edf3"/><stop offset="1" stop-color="#c3cedd"/></linearGradient></defs>
<polygon points="1805,1291 2102,1277 2102,1765 1805,1619" fill="url(#conez)"/>
<line x1="1805" y1="1291" x2="2102" y2="1277" stroke="#a0a0a0" stroke-width="1.5"/><line x1="1805" y1="1619" x2="2102" y2="1765" stroke="#a0a0a0" stroke-width="1.5"/>
<polygon points="1686,1615 1795,1615 1800,1679 1820,1691 1820,1695 1659,1695 1659,1691 1677,1679" fill="#56615F"/>
<rect x="1459.8" y="1291.2" width="559.5" height="327.8" rx="12" fill="#56615F"/>
<rect x="1468.6" y="1304.4" width="543.7" height="301.6" rx="10" fill="#f4f4f4"/>
<rect x="1473" y="1314.5" width="419.7" height="267.3" fill="#050505"/>
<rect x="1898" y="1310" width="112.5" height="239.7" fill="#ebebeb"/>
<text x="1475" y="1311.5" font-size="4.5" fill="#333">sensor data</text><text x="1898" y="1315" font-size="4.5" fill="#333">Controller</text>
<rect x="1476.0" y="1324.5" width="1.6" height="9.0" fill="#b0b0b0" opacity="0.75"/>
<rect x="1478.5" y="1323.3" width="1.6" height="10.2" fill="#b0b0b0" opacity="0.75"/>
<rect x="1481.0" y="1324.0" width="1.6" height="9.5" fill="#b0b0b0" opacity="0.75"/>
<rect x="1484.0" y="1323.1" width="1.6" height="10.4" fill="#b0b0b0" opacity="0.75"/>
<rect x="1490.0" y="1317.5" width="9" height="2.4" fill="#d0d0d0" opacity="0.8"/>
<line x1="1487.0" y1="1337.0" x2="1511.0" y2="1337.0" stroke="#8a8a8a" stroke-width="1.6" stroke-dasharray="1.5,1.2" opacity="0.8"/>
<line x1="1487.0" y1="1334.0" x2="1512.0" y2="1334.0" stroke="#777" stroke-width="1" stroke-dasharray="1,1.5" opacity="0.7"/>
<rect x="1518.0" y="1325.2" width="1.6" height="8.3" fill="#b0b0b0" opacity="0.75"/>
<rect x="1520.5" y="1325.4" width="1.6" height="8.1" fill="#b0b0b0" opacity="0.75"/>
<rect x="1523.0" y="1322.2" width="1.6" height="11.3" fill="#b0b0b0" opacity="0.75"/>
<rect x="1526.0" y="1324.5" width="1.6" height="9.0" fill="#b0b0b0" opacity="0.75"/>
<rect x="1531.97" y="1317.5" width="9" height="2.4" fill="#d0d0d0" opacity="0.8"/>
<line x1="1528.97" y1="1337.0" x2="1552.97" y2="1337.0" stroke="#8a8a8a" stroke-width="1.6" stroke-dasharray="1.5,1.2" opacity="0.8"/>
<line x1="1528.97" y1="1334.0" x2="1553.97" y2="1334.0" stroke="#777" stroke-width="1" stroke-dasharray="1,1.5" opacity="0.7"/>
<line x1="1530.97" y1="1324.5" x2="1552.97" y2="1324.5" stroke="#999" stroke-width="1.2" stroke-dasharray="3,1.5" opacity="0.8"/>
<rect x="1559.9" y="1321.5" width="1.6" height="12.0" fill="#b0b0b0" opacity="0.75"/>
<rect x="1562.4" y="1323.6" width="1.6" height="9.9" fill="#b0b0b0" opacity="0.75"/>
<rect x="1564.9" y="1322.2" width="1.6" height="11.3" fill="#b0b0b0" opacity="0.75"/>
<rect x="1567.9" y="1323.6" width="1.6" height="9.9" fill="#b0b0b0" opacity="0.75"/>
<rect x="1573.94" y="1317.5" width="9" height="2.4" fill="#d0d0d0" opacity="0.8"/>
<line x1="1570.94" y1="1337.0" x2="1594.94" y2="1337.0" stroke="#8a8a8a" stroke-width="1.6" stroke-dasharray="1.5,1.2" opacity="0.8"/>
<line x1="1570.94" y1="1334.0" x2="1595.94" y2="1334.0" stroke="#777" stroke-width="1" stroke-dasharray="1,1.5" opacity="0.7"/>
<rect x="1601.9" y="1324.9" width="1.6" height="8.6" fill="#b0b0b0" opacity="0.75"/>
<rect x="1604.4" y="1323.0" width="1.6" height="10.5" fill="#b0b0b0" opacity="0.75"/>
<rect x="1606.9" y="1322.0" width="1.6" height="11.5" fill="#b0b0b0" opacity="0.75"/>
<rect x="1609.9" y="1323.4" width="1.6" height="10.1" fill="#b0b0b0" opacity="0.75"/>
<rect x="1615.91" y="1317.5" width="9" height="2.4" fill="#d0d0d0" opacity="0.8"/>
<line x1="1612.91" y1="1337.0" x2="1636.91" y2="1337.0" stroke="#8a8a8a" stroke-width="1.6" stroke-dasharray="1.5,1.2" opacity="0.8"/>
<line x1="1612.91" y1="1334.0" x2="1637.91" y2="1334.0" stroke="#777" stroke-width="1" stroke-dasharray="1,1.5" opacity="0.7"/>
<rect x="1643.9" y="1322.8" width="1.6" height="10.7" fill="#b0b0b0" opacity="0.75"/>
<rect x="1646.4" y="1325.2" width="1.6" height="8.3" fill="#b0b0b0" opacity="0.75"/>
<rect x="1648.9" y="1322.5" width="1.6" height="11.0" fill="#b0b0b0" opacity="0.75"/>
<rect x="1651.9" y="1323.1" width="1.6" height="10.4" fill="#b0b0b0" opacity="0.75"/>
<rect x="1657.88" y="1317.5" width="9" height="2.4" fill="#d0d0d0" opacity="0.8"/>
<line x1="1654.88" y1="1337.0" x2="1678.88" y2="1337.0" stroke="#8a8a8a" stroke-width="1.6" stroke-dasharray="1.5,1.2" opacity="0.8"/>
<line x1="1654.88" y1="1334.0" x2="1679.88" y2="1334.0" stroke="#777" stroke-width="1" stroke-dasharray="1,1.5" opacity="0.7"/>
<line x1="1656.88" y1="1324.5" x2="1678.88" y2="1324.5" stroke="#999" stroke-width="1.2" stroke-dasharray="3,1.5" opacity="0.8"/>
<rect x="1685.8" y="1325.4" width="1.6" height="8.1" fill="#b0b0b0" opacity="0.75"/>
<rect x="1688.3" y="1322.0" width="1.6" height="11.5" fill="#b0b0b0" opacity="0.75"/>
<rect x="1690.8" y="1323.6" width="1.6" height="9.9" fill="#b0b0b0" opacity="0.75"/>
<rect x="1693.8" y="1322.6" width="1.6" height="10.9" fill="#b0b0b0" opacity="0.75"/>
<rect x="1699.85" y="1317.5" width="9" height="2.4" fill="#d0d0d0" opacity="0.8"/>
<line x1="1696.85" y1="1337.0" x2="1720.85" y2="1337.0" stroke="#8a8a8a" stroke-width="1.6" stroke-dasharray="1.5,1.2" opacity="0.8"/>
<line x1="1696.85" y1="1334.0" x2="1721.85" y2="1334.0" stroke="#777" stroke-width="1" stroke-dasharray="1,1.5" opacity="0.7"/>
<rect x="1727.8" y="1322.6" width="1.6" height="10.9" fill="#b0b0b0" opacity="0.75"/>
<rect x="1730.3" y="1321.8" width="1.6" height="11.7" fill="#b0b0b0" opacity="0.75"/>
<rect x="1732.8" y="1323.9" width="1.6" height="9.6" fill="#b0b0b0" opacity="0.75"/>
<rect x="1735.8" y="1322.3" width="1.6" height="11.2" fill="#b0b0b0" opacity="0.75"/>
<rect x="1741.82" y="1317.5" width="9" height="2.4" fill="#d0d0d0" opacity="0.8"/>
<line x1="1738.82" y1="1337.0" x2="1762.82" y2="1337.0" stroke="#8a8a8a" stroke-width="1.6" stroke-dasharray="1.5,1.2" opacity="0.8"/>
<line x1="1738.82" y1="1334.0" x2="1763.82" y2="1334.0" stroke="#777" stroke-width="1" stroke-dasharray="1,1.5" opacity="0.7"/>
<rect x="1769.8" y="1321.8" width="1.6" height="11.7" fill="#b0b0b0" opacity="0.75"/>
<rect x="1772.3" y="1322.0" width="1.6" height="11.5" fill="#b0b0b0" opacity="0.75"/>
<rect x="1774.8" y="1325.1" width="1.6" height="8.4" fill="#b0b0b0" opacity="0.75"/>
<rect x="1777.8" y="1325.0" width="1.6" height="8.5" fill="#b0b0b0" opacity="0.75"/>
<rect x="1783.79" y="1317.5" width="9" height="2.4" fill="#d0d0d0" opacity="0.8"/>
<line x1="1780.79" y1="1337.0" x2="1804.79" y2="1337.0" stroke="#8a8a8a" stroke-width="1.6" stroke-dasharray="1.5,1.2" opacity="0.8"/>
<line x1="1780.79" y1="1334.0" x2="1805.79" y2="1334.0" stroke="#777" stroke-width="1" stroke-dasharray="1,1.5" opacity="0.7"/>
<line x1="1782.79" y1="1324.5" x2="1804.79" y2="1324.5" stroke="#999" stroke-width="1.2" stroke-dasharray="3,1.5" opacity="0.8"/>
<rect x="1811.8" y="1321.6" width="1.6" height="11.9" fill="#b0b0b0" opacity="0.75"/>
<rect x="1814.3" y="1323.8" width="1.6" height="9.7" fill="#b0b0b0" opacity="0.75"/>
<rect x="1816.8" y="1323.0" width="1.6" height="10.5" fill="#b0b0b0" opacity="0.75"/>
<rect x="1819.8" y="1324.3" width="1.6" height="9.2" fill="#b0b0b0" opacity="0.75"/>
<rect x="1825.76" y="1317.5" width="9" height="2.4" fill="#d0d0d0" opacity="0.8"/>
<line x1="1822.76" y1="1337.0" x2="1846.76" y2="1337.0" stroke="#8a8a8a" stroke-width="1.6" stroke-dasharray="1.5,1.2" opacity="0.8"/>
<line x1="1822.76" y1="1334.0" x2="1847.76" y2="1334.0" stroke="#777" stroke-width="1" stroke-dasharray="1,1.5" opacity="0.7"/>
<rect x="1853.7" y="1324.0" width="1.6" height="9.5" fill="#b0b0b0" opacity="0.75"/>
<rect x="1856.2" y="1324.1" width="1.6" height="9.4" fill="#b0b0b0" opacity="0.75"/>
<rect x="1858.7" y="1323.2" width="1.6" height="10.3" fill="#b0b0b0" opacity="0.75"/>
<rect x="1861.7" y="1323.2" width="1.6" height="10.3" fill="#b0b0b0" opacity="0.75"/>
<rect x="1867.73" y="1317.5" width="9" height="2.4" fill="#d0d0d0" opacity="0.8"/>
<line x1="1864.73" y1="1337.0" x2="1888.73" y2="1337.0" stroke="#8a8a8a" stroke-width="1.6" stroke-dasharray="1.5,1.2" opacity="0.8"/>
<line x1="1864.73" y1="1334.0" x2="1889.73" y2="1334.0" stroke="#777" stroke-width="1" stroke-dasharray="1,1.5" opacity="0.7"/>
<rect x="1476.0" y="1349.5" width="1.6" height="10.7" fill="#b0b0b0" opacity="0.75"/>
<rect x="1478.5" y="1348.5" width="1.6" height="11.7" fill="#b0b0b0" opacity="0.75"/>
<rect x="1481.0" y="1348.8" width="1.6" height="11.4" fill="#b0b0b0" opacity="0.75"/>
<rect x="1484.0" y="1348.3" width="1.6" height="12.0" fill="#b0b0b0" opacity="0.75"/>
<rect x="1490.0" y="1344.23" width="9" height="2.4" fill="#d0d0d0" opacity="0.8"/>
<line x1="1487.0" y1="1363.73" x2="1511.0" y2="1363.73" stroke="#8a8a8a" stroke-width="1.6" stroke-dasharray="1.5,1.2" opacity="0.8"/>
<line x1="1487.0" y1="1360.73" x2="1512.0" y2="1360.73" stroke="#777" stroke-width="1" stroke-dasharray="1,1.5" opacity="0.7"/>
<rect x="1518.0" y="1351.6" width="1.6" height="8.7" fill="#b0b0b0" opacity="0.75"/>
<rect x="1520.5" y="1348.8" width="1.6" height="11.4" fill="#b0b0b0" opacity="0.75"/>
<rect x="1523.0" y="1348.4" width="1.6" height="11.9" fill="#b0b0b0" opacity="0.75"/>
<rect x="1526.0" y="1348.6" width="1.6" height="11.6" fill="#b0b0b0" opacity="0.75"/>
<rect x="1531.97" y="1344.23" width="9" height="2.4" fill="#d0d0d0" opacity="0.8"/>
<line x1="1528.97" y1="1363.73" x2="1552.97" y2="1363.73" stroke="#8a8a8a" stroke-width="1.6" stroke-dasharray="1.5,1.2" opacity="0.8"/>
<line x1="1528.97" y1="1360.73" x2="1553.97" y2="1360.73" stroke="#777" stroke-width="1" stroke-dasharray="1,1.5" opacity="0.7"/>
<rect x="1559.9" y="1349.4" width="1.6" height="10.9" fill="#b0b0b0" opacity="0.75"/>
<rect x="1562.4" y="1351.4" width="1.6" height="8.8" fill="#b0b0b0" opacity="0.75"/>
<rect x="1564.9" y="1348.9" width="1.6" height="11.3" fill="#b0b0b0" opacity="0.75"/>
<rect x="1567.9" y="1349.9" width="1.6" height="10.3" fill="#b0b0b0" opacity="0.75"/>
<rect x="1573.94" y="1344.23" width="9" height="2.4" fill="#d0d0d0" opacity="0.8"/>
<line x1="1570.94" y1="1363.73" x2="1594.94" y2="1363.73" stroke="#8a8a8a" stroke-width="1.6" stroke-dasharray="1.5,1.2" opacity="0.8"/>
<line x1="1570.94" y1="1360.73" x2="1595.94" y2="1360.73" stroke="#777" stroke-width="1" stroke-dasharray="1,1.5" opacity="0.7"/>
<line x1="1572.94" y1="1351.23" x2="1594.94" y2="1351.23" stroke="#999" stroke-width="1.2" stroke-dasharray="3,1.5" opacity="0.8"/>
<rect x="1601.9" y="1352.0" width="1.6" height="8.3" fill="#b0b0b0" opacity="0.75"/>
<rect x="1604.4" y="1348.8" width="1.6" height="11.4" fill="#b0b0b0" opacity="0.75"/>
<rect x="1606.9" y="1348.3" width="1.6" height="12.0" fill="#b0b0b0" opacity="0.75"/>
<rect x="1609.9" y="1351.9" width="1.6" height="8.4" fill="#b0b0b0" opacity="0.75"/>
<rect x="1615.91" y="1344.23" width="9" height="2.4" fill="#d0d0d0" opacity="0.8"/>
<line x1="1612.91" y1="1363.73" x2="1636.91" y2="1363.73" stroke="#8a8a8a" stroke-width="1.6" stroke-dasharray="1.5,1.2" opacity="0.8"/>
<line x1="1612.91" y1="1360.73" x2="1637.91" y2="1360.73" stroke="#777" stroke-width="1" stroke-dasharray="1,1.5" opacity="0.7"/>
<rect x="1643.9" y="1350.6" width="1.6" height="9.6" fill="#b0b0b0" opacity="0.75"/>
<rect x="1646.4" y="1351.6" width="1.6" height="8.6" fill="#b0b0b0" opacity="0.75"/>
<rect x="1648.9" y="1351.1" width="1.6" height="9.2" fill="#b0b0b0" opacity="0.75"/>
<rect x="1651.9" y="1349.2" width="1.6" height="11.1" fill="#b0b0b0" opacity="0.75"/>
<rect x="1657.88" y="1344.23" width="9" height="2.4" fill="#d0d0d0" opacity="0.8"/>
<line x1="1654.88" y1="1363.73" x2="1678.88" y2="1363.73" stroke="#8a8a8a" stroke-width="1.6" stroke-dasharray="1.5,1.2" opacity="0.8"/>
<line x1="1654.88" y1="1360.73" x2="1679.88" y2="1360.73" stroke="#777" stroke-width="1" stroke-dasharray="1,1.5" opacity="0.7"/>
<rect x="1685.8" y="1352.1" width="1.6" height="8.2" fill="#b0b0b0" opacity="0.75"/>
<rect x="1688.3" y="1349.8" width="1.6" height="10.5" fill="#b0b0b0" opacity="0.75"/>
<rect x="1690.8" y="1352.1" width="1.6" height="8.2" fill="#b0b0b0" opacity="0.75"/>
<rect x="1693.8" y="1349.4" width="1.6" height="10.9" fill="#b0b0b0" opacity="0.75"/>
<rect x="1699.85" y="1344.23" width="9" height="2.4" fill="#d0d0d0" opacity="0.8"/>
<line x1="1696.85" y1="1363.73" x2="1720.85" y2="1363.73" stroke="#8a8a8a" stroke-width="1.6" stroke-dasharray="1.5,1.2" opacity="0.8"/>
<line x1="1696.85" y1="1360.73" x2="1721.85" y2="1360.73" stroke="#777" stroke-width="1" stroke-dasharray="1,1.5" opacity="0.7"/>
<line x1="1698.85" y1="1351.23" x2="1720.85" y2="1351.23" stroke="#999" stroke-width="1.2" stroke-dasharray="3,1.5" opacity="0.8"/>
<rect x="1727.8" y="1348.7" width="1.6" height="11.5" fill="#b0b0b0" opacity="0.75"/>
<rect x="1730.3" y="1348.3" width="1.6" height="11.9" fill="#b0b0b0" opacity="0.75"/>
<rect x="1732.8" y="1350.2" width="1.6" height="10.0" fill="#b0b0b0" opacity="0.75"/>
<rect x="1735.8" y="1348.2" width="1.6" height="12.0" fill="#b0b0b0" opacity="0.75"/>
<rect x="1741.82" y="1344.23" width="9" height="2.4" fill="#d0d0d0" opacity="0.8"/>
<line x1="1738.82" y1="1363.73" x2="1762.82" y2="1363.73" stroke="#8a8a8a" stroke-width="1.6" stroke-dasharray="1.5,1.2" opacity="0.8"/>
<line x1="1738.82" y1="1360.73" x2="1763.82" y2="1360.73" stroke="#777" stroke-width="1" stroke-dasharray="1,1.5" opacity="0.7"/>
<line x1="1740.82" y1="1351.23" x2="1762.82" y2="1351.23" stroke="#999" stroke-width="1.2" stroke-dasharray="3,1.5" opacity="0.8"/>
<rect x="1769.8" y="1351.9" width="1.6" height="8.3" fill="#b0b0b0" opacity="0.75"/>
<rect x="1772.3" y="1349.8" width="1.6" height="10.4" fill="#b0b0b0" opacity="0.75"/>
<rect x="1774.8" y="1352.1" width="1.6" height="8.1" fill="#b0b0b0" opacity="0.75"/>
<rect x="1777.8" y="1351.4" width="1.6" height="8.8" fill="#b0b0b0" opacity="0.75"/>
<rect x="1783.79" y="1344.23" width="9" height="2.4" fill="#d0d0d0" opacity="0.8"/>
<line x1="1780.79" y1="1363.73" x2="1804.79" y2="1363.73" stroke="#8a8a8a" stroke-width="1.6" stroke-dasharray="1.5,1.2" opacity="0.8"/>
<line x1="1780.79" y1="1360.73" x2="1805.79" y2="1360.73" stroke="#777" stroke-width="1" stroke-dasharray="1,1.5" opacity="0.7"/>
<rect x="1811.8" y="1349.8" width="1.6" height="10.4" fill="#b0b0b0" opacity="0.75"/>
<rect x="1814.3" y="1351.6" width="1.6" height="8.6" fill="#b0b0b0" opacity="0.75"/>
<rect x="1816.8" y="1352.1" width="1.6" height="8.2" fill="#b0b0b0" opacity="0.75"/>
<rect x="1819.8" y="1348.8" width="1.6" height="11.5" fill="#b0b0b0" opacity="0.75"/>
<rect x="1825.76" y="1344.23" width="9" height="2.4" fill="#d0d0d0" opacity="0.8"/>
<line x1="1822.76" y1="1363.73" x2="1846.76" y2="1363.73" stroke="#8a8a8a" stroke-width="1.6" stroke-dasharray="1.5,1.2" opacity="0.8"/>
<line x1="1822.76" y1="1360.73" x2="1847.76" y2="1360.73" stroke="#777" stroke-width="1" stroke-dasharray="1,1.5" opacity="0.7"/>
<line x1="1824.76" y1="1351.23" x2="1846.76" y2="1351.23" stroke="#999" stroke-width="1.2" stroke-dasharray="3,1.5" opacity="0.8"/>
<rect x="1853.7" y="1348.4" width="1.6" height="11.8" fill="#b0b0b0" opacity="0.75"/>
<rect x="1856.2" y="1348.6" width="1.6" height="11.6" fill="#b0b0b0" opacity="0.75"/>
<rect x="1858.7" y="1350.7" width="1.6" height="9.5" fill="#b0b0b0" opacity="0.75"/>
<rect x="1861.7" y="1350.4" width="1.6" height="9.8" fill="#b0b0b0" opacity="0.75"/>
<rect x="1867.73" y="1344.23" width="9" height="2.4" fill="#d0d0d0" opacity="0.8"/>
<line x1="1864.73" y1="1363.73" x2="1888.73" y2="1363.73" stroke="#8a8a8a" stroke-width="1.6" stroke-dasharray="1.5,1.2" opacity="0.8"/>
<line x1="1864.73" y1="1360.73" x2="1889.73" y2="1360.73" stroke="#777" stroke-width="1" stroke-dasharray="1,1.5" opacity="0.7"/>
<rect x="1476.0" y="1376.4" width="1.6" height="10.6" fill="#b0b0b0" opacity="0.75"/>
<rect x="1478.5" y="1376.6" width="1.6" height="10.4" fill="#b0b0b0" opacity="0.75"/>
<rect x="1481.0" y="1376.7" width="1.6" height="10.2" fill="#b0b0b0" opacity="0.75"/>
<rect x="1484.0" y="1376.5" width="1.6" height="10.5" fill="#b0b0b0" opacity="0.75"/>
<rect x="1490.0" y="1370.96" width="9" height="2.4" fill="#d0d0d0" opacity="0.8"/>
<line x1="1487.0" y1="1390.46" x2="1511.0" y2="1390.46" stroke="#8a8a8a" stroke-width="1.6" stroke-dasharray="1.5,1.2" opacity="0.8"/>
<line x1="1487.0" y1="1387.46" x2="1512.0" y2="1387.46" stroke="#a8a8a8" stroke-width="1.4"/>
<rect x="1518.0" y="1376.9" width="1.6" height="10.0" fill="#b0b0b0" opacity="0.75"/>
<rect x="1520.5" y="1377.2" width="1.6" height="9.7" fill="#b0b0b0" opacity="0.75"/>
<rect x="1523.0" y="1376.1" width="1.6" height="10.9" fill="#b0b0b0" opacity="0.75"/>
<rect x="1526.0" y="1378.0" width="1.6" height="9.0" fill="#b0b0b0" opacity="0.75"/>
<rect x="1531.97" y="1370.96" width="9" height="2.4" fill="#d0d0d0" opacity="0.8"/>
<line x1="1528.97" y1="1390.46" x2="1552.97" y2="1390.46" stroke="#8a8a8a" stroke-width="1.6" stroke-dasharray="1.5,1.2" opacity="0.8"/>
<line x1="1528.97" y1="1387.46" x2="1553.97" y2="1387.46" stroke="#a8a8a8" stroke-width="1.4"/>
<line x1="1530.97" y1="1377.96" x2="1552.97" y2="1377.96" stroke="#999" stroke-width="1.2" stroke-dasharray="3,1.5" opacity="0.8"/>
<rect x="1559.9" y="1375.0" width="1.6" height="11.9" fill="#b0b0b0" opacity="0.75"/>
<rect x="1562.4" y="1376.9" width="1.6" height="10.1" fill="#b0b0b0" opacity="0.75"/>
<rect x="1564.9" y="1376.8" width="1.6" height="10.2" fill="#b0b0b0" opacity="0.75"/>
<rect x="1567.9" y="1378.9" width="1.6" height="8.0" fill="#b0b0b0" opacity="0.75"/>
<rect x="1573.94" y="1370.96" width="9" height="2.4" fill="#d0d0d0" opacity="0.8"/>
<line x1="1570.94" y1="1390.46" x2="1594.94" y2="1390.46" stroke="#8a8a8a" stroke-width="1.6" stroke-dasharray="1.5,1.2" opacity="0.8"/>
<line x1="1570.94" y1="1387.46" x2="1595.94" y2="1387.46" stroke="#a8a8a8" stroke-width="1.4"/>
<rect x="1601.9" y="1376.6" width="1.6" height="10.3" fill="#b0b0b0" opacity="0.75"/>
<rect x="1604.4" y="1378.9" width="1.6" height="8.1" fill="#b0b0b0" opacity="0.75"/>
<rect x="1606.9" y="1376.5" width="1.6" height="10.5" fill="#b0b0b0" opacity="0.75"/>
<rect x="1609.9" y="1376.4" width="1.6" height="10.5" fill="#b0b0b0" opacity="0.75"/>
<rect x="1615.91" y="1370.96" width="9" height="2.4" fill="#d0d0d0" opacity="0.8"/>
<line x1="1612.91" y1="1390.46" x2="1636.91" y2="1390.46" stroke="#8a8a8a" stroke-width="1.6" stroke-dasharray="1.5,1.2" opacity="0.8"/>
<line x1="1612.91" y1="1387.46" x2="1637.91" y2="1387.46" stroke="#a8a8a8" stroke-width="1.4"/>
<line x1="1614.91" y1="1377.96" x2="1636.91" y2="1377.96" stroke="#999" stroke-width="1.2" stroke-dasharray="3,1.5" opacity="0.8"/>
<rect x="1643.9" y="1376.5" width="1.6" height="10.5" fill="#b0b0b0" opacity="0.75"/>
<rect x="1646.4" y="1377.1" width="1.6" height="9.9" fill="#b0b0b0" opacity="0.75"/>
<rect x="1648.9" y="1376.2" width="1.6" height="10.7" fill="#b0b0b0" opacity="0.75"/>
<rect x="1651.9" y="1377.5" width="1.6" height="9.4" fill="#b0b0b0" opacity="0.75"/>
<rect x="1657.88" y="1370.96" width="9" height="2.4" fill="#d0d0d0" opacity="0.8"/>
<line x1="1654.88" y1="1390.46" x2="1678.88" y2="1390.46" stroke="#8a8a8a" stroke-width="1.6" stroke-dasharray="1.5,1.2" opacity="0.8"/>
<line x1="1654.88" y1="1387.46" x2="1679.88" y2="1387.46" stroke="#a8a8a8" stroke-width="1.4"/>
<rect x="1685.8" y="1376.0" width="1.6" height="11.0" fill="#b0b0b0" opacity="0.75"/>
<rect x="1688.3" y="1378.9" width="1.6" height="8.1" fill="#b0b0b0" opacity="0.75"/>
<rect x="1690.8" y="1378.7" width="1.6" height="8.2" fill="#b0b0b0" opacity="0.75"/>
<rect x="1693.8" y="1376.3" width="1.6" height="10.7" fill="#b0b0b0" opacity="0.75"/>
<rect x="1699.85" y="1370.96" width="9" height="2.4" fill="#d0d0d0" opacity="0.8"/>
<line x1="1696.85" y1="1390.46" x2="1720.85" y2="1390.46" stroke="#8a8a8a" stroke-width="1.6" stroke-dasharray="1.5,1.2" opacity="0.8"/>
<line x1="1696.85" y1="1387.46" x2="1721.85" y2="1387.46" stroke="#a8a8a8" stroke-width="1.4"/>
<rect x="1727.8" y="1378.0" width="1.6" height="9.0" fill="#b0b0b0" opacity="0.75"/>
<rect x="1730.3" y="1377.1" width="1.6" height="9.8" fill="#b0b0b0" opacity="0.75"/>
<rect x="1732.8" y="1376.6" width="1.6" height="10.4" fill="#b0b0b0" opacity="0.75"/>
<rect x="1735.8" y="1377.7" width="1.6" height="9.3" fill="#b0b0b0" opacity="0.75"/>
<rect x="1741.82" y="1370.96" width="9" height="2.4" fill="#d0d0d0" opacity="0.8"/>
<line x1="1738.82" y1="1390.46" x2="1762.82" y2="1390.46" stroke="#8a8a8a" stroke-width="1.6" stroke-dasharray="1.5,1.2" opacity="0.8"/>
<line x1="1738.82" y1="1387.46" x2="1763.82" y2="1387.46" stroke="#a8a8a8" stroke-width="1.4"/>
<rect x="1769.8" y="1377.7" width="1.6" height="9.3" fill="#b0b0b0" opacity="0.75"/>
<rect x="1772.3" y="1377.5" width="1.6" height="9.5" fill="#b0b0b0" opacity="0.75"/>
<rect x="1774.8" y="1376.6" width="1.6" height="10.4" fill="#b0b0b0" opacity="0.75"/>
<rect x="1777.8" y="1377.8" width="1.6" height="9.2" fill="#b0b0b0" opacity="0.75"/>
<rect x="1783.79" y="1370.96" width="9" height="2.4" fill="#d0d0d0" opacity="0.8"/>
<line x1="1780.79" y1="1390.46" x2="1804.79" y2="1390.46" stroke="#8a8a8a" stroke-width="1.6" stroke-dasharray="1.5,1.2" opacity="0.8"/>
<line x1="1780.79" y1="1387.46" x2="1805.79" y2="1387.46" stroke="#a8a8a8" stroke-width="1.4"/>
<rect x="1811.8" y="1375.9" width="1.6" height="11.1" fill="#b0b0b0" opacity="0.75"/>
<rect x="1814.3" y="1378.9" width="1.6" height="8.1" fill="#b0b0b0" opacity="0.75"/>
<rect x="1816.8" y="1376.7" width="1.6" height="10.3" fill="#b0b0b0" opacity="0.75"/>
<rect x="1819.8" y="1376.0" width="1.6" height="10.9" fill="#b0b0b0" opacity="0.75"/>
<rect x="1825.76" y="1370.96" width="9" height="2.4" fill="#d0d0d0" opacity="0.8"/>
<line x1="1822.76" y1="1390.46" x2="1846.76" y2="1390.46" stroke="#8a8a8a" stroke-width="1.6" stroke-dasharray="1.5,1.2" opacity="0.8"/>
<line x1="1822.76" y1="1387.46" x2="1847.76" y2="1387.46" stroke="#a8a8a8" stroke-width="1.4"/>
<line x1="1824.76" y1="1377.96" x2="1846.76" y2="1377.96" stroke="#999" stroke-width="1.2" stroke-dasharray="3,1.5" opacity="0.8"/>
<rect x="1853.7" y="1378.1" width="1.6" height="8.9" fill="#b0b0b0" opacity="0.75"/>
<rect x="1856.2" y="1375.7" width="1.6" height="11.2" fill="#b0b0b0" opacity="0.75"/>
<rect x="1858.7" y="1378.0" width="1.6" height="9.0" fill="#b0b0b0" opacity="0.75"/>
<rect x="1861.7" y="1378.2" width="1.6" height="8.7" fill="#b0b0b0" opacity="0.75"/>
<rect x="1867.73" y="1370.96" width="9" height="2.4" fill="#d0d0d0" opacity="0.8"/>
<line x1="1864.73" y1="1390.46" x2="1888.73" y2="1390.46" stroke="#8a8a8a" stroke-width="1.6" stroke-dasharray="1.5,1.2" opacity="0.8"/>
<line x1="1864.73" y1="1387.46" x2="1889.73" y2="1387.46" stroke="#a8a8a8" stroke-width="1.4"/>
<rect x="1476.0" y="1402.9" width="1.6" height="10.8" fill="#b0b0b0" opacity="0.75"/>
<rect x="1478.5" y="1405.3" width="1.6" height="8.4" fill="#b0b0b0" opacity="0.75"/>
<rect x="1481.0" y="1404.4" width="1.6" height="9.3" fill="#b0b0b0" opacity="0.75"/>
<rect x="1484.0" y="1404.4" width="1.6" height="9.3" fill="#b0b0b0" opacity="0.75"/>
<rect x="1490.0" y="1397.69" width="9" height="2.4" fill="#d0d0d0" opacity="0.8"/>
<line x1="1487.0" y1="1417.19" x2="1511.0" y2="1417.19" stroke="#8a8a8a" stroke-width="1.6" stroke-dasharray="1.5,1.2" opacity="0.8"/>
<line x1="1487.0" y1="1414.19" x2="1512.0" y2="1414.19" stroke="#777" stroke-width="1" stroke-dasharray="1,1.5" opacity="0.7"/>
<rect x="1518.0" y="1403.9" width="1.6" height="9.8" fill="#b0b0b0" opacity="0.75"/>
<rect x="1520.5" y="1402.3" width="1.6" height="11.4" fill="#b0b0b0" opacity="0.75"/>
<rect x="1523.0" y="1405.0" width="1.6" height="8.7" fill="#b0b0b0" opacity="0.75"/>
<rect x="1526.0" y="1404.3" width="1.6" height="9.3" fill="#b0b0b0" opacity="0.75"/>
<rect x="1531.97" y="1397.69" width="9" height="2.4" fill="#d0d0d0" opacity="0.8"/>
<line x1="1528.97" y1="1417.19" x2="1552.97" y2="1417.19" stroke="#8a8a8a" stroke-width="1.6" stroke-dasharray="1.5,1.2" opacity="0.8"/>
<line x1="1528.97" y1="1414.19" x2="1553.97" y2="1414.19" stroke="#777" stroke-width="1" stroke-dasharray="1,1.5" opacity="0.7"/>
<rect x="1559.9" y="1402.2" width="1.6" height="11.5" fill="#b0b0b0" opacity="0.75"/>
<rect x="1562.4" y="1403.9" width="1.6" height="9.8" fill="#b0b0b0" opacity="0.75"/>
<rect x="1564.9" y="1404.8" width="1.6" height="8.9" fill="#b0b0b0" opacity="0.75"/>
<rect x="1567.9" y="1405.2" width="1.6" height="8.5" fill="#b0b0b0" opacity="0.75"/>
<rect x="1573.94" y="1397.69" width="9" height="2.4" fill="#d0d0d0" opacity="0.8"/>
<line x1="1570.94" y1="1417.19" x2="1594.94" y2="1417.19" stroke="#8a8a8a" stroke-width="1.6" stroke-dasharray="1.5,1.2" opacity="0.8"/>
<line x1="1570.94" y1="1414.19" x2="1595.94" y2="1414.19" stroke="#777" stroke-width="1" stroke-dasharray="1,1.5" opacity="0.7"/>
<rect x="1601.9" y="1404.9" width="1.6" height="8.8" fill="#b0b0b0" opacity="0.75"/>
<rect x="1604.4" y="1402.5" width="1.6" height="11.2" fill="#b0b0b0" opacity="0.75"/>
<rect x="1606.9" y="1402.3" width="1.6" height="11.4" fill="#b0b0b0" opacity="0.75"/>
<rect x="1609.9" y="1405.0" width="1.6" height="8.7" fill="#b0b0b0" opacity="0.75"/>
<rect x="1615.91" y="1397.69" width="9" height="2.4" fill="#d0d0d0" opacity="0.8"/>
<line x1="1612.91" y1="1417.19" x2="1636.91" y2="1417.19" stroke="#8a8a8a" stroke-width="1.6" stroke-dasharray="1.5,1.2" opacity="0.8"/>
<line x1="1612.91" y1="1414.19" x2="1637.91" y2="1414.19" stroke="#777" stroke-width="1" stroke-dasharray="1,1.5" opacity="0.7"/>
<line x1="1614.91" y1="1404.69" x2="1636.91" y2="1404.69" stroke="#999" stroke-width="1.2" stroke-dasharray="3,1.5" opacity="0.8"/>
<rect x="1643.9" y="1402.5" width="1.6" height="11.2" fill="#b0b0b0" opacity="0.75"/>
<rect x="1646.4" y="1403.1" width="1.6" height="10.6" fill="#b0b0b0" opacity="0.75"/>
<rect x="1648.9" y="1402.5" width="1.6" height="11.2" fill="#b0b0b0" opacity="0.75"/>
<rect x="1651.9" y="1404.3" width="1.6" height="9.4" fill="#b0b0b0" opacity="0.75"/>
<rect x="1657.88" y="1397.69" width="9" height="2.4" fill="#d0d0d0" opacity="0.8"/>
<line x1="1654.88" y1="1417.19" x2="1678.88" y2="1417.19" stroke="#8a8a8a" stroke-width="1.6" stroke-dasharray="1.5,1.2" opacity="0.8"/>
<line x1="1654.88" y1="1414.19" x2="1679.88" y2="1414.19" stroke="#777" stroke-width="1" stroke-dasharray="1,1.5" opacity="0.7"/>
<line x1="1656.88" y1="1404.69" x2="1678.88" y2="1404.69" stroke="#999" stroke-width="1.2" stroke-dasharray="3,1.5" opacity="0.8"/>
<rect x="1685.8" y="1404.5" width="1.6" height="9.2" fill="#b0b0b0" opacity="0.75"/>
<rect x="1688.3" y="1402.5" width="1.6" height="11.2" fill="#b0b0b0" opacity="0.75"/>
<rect x="1690.8" y="1404.6" width="1.6" height="9.1" fill="#b0b0b0" opacity="0.75"/>
<rect x="1693.8" y="1404.3" width="1.6" height="9.4" fill="#b0b0b0" opacity="0.75"/>
<rect x="1699.85" y="1397.69" width="9" height="2.4" fill="#d0d0d0" opacity="0.8"/>
<line x1="1696.85" y1="1417.19" x2="1720.85" y2="1417.19" stroke="#8a8a8a" stroke-width="1.6" stroke-dasharray="1.5,1.2" opacity="0.8"/>
<line x1="1696.85" y1="1414.19" x2="1721.85" y2="1414.19" stroke="#777" stroke-width="1" stroke-dasharray="1,1.5" opacity="0.7"/>
<rect x="1727.8" y="1404.0" width="1.6" height="9.7" fill="#b0b0b0" opacity="0.75"/>
<rect x="1730.3" y="1404.1" width="1.6" height="9.6" fill="#b0b0b0" opacity="0.75"/>
<rect x="1732.8" y="1402.0" width="1.6" height="11.7" fill="#b0b0b0" opacity="0.75"/>
<rect x="1735.8" y="1405.1" width="1.6" height="8.6" fill="#b0b0b0" opacity="0.75"/>
<rect x="1741.82" y="1397.69" width="9" height="2.4" fill="#d0d0d0" opacity="0.8"/>
<line x1="1738.82" y1="1417.19" x2="1762.82" y2="1417.19" stroke="#8a8a8a" stroke-width="1.6" stroke-dasharray="1.5,1.2" opacity="0.8"/>
<line x1="1738.82" y1="1414.19" x2="1763.82" y2="1414.19" stroke="#777" stroke-width="1" stroke-dasharray="1,1.5" opacity="0.7"/>
<line x1="1740.82" y1="1404.69" x2="1762.82" y2="1404.69" stroke="#999" stroke-width="1.2" stroke-dasharray="3,1.5" opacity="0.8"/>
<rect x="1769.8" y="1401.9" width="1.6" height="11.8" fill="#b0b0b0" opacity="0.75"/>
<rect x="1772.3" y="1402.2" width="1.6" height="11.5" fill="#b0b0b0" opacity="0.75"/>
<rect x="1774.8" y="1401.7" width="1.6" height="11.9" fill="#b0b0b0" opacity="0.75"/>
<rect x="1777.8" y="1404.0" width="1.6" height="9.7" fill="#b0b0b0" opacity="0.75"/>
<rect x="1783.79" y="1397.69" width="9" height="2.4" fill="#d0d0d0" opacity="0.8"/>
<line x1="1780.79" y1="1417.19" x2="1804.79" y2="1417.19" stroke="#8a8a8a" stroke-width="1.6" stroke-dasharray="1.5,1.2" opacity="0.8"/>
<line x1="1780.79" y1="1414.19" x2="1805.79" y2="1414.19" stroke="#777" stroke-width="1" stroke-dasharray="1,1.5" opacity="0.7"/>
<rect x="1811.8" y="1402.0" width="1.6" height="11.7" fill="#b0b0b0" opacity="0.75"/>
<rect x="1814.3" y="1404.8" width="1.6" height="8.9" fill="#b0b0b0" opacity="0.75"/>
<rect x="1816.8" y="1402.7" width="1.6" height="11.0" fill="#b0b0b0" opacity="0.75"/>
<rect x="1819.8" y="1402.3" width="1.6" height="11.3" fill="#b0b0b0" opacity="0.75"/>
<rect x="1825.76" y="1397.69" width="9" height="2.4" fill="#d0d0d0" opacity="0.8"/>
<line x1="1822.76" y1="1417.19" x2="1846.76" y2="1417.19" stroke="#8a8a8a" stroke-width="1.6" stroke-dasharray="1.5,1.2" opacity="0.8"/>
<line x1="1822.76" y1="1414.19" x2="1847.76" y2="1414.19" stroke="#777" stroke-width="1" stroke-dasharray="1,1.5" opacity="0.7"/>
<rect x="1853.7" y="1403.6" width="1.6" height="10.1" fill="#b0b0b0" opacity="0.75"/>
<rect x="1856.2" y="1404.5" width="1.6" height="9.2" fill="#b0b0b0" opacity="0.75"/>
<rect x="1858.7" y="1404.3" width="1.6" height="9.4" fill="#b0b0b0" opacity="0.75"/>
<rect x="1861.7" y="1404.8" width="1.6" height="8.9" fill="#b0b0b0" opacity="0.75"/>
<rect x="1867.73" y="1397.69" width="9" height="2.4" fill="#d0d0d0" opacity="0.8"/>
<line x1="1864.73" y1="1417.19" x2="1888.73" y2="1417.19" stroke="#8a8a8a" stroke-width="1.6" stroke-dasharray="1.5,1.2" opacity="0.8"/>
<line x1="1864.73" y1="1414.19" x2="1889.73" y2="1414.19" stroke="#777" stroke-width="1" stroke-dasharray="1,1.5" opacity="0.7"/>
<line x1="1866.73" y1="1404.69" x2="1888.73" y2="1404.69" stroke="#999" stroke-width="1.2" stroke-dasharray="3,1.5" opacity="0.8"/>
<rect x="1476.0" y="1430.1" width="1.6" height="10.4" fill="#b0b0b0" opacity="0.75"/>
<rect x="1478.5" y="1431.3" width="1.6" height="9.1" fill="#b0b0b0" opacity="0.75"/>
<rect x="1481.0" y="1429.2" width="1.6" height="11.2" fill="#b0b0b0" opacity="0.75"/>
<rect x="1484.0" y="1432.2" width="1.6" height="8.2" fill="#b0b0b0" opacity="0.75"/>
<rect x="1490.0" y="1424.42" width="9" height="2.4" fill="#d0d0d0" opacity="0.8"/>
<line x1="1487.0" y1="1443.92" x2="1511.0" y2="1443.92" stroke="#8a8a8a" stroke-width="1.6" stroke-dasharray="1.5,1.2" opacity="0.8"/>
<line x1="1487.0" y1="1440.92" x2="1512.0" y2="1440.92" stroke="#777" stroke-width="1" stroke-dasharray="1,1.5" opacity="0.7"/>
<rect x="1518.0" y="1429.6" width="1.6" height="10.8" fill="#b0b0b0" opacity="0.75"/>
<rect x="1520.5" y="1428.7" width="1.6" height="11.7" fill="#b0b0b0" opacity="0.75"/>
<rect x="1523.0" y="1428.8" width="1.6" height="11.6" fill="#b0b0b0" opacity="0.75"/>
<rect x="1526.0" y="1428.8" width="1.6" height="11.6" fill="#b0b0b0" opacity="0.75"/>
<rect x="1531.97" y="1424.42" width="9" height="2.4" fill="#d0d0d0" opacity="0.8"/>
<line x1="1528.97" y1="1443.92" x2="1552.97" y2="1443.92" stroke="#8a8a8a" stroke-width="1.6" stroke-dasharray="1.5,1.2" opacity="0.8"/>
<line x1="1528.97" y1="1440.92" x2="1553.97" y2="1440.92" stroke="#777" stroke-width="1" stroke-dasharray="1,1.5" opacity="0.7"/>
<rect x="1559.9" y="1432.4" width="1.6" height="8.1" fill="#b0b0b0" opacity="0.75"/>
<rect x="1562.4" y="1429.4" width="1.6" height="11.0" fill="#b0b0b0" opacity="0.75"/>
<rect x="1564.9" y="1431.7" width="1.6" height="8.7" fill="#b0b0b0" opacity="0.75"/>
<rect x="1567.9" y="1431.2" width="1.6" height="9.2" fill="#b0b0b0" opacity="0.75"/>
<rect x="1573.94" y="1424.42" width="9" height="2.4" fill="#d0d0d0" opacity="0.8"/>
<line x1="1570.94" y1="1443.92" x2="1594.94" y2="1443.92" stroke="#8a8a8a" stroke-width="1.6" stroke-dasharray="1.5,1.2" opacity="0.8"/>
<line x1="1570.94" y1="1440.92" x2="1595.94" y2="1440.92" stroke="#777" stroke-width="1" stroke-dasharray="1,1.5" opacity="0.7"/>
<rect x="1601.9" y="1430.3" width="1.6" height="10.1" fill="#b0b0b0" opacity="0.75"/>
<rect x="1604.4" y="1430.8" width="1.6" height="9.7" fill="#b0b0b0" opacity="0.75"/>
<rect x="1606.9" y="1428.7" width="1.6" height="11.8" fill="#b0b0b0" opacity="0.75"/>
<rect x="1609.9" y="1430.0" width="1.6" height="10.4" fill="#b0b0b0" opacity="0.75"/>
<rect x="1615.91" y="1424.42" width="9" height="2.4" fill="#d0d0d0" opacity="0.8"/>
<line x1="1612.91" y1="1443.92" x2="1636.91" y2="1443.92" stroke="#8a8a8a" stroke-width="1.6" stroke-dasharray="1.5,1.2" opacity="0.8"/>
<line x1="1612.91" y1="1440.92" x2="1637.91" y2="1440.92" stroke="#777" stroke-width="1" stroke-dasharray="1,1.5" opacity="0.7"/>
<line x1="1614.91" y1="1431.42" x2="1636.91" y2="1431.42" stroke="#999" stroke-width="1.2" stroke-dasharray="3,1.5" opacity="0.8"/>
<rect x="1643.9" y="1431.4" width="1.6" height="9.0" fill="#b0b0b0" opacity="0.75"/>
<rect x="1646.4" y="1429.0" width="1.6" height="11.4" fill="#b0b0b0" opacity="0.75"/>
<rect x="1648.9" y="1430.5" width="1.6" height="9.9" fill="#b0b0b0" opacity="0.75"/>
<rect x="1651.9" y="1429.3" width="1.6" height="11.1" fill="#b0b0b0" opacity="0.75"/>
<rect x="1657.88" y="1424.42" width="9" height="2.4" fill="#d0d0d0" opacity="0.8"/>
<line x1="1654.88" y1="1443.92" x2="1678.88" y2="1443.92" stroke="#8a8a8a" stroke-width="1.6" stroke-dasharray="1.5,1.2" opacity="0.8"/>
<line x1="1654.88" y1="1440.92" x2="1679.88" y2="1440.92" stroke="#777" stroke-width="1" stroke-dasharray="1,1.5" opacity="0.7"/>
<rect x="1685.8" y="1431.6" width="1.6" height="8.8" fill="#b0b0b0" opacity="0.75"/>
<rect x="1688.3" y="1430.3" width="1.6" height="10.1" fill="#b0b0b0" opacity="0.75"/>
<rect x="1690.8" y="1429.2" width="1.6" height="11.3" fill="#b0b0b0" opacity="0.75"/>
<rect x="1693.8" y="1431.7" width="1.6" height="8.7" fill="#b0b0b0" opacity="0.75"/>
<rect x="1699.85" y="1424.42" width="9" height="2.4" fill="#d0d0d0" opacity="0.8"/>
<line x1="1696.85" y1="1443.92" x2="1720.85" y2="1443.92" stroke="#8a8a8a" stroke-width="1.6" stroke-dasharray="1.5,1.2" opacity="0.8"/>
<line x1="1696.85" y1="1440.92" x2="1721.85" y2="1440.92" stroke="#777" stroke-width="1" stroke-dasharray="1,1.5" opacity="0.7"/>
<rect x="1727.8" y="1428.7" width="1.6" height="11.7" fill="#b0b0b0" opacity="0.75"/>
<rect x="1730.3" y="1429.2" width="1.6" height="11.2" fill="#b0b0b0" opacity="0.75"/>
<rect x="1732.8" y="1429.1" width="1.6" height="11.3" fill="#b0b0b0" opacity="0.75"/>
<rect x="1735.8" y="1432.4" width="1.6" height="8.0" fill="#b0b0b0" opacity="0.75"/>
<rect x="1741.82" y="1424.42" width="9" height="2.4" fill="#d0d0d0" opacity="0.8"/>
<line x1="1738.82" y1="1443.92" x2="1762.82" y2="1443.92" stroke="#8a8a8a" stroke-width="1.6" stroke-dasharray="1.5,1.2" opacity="0.8"/>
<line x1="1738.82" y1="1440.92" x2="1763.82" y2="1440.92" stroke="#777" stroke-width="1" stroke-dasharray="1,1.5" opacity="0.7"/>
<rect x="1769.8" y="1429.0" width="1.6" height="11.5" fill="#b0b0b0" opacity="0.75"/>
<rect x="1772.3" y="1432.2" width="1.6" height="8.2" fill="#b0b0b0" opacity="0.75"/>
<rect x="1774.8" y="1431.3" width="1.6" height="9.1" fill="#b0b0b0" opacity="0.75"/>
<rect x="1777.8" y="1431.3" width="1.6" height="9.1" fill="#b0b0b0" opacity="0.75"/>
<rect x="1783.79" y="1424.42" width="9" height="2.4" fill="#d0d0d0" opacity="0.8"/>
<line x1="1780.79" y1="1443.92" x2="1804.79" y2="1443.92" stroke="#8a8a8a" stroke-width="1.6" stroke-dasharray="1.5,1.2" opacity="0.8"/>
<line x1="1780.79" y1="1440.92" x2="1805.79" y2="1440.92" stroke="#777" stroke-width="1" stroke-dasharray="1,1.5" opacity="0.7"/>
<rect x="1811.8" y="1430.7" width="1.6" height="9.7" fill="#b0b0b0" opacity="0.75"/>
<rect x="1814.3" y="1430.5" width="1.6" height="9.9" fill="#b0b0b0" opacity="0.75"/>
<rect x="1816.8" y="1429.3" width="1.6" height="11.1" fill="#b0b0b0" opacity="0.75"/>
<rect x="1819.8" y="1432.4" width="1.6" height="8.0" fill="#b0b0b0" opacity="0.75"/>
<rect x="1825.76" y="1424.42" width="9" height="2.4" fill="#d0d0d0" opacity="0.8"/>
<line x1="1822.76" y1="1443.92" x2="1846.76" y2="1443.92" stroke="#8a8a8a" stroke-width="1.6" stroke-dasharray="1.5,1.2" opacity="0.8"/>
<line x1="1822.76" y1="1440.92" x2="1847.76" y2="1440.92" stroke="#777" stroke-width="1" stroke-dasharray="1,1.5" opacity="0.7"/>
<line x1="1824.76" y1="1431.42" x2="1846.76" y2="1431.42" stroke="#999" stroke-width="1.2" stroke-dasharray="3,1.5" opacity="0.8"/>
<rect x="1853.7" y="1431.9" width="1.6" height="8.5" fill="#b0b0b0" opacity="0.75"/>
<rect x="1856.2" y="1431.9" width="1.6" height="8.5" fill="#b0b0b0" opacity="0.75"/>
<rect x="1858.7" y="1432.1" width="1.6" height="8.3" fill="#b0b0b0" opacity="0.75"/>
<rect x="1861.7" y="1428.5" width="1.6" height="11.9" fill="#b0b0b0" opacity="0.75"/>
<rect x="1867.73" y="1424.42" width="9" height="2.4" fill="#d0d0d0" opacity="0.8"/>
<line x1="1864.73" y1="1443.92" x2="1888.73" y2="1443.92" stroke="#8a8a8a" stroke-width="1.6" stroke-dasharray="1.5,1.2" opacity="0.8"/>
<line x1="1864.73" y1="1440.92" x2="1889.73" y2="1440.92" stroke="#777" stroke-width="1" stroke-dasharray="1,1.5" opacity="0.7"/>
<rect x="1476.0" y="1458.8" width="1.6" height="8.3" fill="#b0b0b0" opacity="0.75"/>
<rect x="1478.5" y="1457.1" width="1.6" height="10.0" fill="#b0b0b0" opacity="0.75"/>
<rect x="1481.0" y="1457.9" width="1.6" height="9.3" fill="#b0b0b0" opacity="0.75"/>
<rect x="1484.0" y="1457.9" width="1.6" height="9.3" fill="#b0b0b0" opacity="0.75"/>
<rect x="1490.0" y="1451.15" width="9" height="2.4" fill="#d0d0d0" opacity="0.8"/>
<line x1="1487.0" y1="1470.65" x2="1511.0" y2="1470.65" stroke="#8a8a8a" stroke-width="1.6" stroke-dasharray="1.5,1.2" opacity="0.8"/>
<line x1="1487.0" y1="1467.65" x2="1512.0" y2="1467.65" stroke="#777" stroke-width="1" stroke-dasharray="1,1.5" opacity="0.7"/>
<rect x="1518.0" y="1456.6" width="1.6" height="10.6" fill="#b0b0b0" opacity="0.75"/>
<rect x="1520.5" y="1456.8" width="1.6" height="10.3" fill="#b0b0b0" opacity="0.75"/>
<rect x="1523.0" y="1457.7" width="1.6" height="9.4" fill="#b0b0b0" opacity="0.75"/>
<rect x="1526.0" y="1458.4" width="1.6" height="8.8" fill="#b0b0b0" opacity="0.75"/>
<rect x="1531.97" y="1451.15" width="9" height="2.4" fill="#d0d0d0" opacity="0.8"/>
<line x1="1528.97" y1="1470.65" x2="1552.97" y2="1470.65" stroke="#8a8a8a" stroke-width="1.6" stroke-dasharray="1.5,1.2" opacity="0.8"/>
<line x1="1528.97" y1="1467.65" x2="1553.97" y2="1467.65" stroke="#777" stroke-width="1" stroke-dasharray="1,1.5" opacity="0.7"/>
<line x1="1530.97" y1="1458.15" x2="1552.97" y2="1458.15" stroke="#999" stroke-width="1.2" stroke-dasharray="3,1.5" opacity="0.8"/>
<rect x="1559.9" y="1458.7" width="1.6" height="8.5" fill="#b0b0b0" opacity="0.75"/>
<rect x="1562.4" y="1456.9" width="1.6" height="10.2" fill="#b0b0b0" opacity="0.75"/>
<rect x="1564.9" y="1456.3" width="1.6" height="10.9" fill="#b0b0b0" opacity="0.75"/>
<rect x="1567.9" y="1457.6" width="1.6" height="9.5" fill="#b0b0b0" opacity="0.75"/>
<rect x="1573.94" y="1451.15" width="9" height="2.4" fill="#d0d0d0" opacity="0.8"/>
<line x1="1570.94" y1="1470.65" x2="1594.94" y2="1470.65" stroke="#8a8a8a" stroke-width="1.6" stroke-dasharray="1.5,1.2" opacity="0.8"/>
<line x1="1570.94" y1="1467.65" x2="1595.94" y2="1467.65" stroke="#777" stroke-width="1" stroke-dasharray="1,1.5" opacity="0.7"/>
<line x1="1572.94" y1="1458.15" x2="1594.94" y2="1458.15" stroke="#999" stroke-width="1.2" stroke-dasharray="3,1.5" opacity="0.8"/>
<rect x="1601.9" y="1458.4" width="1.6" height="8.7" fill="#b0b0b0" opacity="0.75"/>
<rect x="1604.4" y="1457.7" width="1.6" height="9.5" fill="#b0b0b0" opacity="0.75"/>
<rect x="1606.9" y="1456.7" width="1.6" height="10.4" fill="#b0b0b0" opacity="0.75"/>
<rect x="1609.9" y="1456.0" width="1.6" height="11.1" fill="#b0b0b0" opacity="0.75"/>
<rect x="1615.91" y="1451.15" width="9" height="2.4" fill="#d0d0d0" opacity="0.8"/>
<line x1="1612.91" y1="1470.65" x2="1636.91" y2="1470.65" stroke="#8a8a8a" stroke-width="1.6" stroke-dasharray="1.5,1.2" opacity="0.8"/>
<line x1="1612.91" y1="1467.65" x2="1637.91" y2="1467.65" stroke="#777" stroke-width="1" stroke-dasharray="1,1.5" opacity="0.7"/>
<rect x="1643.9" y="1455.9" width="1.6" height="11.2" fill="#b0b0b0" opacity="0.75"/>
<rect x="1646.4" y="1456.7" width="1.6" height="10.5" fill="#b0b0b0" opacity="0.75"/>
<rect x="1648.9" y="1457.4" width="1.6" height="9.7" fill="#b0b0b0" opacity="0.75"/>
<rect x="1651.9" y="1457.7" width="1.6" height="9.5" fill="#b0b0b0" opacity="0.75"/>
<rect x="1657.88" y="1451.15" width="9" height="2.4" fill="#d0d0d0" opacity="0.8"/>
<line x1="1654.88" y1="1470.65" x2="1678.88" y2="1470.65" stroke="#8a8a8a" stroke-width="1.6" stroke-dasharray="1.5,1.2" opacity="0.8"/>
<line x1="1654.88" y1="1467.65" x2="1679.88" y2="1467.65" stroke="#777" stroke-width="1" stroke-dasharray="1,1.5" opacity="0.7"/>
<rect x="1685.8" y="1456.3" width="1.6" height="10.8" fill="#b0b0b0" opacity="0.75"/>
<rect x="1688.3" y="1457.5" width="1.6" height="9.7" fill="#b0b0b0" opacity="0.75"/>
<rect x="1690.8" y="1456.4" width="1.6" height="10.8" fill="#b0b0b0" opacity="0.75"/>
<rect x="1693.8" y="1457.3" width="1.6" height="9.8" fill="#b0b0b0" opacity="0.75"/>
<rect x="1699.85" y="1451.15" width="9" height="2.4" fill="#d0d0d0" opacity="0.8"/>
<line x1="1696.85" y1="1470.65" x2="1720.85" y2="1470.65" stroke="#8a8a8a" stroke-width="1.6" stroke-dasharray="1.5,1.2" opacity="0.8"/>
<line x1="1696.85" y1="1467.65" x2="1721.85" y2="1467.65" stroke="#777" stroke-width="1" stroke-dasharray="1,1.5" opacity="0.7"/>
<line x1="1698.85" y1="1458.15" x2="1720.85" y2="1458.15" stroke="#999" stroke-width="1.2" stroke-dasharray="3,1.5" opacity="0.8"/>
<rect x="1727.8" y="1457.0" width="1.6" height="10.1" fill="#b0b0b0" opacity="0.75"/>
<rect x="1730.3" y="1456.4" width="1.6" height="10.8" fill="#b0b0b0" opacity="0.75"/>
<rect x="1732.8" y="1458.9" width="1.6" height="8.3" fill="#b0b0b0" opacity="0.75"/>
<rect x="1735.8" y="1457.5" width="1.6" height="9.7" fill="#b0b0b0" opacity="0.75"/>
<rect x="1741.82" y="1451.15" width="9" height="2.4" fill="#d0d0d0" opacity="0.8"/>
<line x1="1738.82" y1="1470.65" x2="1762.82" y2="1470.65" stroke="#8a8a8a" stroke-width="1.6" stroke-dasharray="1.5,1.2" opacity="0.8"/>
<line x1="1738.82" y1="1467.65" x2="1763.82" y2="1467.65" stroke="#777" stroke-width="1" stroke-dasharray="1,1.5" opacity="0.7"/>
<rect x="1769.8" y="1455.6" width="1.6" height="11.5" fill="#b0b0b0" opacity="0.75"/>
<rect x="1772.3" y="1455.4" width="1.6" height="11.7" fill="#b0b0b0" opacity="0.75"/>
<rect x="1774.8" y="1457.7" width="1.6" height="9.5" fill="#b0b0b0" opacity="0.75"/>
<rect x="1777.8" y="1455.6" width="1.6" height="11.6" fill="#b0b0b0" opacity="0.75"/>
<rect x="1783.79" y="1451.15" width="9" height="2.4" fill="#d0d0d0" opacity="0.8"/>
<line x1="1780.79" y1="1470.65" x2="1804.79" y2="1470.65" stroke="#8a8a8a" stroke-width="1.6" stroke-dasharray="1.5,1.2" opacity="0.8"/>
<line x1="1780.79" y1="1467.65" x2="1805.79" y2="1467.65" stroke="#777" stroke-width="1" stroke-dasharray="1,1.5" opacity="0.7"/>
<rect x="1811.8" y="1458.1" width="1.6" height="9.0" fill="#b0b0b0" opacity="0.75"/>
<rect x="1814.3" y="1457.3" width="1.6" height="9.9" fill="#b0b0b0" opacity="0.75"/>
<rect x="1816.8" y="1458.7" width="1.6" height="8.5" fill="#b0b0b0" opacity="0.75"/>
<rect x="1819.8" y="1455.9" width="1.6" height="11.3" fill="#b0b0b0" opacity="0.75"/>
<rect x="1825.76" y="1451.15" width="9" height="2.4" fill="#d0d0d0" opacity="0.8"/>
<line x1="1822.76" y1="1470.65" x2="1846.76" y2="1470.65" stroke="#8a8a8a" stroke-width="1.6" stroke-dasharray="1.5,1.2" opacity="0.8"/>
<line x1="1822.76" y1="1467.65" x2="1847.76" y2="1467.65" stroke="#777" stroke-width="1" stroke-dasharray="1,1.5" opacity="0.7"/>
<rect x="1853.7" y="1455.6" width="1.6" height="11.5" fill="#b0b0b0" opacity="0.75"/>
<rect x="1856.2" y="1456.0" width="1.6" height="11.2" fill="#b0b0b0" opacity="0.75"/>
<rect x="1858.7" y="1456.5" width="1.6" height="10.7" fill="#b0b0b0" opacity="0.75"/>
<rect x="1861.7" y="1456.2" width="1.6" height="10.9" fill="#b0b0b0" opacity="0.75"/>
<rect x="1867.73" y="1451.15" width="9" height="2.4" fill="#d0d0d0" opacity="0.8"/>
<line x1="1864.73" y1="1470.65" x2="1888.73" y2="1470.65" stroke="#8a8a8a" stroke-width="1.6" stroke-dasharray="1.5,1.2" opacity="0.8"/>
<line x1="1864.73" y1="1467.65" x2="1889.73" y2="1467.65" stroke="#777" stroke-width="1" stroke-dasharray="1,1.5" opacity="0.7"/>
<rect x="1476.0" y="1485.5" width="1.6" height="8.4" fill="#b0b0b0" opacity="0.75"/>
<rect x="1478.5" y="1483.5" width="1.6" height="10.4" fill="#b0b0b0" opacity="0.75"/>
<rect x="1481.0" y="1485.9" width="1.6" height="8.0" fill="#b0b0b0" opacity="0.75"/>
<rect x="1484.0" y="1485.3" width="1.6" height="8.6" fill="#b0b0b0" opacity="0.75"/>
<rect x="1490.0" y="1477.88" width="9" height="2.4" fill="#d0d0d0" opacity="0.8"/>
<line x1="1487.0" y1="1497.38" x2="1511.0" y2="1497.38" stroke="#8a8a8a" stroke-width="1.6" stroke-dasharray="1.5,1.2" opacity="0.8"/>
<line x1="1487.0" y1="1494.38" x2="1512.0" y2="1494.38" stroke="#777" stroke-width="1" stroke-dasharray="1,1.5" opacity="0.7"/>
<rect x="1518.0" y="1485.7" width="1.6" height="8.2" fill="#b0b0b0" opacity="0.75"/>
<rect x="1520.5" y="1485.5" width="1.6" height="8.4" fill="#b0b0b0" opacity="0.75"/>
<rect x="1523.0" y="1485.5" width="1.6" height="8.4" fill="#b0b0b0" opacity="0.75"/>
<rect x="1526.0" y="1482.4" width="1.6" height="11.5" fill="#b0b0b0" opacity="0.75"/>
<rect x="1531.97" y="1477.88" width="9" height="2.4" fill="#d0d0d0" opacity="0.8"/>
<line x1="1528.97" y1="1497.38" x2="1552.97" y2="1497.38" stroke="#8a8a8a" stroke-width="1.6" stroke-dasharray="1.5,1.2" opacity="0.8"/>
<line x1="1528.97" y1="1494.38" x2="1553.97" y2="1494.38" stroke="#777" stroke-width="1" stroke-dasharray="1,1.5" opacity="0.7"/>
<line x1="1530.97" y1="1484.88" x2="1552.97" y2="1484.88" stroke="#999" stroke-width="1.2" stroke-dasharray="3,1.5" opacity="0.8"/>
<rect x="1559.9" y="1485.8" width="1.6" height="8.1" fill="#b0b0b0" opacity="0.75"/>
<rect x="1562.4" y="1482.5" width="1.6" height="11.4" fill="#b0b0b0" opacity="0.75"/>
<rect x="1564.9" y="1485.4" width="1.6" height="8.5" fill="#b0b0b0" opacity="0.75"/>
<rect x="1567.9" y="1482.5" width="1.6" height="11.4" fill="#b0b0b0" opacity="0.75"/>
<rect x="1573.94" y="1477.88" width="9" height="2.4" fill="#d0d0d0" opacity="0.8"/>
<line x1="1570.94" y1="1497.38" x2="1594.94" y2="1497.38" stroke="#8a8a8a" stroke-width="1.6" stroke-dasharray="1.5,1.2" opacity="0.8"/>
<line x1="1570.94" y1="1494.38" x2="1595.94" y2="1494.38" stroke="#777" stroke-width="1" stroke-dasharray="1,1.5" opacity="0.7"/>
<rect x="1601.9" y="1482.5" width="1.6" height="11.3" fill="#b0b0b0" opacity="0.75"/>
<rect x="1604.4" y="1482.1" width="1.6" height="11.8" fill="#b0b0b0" opacity="0.75"/>
<rect x="1606.9" y="1483.6" width="1.6" height="10.3" fill="#b0b0b0" opacity="0.75"/>
<rect x="1609.9" y="1482.7" width="1.6" height="11.2" fill="#b0b0b0" opacity="0.75"/>
<rect x="1615.91" y="1477.88" width="9" height="2.4" fill="#d0d0d0" opacity="0.8"/>
<line x1="1612.91" y1="1497.38" x2="1636.91" y2="1497.38" stroke="#8a8a8a" stroke-width="1.6" stroke-dasharray="1.5,1.2" opacity="0.8"/>
<line x1="1612.91" y1="1494.38" x2="1637.91" y2="1494.38" stroke="#777" stroke-width="1" stroke-dasharray="1,1.5" opacity="0.7"/>
<line x1="1614.91" y1="1484.88" x2="1636.91" y2="1484.88" stroke="#999" stroke-width="1.2" stroke-dasharray="3,1.5" opacity="0.8"/>
<rect x="1643.9" y="1482.8" width="1.6" height="11.1" fill="#b0b0b0" opacity="0.75"/>
<rect x="1646.4" y="1483.8" width="1.6" height="10.0" fill="#b0b0b0" opacity="0.75"/>
<rect x="1648.9" y="1483.0" width="1.6" height="10.9" fill="#b0b0b0" opacity="0.75"/>
<rect x="1651.9" y="1485.5" width="1.6" height="8.4" fill="#b0b0b0" opacity="0.75"/>
<rect x="1657.88" y="1477.88" width="9" height="2.4" fill="#d0d0d0" opacity="0.8"/>
<line x1="1654.88" y1="1497.38" x2="1678.88" y2="1497.38" stroke="#8a8a8a" stroke-width="1.6" stroke-dasharray="1.5,1.2" opacity="0.8"/>
<line x1="1654.88" y1="1494.38" x2="1679.88" y2="1494.38" stroke="#777" stroke-width="1" stroke-dasharray="1,1.5" opacity="0.7"/>
<rect x="1685.8" y="1482.1" width="1.6" height="11.7" fill="#b0b0b0" opacity="0.75"/>
<rect x="1688.3" y="1485.6" width="1.6" height="8.2" fill="#b0b0b0" opacity="0.75"/>
<rect x="1690.8" y="1484.6" width="1.6" height="9.3" fill="#b0b0b0" opacity="0.75"/>
<rect x="1693.8" y="1483.6" width="1.6" height="10.3" fill="#b0b0b0" opacity="0.75"/>
<rect x="1699.85" y="1477.88" width="9" height="2.4" fill="#d0d0d0" opacity="0.8"/>
<line x1="1696.85" y1="1497.38" x2="1720.85" y2="1497.38" stroke="#8a8a8a" stroke-width="1.6" stroke-dasharray="1.5,1.2" opacity="0.8"/>
<line x1="1696.85" y1="1494.38" x2="1721.85" y2="1494.38" stroke="#777" stroke-width="1" stroke-dasharray="1,1.5" opacity="0.7"/>
<rect x="1727.8" y="1484.9" width="1.6" height="9.0" fill="#b0b0b0" opacity="0.75"/>
<rect x="1730.3" y="1485.2" width="1.6" height="8.7" fill="#b0b0b0" opacity="0.75"/>
<rect x="1732.8" y="1484.9" width="1.6" height="9.0" fill="#b0b0b0" opacity="0.75"/>
<rect x="1735.8" y="1483.4" width="1.6" height="10.5" fill="#b0b0b0" opacity="0.75"/>
<rect x="1741.82" y="1477.88" width="9" height="2.4" fill="#d0d0d0" opacity="0.8"/>
<line x1="1738.82" y1="1497.38" x2="1762.82" y2="1497.38" stroke="#8a8a8a" stroke-width="1.6" stroke-dasharray="1.5,1.2" opacity="0.8"/>
<line x1="1738.82" y1="1494.38" x2="1763.82" y2="1494.38" stroke="#777" stroke-width="1" stroke-dasharray="1,1.5" opacity="0.7"/>
<rect x="1769.8" y="1484.3" width="1.6" height="9.6" fill="#b0b0b0" opacity="0.75"/>
<rect x="1772.3" y="1484.4" width="1.6" height="9.5" fill="#b0b0b0" opacity="0.75"/>
<rect x="1774.8" y="1484.3" width="1.6" height="9.6" fill="#b0b0b0" opacity="0.75"/>
<rect x="1777.8" y="1484.5" width="1.6" height="9.4" fill="#b0b0b0" opacity="0.75"/>
<rect x="1783.79" y="1477.88" width="9" height="2.4" fill="#d0d0d0" opacity="0.8"/>
<line x1="1780.79" y1="1497.38" x2="1804.79" y2="1497.38" stroke="#8a8a8a" stroke-width="1.6" stroke-dasharray="1.5,1.2" opacity="0.8"/>
<line x1="1780.79" y1="1494.38" x2="1805.79" y2="1494.38" stroke="#777" stroke-width="1" stroke-dasharray="1,1.5" opacity="0.7"/>
<rect x="1811.8" y="1485.5" width="1.6" height="8.3" fill="#b0b0b0" opacity="0.75"/>
<rect x="1814.3" y="1483.9" width="1.6" height="10.0" fill="#b0b0b0" opacity="0.75"/>
<rect x="1816.8" y="1482.0" width="1.6" height="11.9" fill="#b0b0b0" opacity="0.75"/>
<rect x="1819.8" y="1484.2" width="1.6" height="9.7" fill="#b0b0b0" opacity="0.75"/>
<rect x="1825.76" y="1477.88" width="9" height="2.4" fill="#d0d0d0" opacity="0.8"/>
<line x1="1822.76" y1="1497.38" x2="1846.76" y2="1497.38" stroke="#8a8a8a" stroke-width="1.6" stroke-dasharray="1.5,1.2" opacity="0.8"/>
<line x1="1822.76" y1="1494.38" x2="1847.76" y2="1494.38" stroke="#777" stroke-width="1" stroke-dasharray="1,1.5" opacity="0.7"/>
<rect x="1853.7" y="1485.2" width="1.6" height="8.6" fill="#b0b0b0" opacity="0.75"/>
<rect x="1856.2" y="1483.1" width="1.6" height="10.8" fill="#b0b0b0" opacity="0.75"/>
<rect x="1858.7" y="1482.9" width="1.6" height="11.0" fill="#b0b0b0" opacity="0.75"/>
<rect x="1861.7" y="1483.2" width="1.6" height="10.7" fill="#b0b0b0" opacity="0.75"/>
<rect x="1867.73" y="1477.88" width="9" height="2.4" fill="#d0d0d0" opacity="0.8"/>
<line x1="1864.73" y1="1497.38" x2="1888.73" y2="1497.38" stroke="#8a8a8a" stroke-width="1.6" stroke-dasharray="1.5,1.2" opacity="0.8"/>
<line x1="1864.73" y1="1494.38" x2="1889.73" y2="1494.38" stroke="#777" stroke-width="1" stroke-dasharray="1,1.5" opacity="0.7"/>
<rect x="1476.0" y="1510.7" width="1.6" height="9.9" fill="#b0b0b0" opacity="0.75"/>
<rect x="1478.5" y="1510.0" width="1.6" height="10.6" fill="#b0b0b0" opacity="0.75"/>
<rect x="1481.0" y="1509.0" width="1.6" height="11.6" fill="#b0b0b0" opacity="0.75"/>
<rect x="1484.0" y="1512.0" width="1.6" height="8.6" fill="#b0b0b0" opacity="0.75"/>
<rect x="1490.0" y="1504.6100000000001" width="9" height="2.4" fill="#d0d0d0" opacity="0.8"/>
<line x1="1487.0" y1="1524.1100000000001" x2="1511.0" y2="1524.1100000000001" stroke="#8a8a8a" stroke-width="1.6" stroke-dasharray="1.5,1.2" opacity="0.8"/>
<line x1="1487.0" y1="1521.1100000000001" x2="1512.0" y2="1521.1100000000001" stroke="#a8a8a8" stroke-width="1.4"/>
<line x1="1489.0" y1="1511.6100000000001" x2="1511.0" y2="1511.6100000000001" stroke="#999" stroke-width="1.2" stroke-dasharray="3,1.5" opacity="0.8"/>
<rect x="1518.0" y="1509.6" width="1.6" height="11.0" fill="#b0b0b0" opacity="0.75"/>
<rect x="1520.5" y="1508.9" width="1.6" height="11.7" fill="#b0b0b0" opacity="0.75"/>
<rect x="1523.0" y="1510.5" width="1.6" height="10.1" fill="#b0b0b0" opacity="0.75"/>
<rect x="1526.0" y="1510.8" width="1.6" height="9.8" fill="#b0b0b0" opacity="0.75"/>
<rect x="1531.97" y="1504.6100000000001" width="9" height="2.4" fill="#d0d0d0" opacity="0.8"/>
<line x1="1528.97" y1="1524.1100000000001" x2="1552.97" y2="1524.1100000000001" stroke="#8a8a8a" stroke-width="1.6" stroke-dasharray="1.5,1.2" opacity="0.8"/>
<line x1="1528.97" y1="1521.1100000000001" x2="1553.97" y2="1521.1100000000001" stroke="#a8a8a8" stroke-width="1.4"/>
<rect x="1559.9" y="1511.9" width="1.6" height="8.7" fill="#b0b0b0" opacity="0.75"/>
<rect x="1562.4" y="1511.5" width="1.6" height="9.1" fill="#b0b0b0" opacity="0.75"/>
<rect x="1564.9" y="1511.8" width="1.6" height="8.8" fill="#b0b0b0" opacity="0.75"/>
<rect x="1567.9" y="1510.3" width="1.6" height="10.3" fill="#b0b0b0" opacity="0.75"/>
<rect x="1573.94" y="1504.6100000000001" width="9" height="2.4" fill="#d0d0d0" opacity="0.8"/>
<line x1="1570.94" y1="1524.1100000000001" x2="1594.94" y2="1524.1100000000001" stroke="#8a8a8a" stroke-width="1.6" stroke-dasharray="1.5,1.2" opacity="0.8"/>
<line x1="1570.94" y1="1521.1100000000001" x2="1595.94" y2="1521.1100000000001" stroke="#a8a8a8" stroke-width="1.4"/>
<line x1="1572.94" y1="1511.6100000000001" x2="1594.94" y2="1511.6100000000001" stroke="#999" stroke-width="1.2" stroke-dasharray="3,1.5" opacity="0.8"/>
<rect x="1601.9" y="1511.7" width="1.6" height="8.9" fill="#b0b0b0" opacity="0.75"/>
<rect x="1604.4" y="1509.8" width="1.6" height="10.8" fill="#b0b0b0" opacity="0.75"/>
<rect x="1606.9" y="1508.8" width="1.6" height="11.8" fill="#b0b0b0" opacity="0.75"/>
<rect x="1609.9" y="1511.4" width="1.6" height="9.2" fill="#b0b0b0" opacity="0.75"/>
<rect x="1615.91" y="1504.6100000000001" width="9" height="2.4" fill="#d0d0d0" opacity="0.8"/>
<line x1="1612.91" y1="1524.1100000000001" x2="1636.91" y2="1524.1100000000001" stroke="#8a8a8a" stroke-width="1.6" stroke-dasharray="1.5,1.2" opacity="0.8"/>
<line x1="1612.91" y1="1521.1100000000001" x2="1637.91" y2="1521.1100000000001" stroke="#a8a8a8" stroke-width="1.4"/>
<rect x="1643.9" y="1511.0" width="1.6" height="9.7" fill="#b0b0b0" opacity="0.75"/>
<rect x="1646.4" y="1509.2" width="1.6" height="11.4" fill="#b0b0b0" opacity="0.75"/>
<rect x="1648.9" y="1510.3" width="1.6" height="10.3" fill="#b0b0b0" opacity="0.75"/>
<rect x="1651.9" y="1511.5" width="1.6" height="9.1" fill="#b0b0b0" opacity="0.75"/>
<rect x="1657.88" y="1504.6100000000001" width="9" height="2.4" fill="#d0d0d0" opacity="0.8"/>
<line x1="1654.88" y1="1524.1100000000001" x2="1678.88" y2="1524.1100000000001" stroke="#8a8a8a" stroke-width="1.6" stroke-dasharray="1.5,1.2" opacity="0.8"/>
<line x1="1654.88" y1="1521.1100000000001" x2="1679.88" y2="1521.1100000000001" stroke="#a8a8a8" stroke-width="1.4"/>
<line x1="1656.88" y1="1511.6100000000001" x2="1678.88" y2="1511.6100000000001" stroke="#999" stroke-width="1.2" stroke-dasharray="3,1.5" opacity="0.8"/>
<rect x="1685.8" y="1512.5" width="1.6" height="8.1" fill="#b0b0b0" opacity="0.75"/>
<rect x="1688.3" y="1510.7" width="1.6" height="9.9" fill="#b0b0b0" opacity="0.75"/>
<rect x="1690.8" y="1511.1" width="1.6" height="9.5" fill="#b0b0b0" opacity="0.75"/>
<rect x="1693.8" y="1511.9" width="1.6" height="8.7" fill="#b0b0b0" opacity="0.75"/>
<rect x="1699.85" y="1504.6100000000001" width="9" height="2.4" fill="#d0d0d0" opacity="0.8"/>
<line x1="1696.85" y1="1524.1100000000001" x2="1720.85" y2="1524.1100000000001" stroke="#8a8a8a" stroke-width="1.6" stroke-dasharray="1.5,1.2" opacity="0.8"/>
<line x1="1696.85" y1="1521.1100000000001" x2="1721.85" y2="1521.1100000000001" stroke="#a8a8a8" stroke-width="1.4"/>
<rect x="1727.8" y="1511.3" width="1.6" height="9.3" fill="#b0b0b0" opacity="0.75"/>
<rect x="1730.3" y="1509.5" width="1.6" height="11.1" fill="#b0b0b0" opacity="0.75"/>
<rect x="1732.8" y="1512.0" width="1.6" height="8.6" fill="#b0b0b0" opacity="0.75"/>
<rect x="1735.8" y="1508.6" width="1.6" height="12.0" fill="#b0b0b0" opacity="0.75"/>
<rect x="1741.82" y="1504.6100000000001" width="9" height="2.4" fill="#d0d0d0" opacity="0.8"/>
<line x1="1738.82" y1="1524.1100000000001" x2="1762.82" y2="1524.1100000000001" stroke="#8a8a8a" stroke-width="1.6" stroke-dasharray="1.5,1.2" opacity="0.8"/>
<line x1="1738.82" y1="1521.1100000000001" x2="1763.82" y2="1521.1100000000001" stroke="#a8a8a8" stroke-width="1.4"/>
<rect x="1769.8" y="1510.2" width="1.6" height="10.4" fill="#b0b0b0" opacity="0.75"/>
<rect x="1772.3" y="1510.7" width="1.6" height="9.9" fill="#b0b0b0" opacity="0.75"/>
<rect x="1774.8" y="1509.3" width="1.6" height="11.3" fill="#b0b0b0" opacity="0.75"/>
<rect x="1777.8" y="1509.3" width="1.6" height="11.3" fill="#b0b0b0" opacity="0.75"/>
<rect x="1783.79" y="1504.6100000000001" width="9" height="2.4" fill="#d0d0d0" opacity="0.8"/>
<line x1="1780.79" y1="1524.1100000000001" x2="1804.79" y2="1524.1100000000001" stroke="#8a8a8a" stroke-width="1.6" stroke-dasharray="1.5,1.2" opacity="0.8"/>
<line x1="1780.79" y1="1521.1100000000001" x2="1805.79" y2="1521.1100000000001" stroke="#a8a8a8" stroke-width="1.4"/>
<rect x="1811.8" y="1510.7" width="1.6" height="9.9" fill="#b0b0b0" opacity="0.75"/>
<rect x="1814.3" y="1509.7" width="1.6" height="10.9" fill="#b0b0b0" opacity="0.75"/>
<rect x="1816.8" y="1509.2" width="1.6" height="11.4" fill="#b0b0b0" opacity="0.75"/>
<rect x="1819.8" y="1511.0" width="1.6" height="9.6" fill="#b0b0b0" opacity="0.75"/>
<rect x="1825.76" y="1504.6100000000001" width="9" height="2.4" fill="#d0d0d0" opacity="0.8"/>
<line x1="1822.76" y1="1524.1100000000001" x2="1846.76" y2="1524.1100000000001" stroke="#8a8a8a" stroke-width="1.6" stroke-dasharray="1.5,1.2" opacity="0.8"/>
<line x1="1822.76" y1="1521.1100000000001" x2="1847.76" y2="1521.1100000000001" stroke="#a8a8a8" stroke-width="1.4"/>
<rect x="1853.7" y="1508.8" width="1.6" height="11.8" fill="#b0b0b0" opacity="0.75"/>
<rect x="1856.2" y="1510.7" width="1.6" height="9.9" fill="#b0b0b0" opacity="0.75"/>
<rect x="1858.7" y="1511.7" width="1.6" height="8.9" fill="#b0b0b0" opacity="0.75"/>
<rect x="1861.7" y="1511.7" width="1.6" height="8.9" fill="#b0b0b0" opacity="0.75"/>
<rect x="1867.73" y="1504.6100000000001" width="9" height="2.4" fill="#d0d0d0" opacity="0.8"/>
<line x1="1864.73" y1="1524.1100000000001" x2="1888.73" y2="1524.1100000000001" stroke="#8a8a8a" stroke-width="1.6" stroke-dasharray="1.5,1.2" opacity="0.8"/>
<line x1="1864.73" y1="1521.1100000000001" x2="1889.73" y2="1521.1100000000001" stroke="#a8a8a8" stroke-width="1.4"/>
<rect x="1476.0" y="1536.6" width="1.6" height="10.7" fill="#b0b0b0" opacity="0.75"/>
<rect x="1478.5" y="1535.5" width="1.6" height="11.8" fill="#b0b0b0" opacity="0.75"/>
<rect x="1481.0" y="1535.9" width="1.6" height="11.4" fill="#b0b0b0" opacity="0.75"/>
<rect x="1484.0" y="1538.4" width="1.6" height="9.0" fill="#b0b0b0" opacity="0.75"/>
<rect x="1490.0" y="1531.34" width="9" height="2.4" fill="#d0d0d0" opacity="0.8"/>
<line x1="1487.0" y1="1550.84" x2="1511.0" y2="1550.84" stroke="#8a8a8a" stroke-width="1.6" stroke-dasharray="1.5,1.2" opacity="0.8"/>
<line x1="1487.0" y1="1547.84" x2="1512.0" y2="1547.84" stroke="#777" stroke-width="1" stroke-dasharray="1,1.5" opacity="0.7"/>
<line x1="1489.0" y1="1538.34" x2="1511.0" y2="1538.34" stroke="#999" stroke-width="1.2" stroke-dasharray="3,1.5" opacity="0.8"/>
<rect x="1518.0" y="1538.3" width="1.6" height="9.0" fill="#b0b0b0" opacity="0.75"/>
<rect x="1520.5" y="1538.6" width="1.6" height="8.7" fill="#b0b0b0" opacity="0.75"/>
<rect x="1523.0" y="1536.5" width="1.6" height="10.8" fill="#b0b0b0" opacity="0.75"/>
<rect x="1526.0" y="1535.9" width="1.6" height="11.4" fill="#b0b0b0" opacity="0.75"/>
<rect x="1531.97" y="1531.34" width="9" height="2.4" fill="#d0d0d0" opacity="0.8"/>
<line x1="1528.97" y1="1550.84" x2="1552.97" y2="1550.84" stroke="#8a8a8a" stroke-width="1.6" stroke-dasharray="1.5,1.2" opacity="0.8"/>
<line x1="1528.97" y1="1547.84" x2="1553.97" y2="1547.84" stroke="#777" stroke-width="1" stroke-dasharray="1,1.5" opacity="0.7"/>
<rect x="1559.9" y="1538.3" width="1.6" height="9.0" fill="#b0b0b0" opacity="0.75"/>
<rect x="1562.4" y="1535.9" width="1.6" height="11.5" fill="#b0b0b0" opacity="0.75"/>
<rect x="1564.9" y="1538.1" width="1.6" height="9.3" fill="#b0b0b0" opacity="0.75"/>
<rect x="1567.9" y="1537.6" width="1.6" height="9.7" fill="#b0b0b0" opacity="0.75"/>
<rect x="1573.94" y="1531.34" width="9" height="2.4" fill="#d0d0d0" opacity="0.8"/>
<line x1="1570.94" y1="1550.84" x2="1594.94" y2="1550.84" stroke="#8a8a8a" stroke-width="1.6" stroke-dasharray="1.5,1.2" opacity="0.8"/>
<line x1="1570.94" y1="1547.84" x2="1595.94" y2="1547.84" stroke="#777" stroke-width="1" stroke-dasharray="1,1.5" opacity="0.7"/>
<rect x="1601.9" y="1539.0" width="1.6" height="8.3" fill="#b0b0b0" opacity="0.75"/>
<rect x="1604.4" y="1539.0" width="1.6" height="8.4" fill="#b0b0b0" opacity="0.75"/>
<rect x="1606.9" y="1536.0" width="1.6" height="11.3" fill="#b0b0b0" opacity="0.75"/>
<rect x="1609.9" y="1538.2" width="1.6" height="9.2" fill="#b0b0b0" opacity="0.75"/>
<rect x="1615.91" y="1531.34" width="9" height="2.4" fill="#d0d0d0" opacity="0.8"/>
<line x1="1612.91" y1="1550.84" x2="1636.91" y2="1550.84" stroke="#8a8a8a" stroke-width="1.6" stroke-dasharray="1.5,1.2" opacity="0.8"/>
<line x1="1612.91" y1="1547.84" x2="1637.91" y2="1547.84" stroke="#777" stroke-width="1" stroke-dasharray="1,1.5" opacity="0.7"/>
<rect x="1643.9" y="1537.0" width="1.6" height="10.3" fill="#b0b0b0" opacity="0.75"/>
<rect x="1646.4" y="1536.6" width="1.6" height="10.7" fill="#b0b0b0" opacity="0.75"/>
<rect x="1648.9" y="1539.3" width="1.6" height="8.0" fill="#b0b0b0" opacity="0.75"/>
<rect x="1651.9" y="1538.0" width="1.6" height="9.3" fill="#b0b0b0" opacity="0.75"/>
<rect x="1657.88" y="1531.34" width="9" height="2.4" fill="#d0d0d0" opacity="0.8"/>
<line x1="1654.88" y1="1550.84" x2="1678.88" y2="1550.84" stroke="#8a8a8a" stroke-width="1.6" stroke-dasharray="1.5,1.2" opacity="0.8"/>
<line x1="1654.88" y1="1547.84" x2="1679.88" y2="1547.84" stroke="#777" stroke-width="1" stroke-dasharray="1,1.5" opacity="0.7"/>
<rect x="1685.8" y="1537.4" width="1.6" height="9.9" fill="#b0b0b0" opacity="0.75"/>
<rect x="1688.3" y="1538.5" width="1.6" height="8.8" fill="#b0b0b0" opacity="0.75"/>
<rect x="1690.8" y="1537.0" width="1.6" height="10.3" fill="#b0b0b0" opacity="0.75"/>
<rect x="1693.8" y="1535.5" width="1.6" height="11.8" fill="#b0b0b0" opacity="0.75"/>
<rect x="1699.85" y="1531.34" width="9" height="2.4" fill="#d0d0d0" opacity="0.8"/>
<line x1="1696.85" y1="1550.84" x2="1720.85" y2="1550.84" stroke="#8a8a8a" stroke-width="1.6" stroke-dasharray="1.5,1.2" opacity="0.8"/>
<line x1="1696.85" y1="1547.84" x2="1721.85" y2="1547.84" stroke="#777" stroke-width="1" stroke-dasharray="1,1.5" opacity="0.7"/>
<rect x="1727.8" y="1537.2" width="1.6" height="10.2" fill="#b0b0b0" opacity="0.75"/>
<rect x="1730.3" y="1538.9" width="1.6" height="8.5" fill="#b0b0b0" opacity="0.75"/>
<rect x="1732.8" y="1538.2" width="1.6" height="9.1" fill="#b0b0b0" opacity="0.75"/>
<rect x="1735.8" y="1536.7" width="1.6" height="10.7" fill="#b0b0b0" opacity="0.75"/>
<rect x="1741.82" y="1531.34" width="9" height="2.4" fill="#d0d0d0" opacity="0.8"/>
<line x1="1738.82" y1="1550.84" x2="1762.82" y2="1550.84" stroke="#8a8a8a" stroke-width="1.6" stroke-dasharray="1.5,1.2" opacity="0.8"/>
<line x1="1738.82" y1="1547.84" x2="1763.82" y2="1547.84" stroke="#777" stroke-width="1" stroke-dasharray="1,1.5" opacity="0.7"/>
<line x1="1740.82" y1="1538.34" x2="1762.82" y2="1538.34" stroke="#999" stroke-width="1.2" stroke-dasharray="3,1.5" opacity="0.8"/>
<rect x="1769.8" y="1535.8" width="1.6" height="11.5" fill="#b0b0b0" opacity="0.75"/>
<rect x="1772.3" y="1535.7" width="1.6" height="11.6" fill="#b0b0b0" opacity="0.75"/>
<rect x="1774.8" y="1539.0" width="1.6" height="8.4" fill="#b0b0b0" opacity="0.75"/>
<rect x="1777.8" y="1535.6" width="1.6" height="11.8" fill="#b0b0b0" opacity="0.75"/>
<rect x="1783.79" y="1531.34" width="9" height="2.4" fill="#d0d0d0" opacity="0.8"/>
<line x1="1780.79" y1="1550.84" x2="1804.79" y2="1550.84" stroke="#8a8a8a" stroke-width="1.6" stroke-dasharray="1.5,1.2" opacity="0.8"/>
<line x1="1780.79" y1="1547.84" x2="1805.79" y2="1547.84" stroke="#777" stroke-width="1" stroke-dasharray="1,1.5" opacity="0.7"/>
<rect x="1811.8" y="1536.3" width="1.6" height="11.1" fill="#b0b0b0" opacity="0.75"/>
<rect x="1814.3" y="1536.3" width="1.6" height="11.0" fill="#b0b0b0" opacity="0.75"/>
<rect x="1816.8" y="1538.2" width="1.6" height="9.2" fill="#b0b0b0" opacity="0.75"/>
<rect x="1819.8" y="1536.6" width="1.6" height="10.7" fill="#b0b0b0" opacity="0.75"/>
<rect x="1825.76" y="1531.34" width="9" height="2.4" fill="#d0d0d0" opacity="0.8"/>
<line x1="1822.76" y1="1550.84" x2="1846.76" y2="1550.84" stroke="#8a8a8a" stroke-width="1.6" stroke-dasharray="1.5,1.2" opacity="0.8"/>
<line x1="1822.76" y1="1547.84" x2="1847.76" y2="1547.84" stroke="#777" stroke-width="1" stroke-dasharray="1,1.5" opacity="0.7"/>
<rect x="1853.7" y="1536.1" width="1.6" height="11.2" fill="#b0b0b0" opacity="0.75"/>
<rect x="1856.2" y="1538.3" width="1.6" height="9.1" fill="#b0b0b0" opacity="0.75"/>
<rect x="1858.7" y="1536.3" width="1.6" height="11.0" fill="#b0b0b0" opacity="0.75"/>
<rect x="1861.7" y="1535.5" width="1.6" height="11.8" fill="#b0b0b0" opacity="0.75"/>
<rect x="1867.73" y="1531.34" width="9" height="2.4" fill="#d0d0d0" opacity="0.8"/>
<line x1="1864.73" y1="1550.84" x2="1888.73" y2="1550.84" stroke="#8a8a8a" stroke-width="1.6" stroke-dasharray="1.5,1.2" opacity="0.8"/>
<line x1="1864.73" y1="1547.84" x2="1889.73" y2="1547.84" stroke="#777" stroke-width="1" stroke-dasharray="1,1.5" opacity="0.7"/>
<rect x="1476.0" y="1563.9" width="1.6" height="10.1" fill="#b0b0b0" opacity="0.75"/>
<rect x="1478.5" y="1565.6" width="1.6" height="8.5" fill="#b0b0b0" opacity="0.75"/>
<rect x="1481.0" y="1564.1" width="1.6" height="10.0" fill="#b0b0b0" opacity="0.75"/>
<rect x="1484.0" y="1564.7" width="1.6" height="9.4" fill="#b0b0b0" opacity="0.75"/>
<rect x="1490.0" y="1558.07" width="9" height="2.4" fill="#d0d0d0" opacity="0.8"/>
<line x1="1487.0" y1="1577.57" x2="1511.0" y2="1577.57" stroke="#8a8a8a" stroke-width="1.6" stroke-dasharray="1.5,1.2" opacity="0.8"/>
<line x1="1487.0" y1="1574.57" x2="1512.0" y2="1574.57" stroke="#777" stroke-width="1" stroke-dasharray="1,1.5" opacity="0.7"/>
<rect x="1518.0" y="1563.4" width="1.6" height="10.7" fill="#b0b0b0" opacity="0.75"/>
<rect x="1520.5" y="1563.8" width="1.6" height="10.3" fill="#b0b0b0" opacity="0.75"/>
<rect x="1523.0" y="1565.3" width="1.6" height="8.7" fill="#b0b0b0" opacity="0.75"/>
<rect x="1526.0" y="1563.5" width="1.6" height="10.6" fill="#b0b0b0" opacity="0.75"/>
<rect x="1531.97" y="1558.07" width="9" height="2.4" fill="#d0d0d0" opacity="0.8"/>
<line x1="1528.97" y1="1577.57" x2="1552.97" y2="1577.57" stroke="#8a8a8a" stroke-width="1.6" stroke-dasharray="1.5,1.2" opacity="0.8"/>
<line x1="1528.97" y1="1574.57" x2="1553.97" y2="1574.57" stroke="#777" stroke-width="1" stroke-dasharray="1,1.5" opacity="0.7"/>
<rect x="1559.9" y="1565.4" width="1.6" height="8.7" fill="#b0b0b0" opacity="0.75"/>
<rect x="1562.4" y="1562.5" width="1.6" height="11.6" fill="#b0b0b0" opacity="0.75"/>
<rect x="1564.9" y="1563.4" width="1.6" height="10.6" fill="#b0b0b0" opacity="0.75"/>
<rect x="1567.9" y="1565.6" width="1.6" height="8.5" fill="#b0b0b0" opacity="0.75"/>
<rect x="1573.94" y="1558.07" width="9" height="2.4" fill="#d0d0d0" opacity="0.8"/>
<line x1="1570.94" y1="1577.57" x2="1594.94" y2="1577.57" stroke="#8a8a8a" stroke-width="1.6" stroke-dasharray="1.5,1.2" opacity="0.8"/>
<line x1="1570.94" y1="1574.57" x2="1595.94" y2="1574.57" stroke="#777" stroke-width="1" stroke-dasharray="1,1.5" opacity="0.7"/>
<rect x="1601.9" y="1565.5" width="1.6" height="8.6" fill="#b0b0b0" opacity="0.75"/>
<rect x="1604.4" y="1564.7" width="1.6" height="9.3" fill="#b0b0b0" opacity="0.75"/>
<rect x="1606.9" y="1563.2" width="1.6" height="10.9" fill="#b0b0b0" opacity="0.75"/>
<rect x="1609.9" y="1563.7" width="1.6" height="10.4" fill="#b0b0b0" opacity="0.75"/>
<rect x="1615.91" y="1558.07" width="9" height="2.4" fill="#d0d0d0" opacity="0.8"/>
<line x1="1612.91" y1="1577.57" x2="1636.91" y2="1577.57" stroke="#8a8a8a" stroke-width="1.6" stroke-dasharray="1.5,1.2" opacity="0.8"/>
<line x1="1612.91" y1="1574.57" x2="1637.91" y2="1574.57" stroke="#777" stroke-width="1" stroke-dasharray="1,1.5" opacity="0.7"/>
<rect x="1643.9" y="1563.5" width="1.6" height="10.6" fill="#b0b0b0" opacity="0.75"/>
<rect x="1646.4" y="1564.2" width="1.6" height="9.8" fill="#b0b0b0" opacity="0.75"/>
<rect x="1648.9" y="1564.8" width="1.6" height="9.2" fill="#b0b0b0" opacity="0.75"/>
<rect x="1651.9" y="1565.4" width="1.6" height="8.7" fill="#b0b0b0" opacity="0.75"/>
<rect x="1657.88" y="1558.07" width="9" height="2.4" fill="#d0d0d0" opacity="0.8"/>
<line x1="1654.88" y1="1577.57" x2="1678.88" y2="1577.57" stroke="#8a8a8a" stroke-width="1.6" stroke-dasharray="1.5,1.2" opacity="0.8"/>
<line x1="1654.88" y1="1574.57" x2="1679.88" y2="1574.57" stroke="#777" stroke-width="1" stroke-dasharray="1,1.5" opacity="0.7"/>
<line x1="1656.88" y1="1565.07" x2="1678.88" y2="1565.07" stroke="#999" stroke-width="1.2" stroke-dasharray="3,1.5" opacity="0.8"/>
<rect x="1685.8" y="1563.2" width="1.6" height="10.9" fill="#b0b0b0" opacity="0.75"/>
<rect x="1688.3" y="1563.1" width="1.6" height="11.0" fill="#b0b0b0" opacity="0.75"/>
<rect x="1690.8" y="1563.9" width="1.6" height="10.2" fill="#b0b0b0" opacity="0.75"/>
<rect x="1693.8" y="1563.1" width="1.6" height="11.0" fill="#b0b0b0" opacity="0.75"/>
<rect x="1699.85" y="1558.07" width="9" height="2.4" fill="#d0d0d0" opacity="0.8"/>
<line x1="1696.85" y1="1577.57" x2="1720.85" y2="1577.57" stroke="#8a8a8a" stroke-width="1.6" stroke-dasharray="1.5,1.2" opacity="0.8"/>
<line x1="1696.85" y1="1574.57" x2="1721.85" y2="1574.57" stroke="#777" stroke-width="1" stroke-dasharray="1,1.5" opacity="0.7"/>
<rect x="1727.8" y="1565.0" width="1.6" height="9.1" fill="#b0b0b0" opacity="0.75"/>
<rect x="1730.3" y="1564.5" width="1.6" height="9.5" fill="#b0b0b0" opacity="0.75"/>
<rect x="1732.8" y="1562.6" width="1.6" height="11.5" fill="#b0b0b0" opacity="0.75"/>
<rect x="1735.8" y="1565.9" width="1.6" height="8.2" fill="#b0b0b0" opacity="0.75"/>
<rect x="1741.82" y="1558.07" width="9" height="2.4" fill="#d0d0d0" opacity="0.8"/>
<line x1="1738.82" y1="1577.57" x2="1762.82" y2="1577.57" stroke="#8a8a8a" stroke-width="1.6" stroke-dasharray="1.5,1.2" opacity="0.8"/>
<line x1="1738.82" y1="1574.57" x2="1763.82" y2="1574.57" stroke="#777" stroke-width="1" stroke-dasharray="1,1.5" opacity="0.7"/>
<rect x="1769.8" y="1565.1" width="1.6" height="9.0" fill="#b0b0b0" opacity="0.75"/>
<rect x="1772.3" y="1563.0" width="1.6" height="11.1" fill="#b0b0b0" opacity="0.75"/>
<rect x="1774.8" y="1564.7" width="1.6" height="9.4" fill="#b0b0b0" opacity="0.75"/>
<rect x="1777.8" y="1564.7" width="1.6" height="9.3" fill="#b0b0b0" opacity="0.75"/>
<rect x="1783.79" y="1558.07" width="9" height="2.4" fill="#d0d0d0" opacity="0.8"/>
<line x1="1780.79" y1="1577.57" x2="1804.79" y2="1577.57" stroke="#8a8a8a" stroke-width="1.6" stroke-dasharray="1.5,1.2" opacity="0.8"/>
<line x1="1780.79" y1="1574.57" x2="1805.79" y2="1574.57" stroke="#777" stroke-width="1" stroke-dasharray="1,1.5" opacity="0.7"/>
<rect x="1811.8" y="1563.9" width="1.6" height="10.2" fill="#b0b0b0" opacity="0.75"/>
<rect x="1814.3" y="1563.0" width="1.6" height="11.1" fill="#b0b0b0" opacity="0.75"/>
<rect x="1816.8" y="1564.7" width="1.6" height="9.4" fill="#b0b0b0" opacity="0.75"/>
<rect x="1819.8" y="1562.7" width="1.6" height="11.4" fill="#b0b0b0" opacity="0.75"/>
<rect x="1825.76" y="1558.07" width="9" height="2.4" fill="#d0d0d0" opacity="0.8"/>
<line x1="1822.76" y1="1577.57" x2="1846.76" y2="1577.57" stroke="#8a8a8a" stroke-width="1.6" stroke-dasharray="1.5,1.2" opacity="0.8"/>
<line x1="1822.76" y1="1574.57" x2="1847.76" y2="1574.57" stroke="#777" stroke-width="1" stroke-dasharray="1,1.5" opacity="0.7"/>
<line x1="1824.76" y1="1565.07" x2="1846.76" y2="1565.07" stroke="#999" stroke-width="1.2" stroke-dasharray="3,1.5" opacity="0.8"/>
<rect x="1853.7" y="1565.0" width="1.6" height="9.1" fill="#b0b0b0" opacity="0.75"/>
<rect x="1856.2" y="1565.7" width="1.6" height="8.4" fill="#b0b0b0" opacity="0.75"/>
<rect x="1858.7" y="1565.6" width="1.6" height="8.5" fill="#b0b0b0" opacity="0.75"/>
<rect x="1861.7" y="1563.0" width="1.6" height="11.1" fill="#b0b0b0" opacity="0.75"/>
<rect x="1867.73" y="1558.07" width="9" height="2.4" fill="#d0d0d0" opacity="0.8"/>
<line x1="1864.73" y1="1577.57" x2="1888.73" y2="1577.57" stroke="#8a8a8a" stroke-width="1.6" stroke-dasharray="1.5,1.2" opacity="0.8"/>
<line x1="1864.73" y1="1574.57" x2="1889.73" y2="1574.57" stroke="#777" stroke-width="1" stroke-dasharray="1,1.5" opacity="0.7"/>
<rect x="1915.6" y="1327.7" width="24.600000000000136" height="23.299999999999955" fill="#fafafa" stroke="#c8c8c8" stroke-width="0.8"/>
<rect x="1915.6" y="1354" width="24.600000000000136" height="23.40000000000009" fill="#fafafa" stroke="#c8c8c8" stroke-width="0.8"/>
<rect x="1915.6" y="1380.4" width="24.600000000000136" height="23.399999999999864" fill="#fafafa" stroke="#c8c8c8" stroke-width="0.8"/>
<rect x="1942.4" y="1327.7" width="24.59999999999991" height="23.299999999999955" fill="#fafafa" stroke="#c8c8c8" stroke-width="0.8"/>
<rect x="1942.4" y="1354" width="24.59999999999991" height="23.40000000000009" fill="#fafafa" stroke="#c8c8c8" stroke-width="0.8"/>
<rect x="1942.4" y="1380.4" width="24.59999999999991" height="23.399999999999864" fill="#fafafa" stroke="#c8c8c8" stroke-width="0.8"/>
<rect x="1968.8" y="1327.7" width="24.799999999999955" height="23.299999999999955" fill="#fafafa" stroke="#c8c8c8" stroke-width="0.8"/>
<rect x="1968.8" y="1354" width="24.799999999999955" height="23.40000000000009" fill="#fafafa" stroke="#c8c8c8" stroke-width="0.8"/>
<rect x="1968.8" y="1380.4" width="24.799999999999955" height="23.399999999999864" fill="#fafafa" stroke="#c8c8c8" stroke-width="0.8"/>
<rect x="1911.2" y="1409.9" width="86.2" height="15.799999999999955" fill="#fafafa" stroke="#c8c8c8" stroke-width="0.8"/>
<rect x="1911.2" y="1428.8" width="86.2" height="15.400000000000091" fill="#fafafa" stroke="#c8c8c8" stroke-width="0.8"/>
<rect x="1911.2" y="1447.7" width="86.2" height="15.299999999999955" fill="#fafafa" stroke="#c8c8c8" stroke-width="0.8"/>
<rect x="1911.2" y="1466.6" width="86.2" height="15.400000000000091" fill="#fafafa" stroke="#c8c8c8" stroke-width="0.8"/>
<rect x="1911.2" y="1485.5" width="86.2" height="15.400000000000091" fill="#fafafa" stroke="#c8c8c8" stroke-width="0.8"/>
<rect x="1911.2" y="1504.4" width="86.2" height="15.399999999999864" fill="#fafafa" stroke="#c8c8c8" stroke-width="0.8"/>
<rect x="1470.8" y="1586" width="52.700000000000045" height="14.7" fill="#fafafa" stroke="#c8c8c8" stroke-width="0.8"/>
<rect x="1527" y="1586" width="52.799999999999955" height="14.7" fill="#fafafa" stroke="#c8c8c8" stroke-width="0.8"/>
<rect x="1583.3" y="1586" width="52.700000000000045" height="14.7" fill="#fafafa" stroke="#c8c8c8" stroke-width="0.8"/>
<rect x="1728.4" y="1586" width="52.59999999999991" height="14.7" fill="#fafafa" stroke="#c8c8c8" stroke-width="0.8"/>
<rect x="1785" y="1586" width="52.799999999999955" height="14.7" fill="#fafafa" stroke="#c8c8c8" stroke-width="0.8"/>
<rect x="1841.3" y="1586" width="52.700000000000045" height="14.7" fill="#fafafa" stroke="#c8c8c8" stroke-width="0.8"/>
<rect x="2102.4" y="1278" width="211.3" height="210.5" fill="#050303"/>
<g filter="url(#blur1)">
<rect x="2144.7" y="1320.1" width="21.5" height="21.4" fill="#4a4a4a"/>
<rect x="2165.8" y="1320.1" width="21.5" height="21.4" fill="#888"/>
<rect x="2186.9" y="1320.1" width="21.5" height="21.4" fill="#222"/>
<rect x="2250.3" y="1320.1" width="21.5" height="21.4" fill="#4a4a4a"/>
<rect x="2144.7" y="1341.2" width="21.5" height="21.4" fill="#4a4a4a"/>
<rect x="2165.8" y="1341.2" width="21.5" height="21.4" fill="#888"/>
<rect x="2186.9" y="1341.2" width="21.5" height="21.4" fill="#999"/>
<rect x="2229.2" y="1341.2" width="21.5" height="21.4" fill="#1a1a1a"/>
<rect x="2250.3" y="1341.2" width="21.5" height="21.4" fill="#3a3a3a"/>
<rect x="2102.4" y="1362.2" width="21.5" height="21.4" fill="#111"/>
<rect x="2144.7" y="1362.2" width="21.5" height="21.4" fill="#4a4a4a"/>
<rect x="2165.8" y="1362.2" width="21.5" height="21.4" fill="#222"/>
<rect x="2186.9" y="1362.2" width="21.5" height="21.4" fill="#555"/>
<rect x="2208.1" y="1362.2" width="21.5" height="21.4" fill="#555"/>
<rect x="2229.2" y="1362.2" width="21.5" height="21.4" fill="#4a4a4a"/>
<rect x="2250.3" y="1362.2" width="21.5" height="21.4" fill="#2a2a2a"/>
<rect x="2144.7" y="1383.2" width="21.5" height="21.4" fill="#333"/>
<rect x="2165.8" y="1383.2" width="21.5" height="21.4" fill="#111"/>
<rect x="2208.1" y="1383.2" width="21.5" height="21.4" fill="#4a4a4a"/>
<rect x="2229.2" y="1383.2" width="21.5" height="21.4" fill="#888"/>
<rect x="2250.3" y="1383.2" width="21.5" height="21.4" fill="#888"/>
<rect x="2271.4" y="1383.2" width="21.5" height="21.4" fill="#111"/>
<rect x="2292.6" y="1383.2" width="21.5" height="21.4" fill="#222"/>
<rect x="2102.4" y="1404.3" width="21.5" height="21.4" fill="#333"/>
<rect x="2144.7" y="1404.3" width="21.5" height="21.4" fill="#333"/>
<rect x="2165.8" y="1404.3" width="21.5" height="21.4" fill="#222"/>
<rect x="2229.2" y="1404.3" width="21.5" height="21.4" fill="#444"/>
<rect x="2250.3" y="1404.3" width="21.5" height="21.4" fill="#444"/>
</g>
<defs><filter id="blur1"><feGaussianBlur stdDeviation="0.8"/></filter><filter id="blurN"><feGaussianBlur stdDeviation="2.5"/></filter></defs>
<rect x="2102.4" y="1488.5" width="211.3" height="66.1" fill="url(#bandg)"/>
<text x="2151.5" y="1525.3" font-size="33.5" fill="#111" textLength="112" lengthAdjust="spacingAndGlyphs">Sensor</text>
<rect x="2102.4" y="1554.6" width="211.3" height="210.4" fill="#050303"/>
<g filter="url(#blurN)" fill="none" stroke="#b4b4b4" stroke-linecap="round" stroke-linejoin="round">
<path d="M2164,1697 C2162,1660 2163,1630 2167,1606" stroke-width="15"/>
<path d="M2168,1604 C2195,1620 2228,1660 2250,1683" stroke-width="19"/>
<path d="M2254,1683 C2238,1650 2252,1620 2266,1600" stroke-width="9"/>
</g><circle cx="2108" cy="1691" r="3" fill="#777"/>
<text x="2182.5" y="1800" font-size="33.5" fill="#111" textLength="51" lengthAdjust="spacingAndGlyphs">SR</text>
</svg>
</body></html>
